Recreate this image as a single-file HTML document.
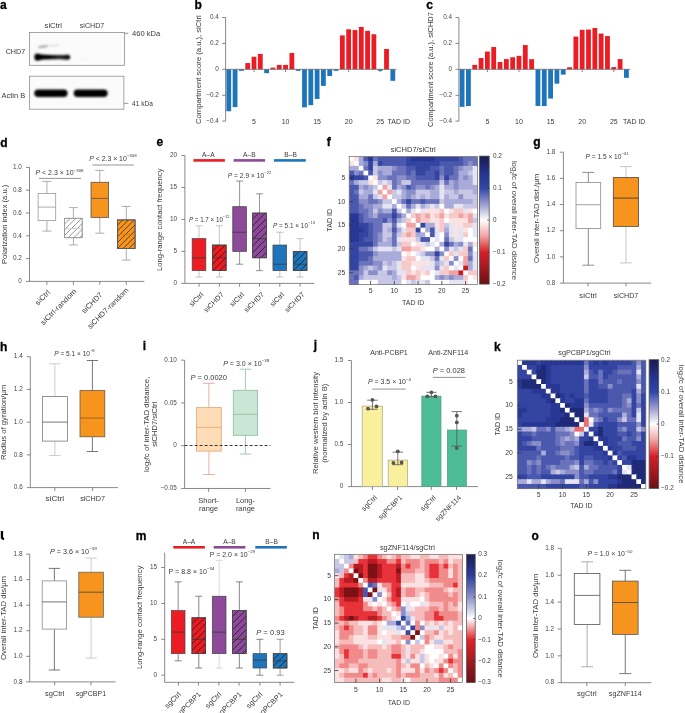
<!DOCTYPE html>
<html><head><meta charset="utf-8"><style>
html,body{margin:0;padding:0;background:#fff;}
svg{display:block;will-change:transform;}
text{font-family:"Liberation Sans", sans-serif;}
</style></head><body>
<svg width="685" height="713" viewBox="0 0 685 713">
<defs>
<filter id="blur1" x="-20%" y="-50%" width="140%" height="200%"><feGaussianBlur stdDeviation="0.8"/></filter>
<pattern id="hw" patternUnits="userSpaceOnUse" width="4" height="4" patternTransform="rotate(45)"><line x1="2" y1="-1" x2="2" y2="5" stroke="#222" stroke-width="0.6"/></pattern>
<pattern id="hd" patternUnits="userSpaceOnUse" width="4" height="4" patternTransform="rotate(45)"><line x1="2" y1="-1" x2="2" y2="5" stroke="#000" stroke-width="0.6"/></pattern>
</defs>
<text x="0.00" y="8.80" font-size="12" font-weight="bold" fill="#000" stroke="#000" stroke-width="0.3" style="fill:#000">a</text>
<text x="53.30" y="28.06" font-size="7.4" text-anchor="middle" fill="#3a3a3a" textLength="17.50" lengthAdjust="spacingAndGlyphs">siCtrl</text>
<text x="92.00" y="28.06" font-size="7.4" text-anchor="middle" fill="#3a3a3a" textLength="24.50" lengthAdjust="spacingAndGlyphs">siCHD7</text>
<rect x="29.40" y="32.40" width="95.10" height="32.90" fill="#fbfbfb" stroke="#8f8f8f" stroke-width="0.8"/>
<rect x="29.40" y="76.20" width="94.50" height="33.00" fill="#fbfbfb" stroke="#8f8f8f" stroke-width="0.8"/>
<linearGradient id="bandg" x1="0" y1="0" x2="1" y2="0"><stop offset="0" stop-color="#000"/><stop offset="0.45" stop-color="#030303"/><stop offset="0.68" stop-color="#262626"/><stop offset="0.85" stop-color="#181818"/><stop offset="1" stop-color="#000"/></linearGradient>
<g filter="url(#blur1)">
<path d="M34.4,57 C34.4,52.8 37,52.9 40.5,54.2 C47,55.0 56,55.1 64.5,55.1 C67.5,54.6 70.2,54.5 70.2,57.2 C70.2,59.9 67.5,59.9 64.5,59.4 C56,59.1 47,59.1 40.5,59.9 C37,61.3 34.4,61.3 34.4,57 Z" fill="url(#bandg)"/>
<ellipse cx="43.2" cy="46.6" rx="5.4" ry="1.0" fill="#9a9a9a" transform="rotate(-9 43.2 46.6)"/>
<ellipse cx="54" cy="45.6" rx="6" ry="0.7" fill="#d4d4d4"/>
<ellipse cx="85" cy="59" rx="4" ry="0.6" fill="#ececec"/>
<rect x="34.3" y="89.5" width="33.3" height="7.4" rx="3.7" fill="#030303"/>
<rect x="73.7" y="89.5" width="34.0" height="7.4" rx="3.7" fill="#030303"/>
</g>
<text x="25.20" y="54.00" font-size="7.5" text-anchor="end" fill="#3a3a3a" textLength="19.50" lengthAdjust="spacingAndGlyphs">CHD7</text>
<text x="25.20" y="98.30" font-size="7.5" text-anchor="end" fill="#3a3a3a" textLength="23.70" lengthAdjust="spacingAndGlyphs">Actin B</text>
<line x1="124.50" y1="33.30" x2="128.30" y2="33.30" stroke="#777" stroke-width="0.8"/>
<line x1="124.00" y1="103.30" x2="128.30" y2="103.30" stroke="#777" stroke-width="0.8"/>
<text x="132.10" y="35.96" font-size="7.4" fill="#3a3a3a" textLength="28.20" lengthAdjust="spacingAndGlyphs">460 kDa</text>
<text x="132.10" y="105.96" font-size="7.4" fill="#3a3a3a" textLength="20.80" lengthAdjust="spacingAndGlyphs">41 kDa</text>
<text x="194.40" y="8.80" font-size="12" font-weight="bold" fill="#000" stroke="#000" stroke-width="0.3" style="fill:#000">b</text>
<rect x="226.36" y="69.30" width="4.80" height="41.96" fill="#1f75bc"/>
<rect x="232.67" y="69.30" width="4.80" height="37.81" fill="#1f75bc"/>
<rect x="238.98" y="69.30" width="4.80" height="1.55" fill="#1f75bc"/>
<rect x="245.29" y="63.08" width="4.80" height="6.22" fill="#ec1c24"/>
<rect x="251.60" y="56.74" width="4.80" height="12.56" fill="#ec1c24"/>
<rect x="257.91" y="53.89" width="4.80" height="15.41" fill="#ec1c24"/>
<rect x="264.22" y="69.30" width="4.80" height="3.88" fill="#1f75bc"/>
<rect x="270.53" y="67.62" width="4.80" height="1.68" fill="#ec1c24"/>
<rect x="276.84" y="64.90" width="4.80" height="4.40" fill="#ec1c24"/>
<rect x="283.15" y="64.90" width="4.80" height="4.40" fill="#ec1c24"/>
<rect x="289.46" y="52.98" width="4.80" height="16.32" fill="#ec1c24"/>
<rect x="295.77" y="69.30" width="4.80" height="1.55" fill="#1f75bc"/>
<rect x="302.08" y="69.30" width="4.80" height="38.07" fill="#1f75bc"/>
<rect x="308.39" y="69.30" width="4.80" height="35.87" fill="#1f75bc"/>
<rect x="314.70" y="69.30" width="4.80" height="29.66" fill="#1f75bc"/>
<rect x="321.01" y="69.30" width="4.80" height="16.58" fill="#1f75bc"/>
<rect x="327.32" y="69.30" width="4.80" height="6.73" fill="#1f75bc"/>
<rect x="333.63" y="69.30" width="4.80" height="1.55" fill="#1f75bc"/>
<rect x="339.94" y="35.37" width="4.80" height="33.93" fill="#ec1c24"/>
<rect x="346.25" y="29.28" width="4.80" height="40.02" fill="#ec1c24"/>
<rect x="352.56" y="30.06" width="4.80" height="39.24" fill="#ec1c24"/>
<rect x="358.87" y="26.95" width="4.80" height="42.35" fill="#ec1c24"/>
<rect x="365.18" y="30.84" width="4.80" height="38.46" fill="#ec1c24"/>
<rect x="371.49" y="34.21" width="4.80" height="35.09" fill="#ec1c24"/>
<rect x="377.80" y="69.30" width="4.80" height="1.55" fill="#1f75bc"/>
<rect x="384.11" y="48.97" width="4.80" height="20.33" fill="#ec1c24"/>
<rect x="390.42" y="69.30" width="4.80" height="11.53" fill="#1f75bc"/>
<line x1="225.60" y1="17.50" x2="225.60" y2="121.10" stroke="#6a6a6a" stroke-width="0.8"/>
<line x1="222.10" y1="17.50" x2="225.60" y2="17.50" stroke="#6a6a6a" stroke-width="0.8"/>
<text x="218.80" y="19.20" font-size="6.4" text-anchor="end" fill="#484848">0.4</text>
<line x1="222.10" y1="43.40" x2="225.60" y2="43.40" stroke="#6a6a6a" stroke-width="0.8"/>
<text x="218.80" y="45.10" font-size="6.4" text-anchor="end" fill="#484848">0.2</text>
<line x1="222.10" y1="69.30" x2="225.60" y2="69.30" stroke="#6a6a6a" stroke-width="0.8"/>
<text x="218.80" y="71.00" font-size="6.4" text-anchor="end" fill="#484848">0</text>
<line x1="222.10" y1="95.30" x2="225.60" y2="95.30" stroke="#6a6a6a" stroke-width="0.8"/>
<text x="218.80" y="97.00" font-size="6.4" text-anchor="end" fill="#484848">−0.2</text>
<line x1="222.10" y1="121.10" x2="225.60" y2="121.10" stroke="#6a6a6a" stroke-width="0.8"/>
<text x="218.80" y="122.80" font-size="6.4" text-anchor="end" fill="#484848">−0.4</text>
<line x1="225.60" y1="69.30" x2="396.50" y2="69.30" stroke="#6a6a6a" stroke-width="0.8"/>
<line x1="254.00" y1="69.30" x2="254.00" y2="72.10" stroke="#666" stroke-width="0.8"/>
<text x="254.00" y="123.82" font-size="7.0" text-anchor="middle" fill="#3a3a3a">5</text>
<line x1="285.55" y1="69.30" x2="285.55" y2="72.10" stroke="#666" stroke-width="0.8"/>
<text x="285.55" y="123.82" font-size="7.0" text-anchor="middle" fill="#3a3a3a">10</text>
<line x1="317.10" y1="69.30" x2="317.10" y2="72.10" stroke="#666" stroke-width="0.8"/>
<text x="317.10" y="123.82" font-size="7.0" text-anchor="middle" fill="#3a3a3a">15</text>
<line x1="348.65" y1="69.30" x2="348.65" y2="72.10" stroke="#666" stroke-width="0.8"/>
<text x="348.65" y="123.82" font-size="7.0" text-anchor="middle" fill="#3a3a3a">20</text>
<line x1="380.20" y1="69.30" x2="380.20" y2="72.10" stroke="#666" stroke-width="0.8"/>
<text x="380.20" y="123.82" font-size="7.0" text-anchor="middle" fill="#3a3a3a">25</text>
<text x="387.60" y="123.89" font-size="7.2" fill="#3a3a3a" textLength="22.40" lengthAdjust="spacingAndGlyphs">TAD ID</text>
<text x="197.79" y="72.41" font-size="7.8" text-anchor="middle" fill="#3a3a3a" textLength="108.60" lengthAdjust="spacingAndGlyphs" transform="rotate(-90 197.79 69.60)">Compartment score (a.u.), siCtrl</text>
<text x="426.30" y="8.80" font-size="12" font-weight="bold" fill="#000" stroke="#000" stroke-width="0.3" style="fill:#000">c</text>
<rect x="459.70" y="69.30" width="4.80" height="37.55" fill="#1f75bc"/>
<rect x="466.02" y="69.30" width="4.80" height="36.78" fill="#1f75bc"/>
<rect x="472.34" y="64.90" width="4.80" height="4.40" fill="#ec1c24"/>
<rect x="478.66" y="58.03" width="4.80" height="11.27" fill="#ec1c24"/>
<rect x="484.98" y="51.56" width="4.80" height="17.74" fill="#ec1c24"/>
<rect x="491.30" y="47.03" width="4.80" height="22.27" fill="#ec1c24"/>
<rect x="497.62" y="62.05" width="4.80" height="7.25" fill="#ec1c24"/>
<rect x="503.94" y="59.07" width="4.80" height="10.23" fill="#ec1c24"/>
<rect x="510.26" y="57.26" width="4.80" height="12.04" fill="#ec1c24"/>
<rect x="516.58" y="55.83" width="4.80" height="13.47" fill="#ec1c24"/>
<rect x="522.90" y="45.08" width="4.80" height="24.22" fill="#ec1c24"/>
<rect x="529.22" y="59.20" width="4.80" height="10.10" fill="#ec1c24"/>
<rect x="535.54" y="69.30" width="4.80" height="36.65" fill="#1f75bc"/>
<rect x="541.86" y="69.30" width="4.80" height="36.78" fill="#1f75bc"/>
<rect x="548.18" y="69.30" width="4.80" height="29.27" fill="#1f75bc"/>
<rect x="554.50" y="69.30" width="4.80" height="14.37" fill="#1f75bc"/>
<rect x="560.82" y="69.30" width="4.80" height="5.31" fill="#1f75bc"/>
<rect x="567.14" y="67.23" width="4.80" height="2.07" fill="#ec1c24"/>
<rect x="573.46" y="36.54" width="4.80" height="32.76" fill="#ec1c24"/>
<rect x="579.78" y="29.80" width="4.80" height="39.50" fill="#ec1c24"/>
<rect x="586.10" y="29.54" width="4.80" height="39.76" fill="#ec1c24"/>
<rect x="592.42" y="27.99" width="4.80" height="41.31" fill="#ec1c24"/>
<rect x="598.74" y="33.56" width="4.80" height="35.74" fill="#ec1c24"/>
<rect x="605.06" y="36.02" width="4.80" height="33.28" fill="#ec1c24"/>
<rect x="611.38" y="67.10" width="4.80" height="2.20" fill="#ec1c24"/>
<rect x="617.70" y="59.07" width="4.80" height="10.23" fill="#ec1c24"/>
<rect x="624.02" y="69.30" width="4.80" height="8.55" fill="#1f75bc"/>
<line x1="458.90" y1="17.50" x2="458.90" y2="121.10" stroke="#6a6a6a" stroke-width="0.8"/>
<line x1="455.40" y1="17.50" x2="458.90" y2="17.50" stroke="#6a6a6a" stroke-width="0.8"/>
<text x="452.10" y="19.20" font-size="6.4" text-anchor="end" fill="#484848">0.4</text>
<line x1="455.40" y1="43.40" x2="458.90" y2="43.40" stroke="#6a6a6a" stroke-width="0.8"/>
<text x="452.10" y="45.10" font-size="6.4" text-anchor="end" fill="#484848">0.2</text>
<line x1="455.40" y1="69.30" x2="458.90" y2="69.30" stroke="#6a6a6a" stroke-width="0.8"/>
<text x="452.10" y="71.00" font-size="6.4" text-anchor="end" fill="#484848">0</text>
<line x1="455.40" y1="95.30" x2="458.90" y2="95.30" stroke="#6a6a6a" stroke-width="0.8"/>
<text x="452.10" y="97.00" font-size="6.4" text-anchor="end" fill="#484848">−0.2</text>
<line x1="455.40" y1="121.10" x2="458.90" y2="121.10" stroke="#6a6a6a" stroke-width="0.8"/>
<text x="452.10" y="122.80" font-size="6.4" text-anchor="end" fill="#484848">−0.4</text>
<line x1="458.90" y1="69.30" x2="630.10" y2="69.30" stroke="#6a6a6a" stroke-width="0.8"/>
<line x1="487.38" y1="69.30" x2="487.38" y2="72.10" stroke="#666" stroke-width="0.8"/>
<text x="487.38" y="123.82" font-size="7.0" text-anchor="middle" fill="#3a3a3a">5</text>
<line x1="518.98" y1="69.30" x2="518.98" y2="72.10" stroke="#666" stroke-width="0.8"/>
<text x="518.98" y="123.82" font-size="7.0" text-anchor="middle" fill="#3a3a3a">10</text>
<line x1="550.58" y1="69.30" x2="550.58" y2="72.10" stroke="#666" stroke-width="0.8"/>
<text x="550.58" y="123.82" font-size="7.0" text-anchor="middle" fill="#3a3a3a">15</text>
<line x1="582.18" y1="69.30" x2="582.18" y2="72.10" stroke="#666" stroke-width="0.8"/>
<text x="582.18" y="123.82" font-size="7.0" text-anchor="middle" fill="#3a3a3a">20</text>
<line x1="613.78" y1="69.30" x2="613.78" y2="72.10" stroke="#666" stroke-width="0.8"/>
<text x="613.78" y="123.82" font-size="7.0" text-anchor="middle" fill="#3a3a3a">25</text>
<text x="623.00" y="123.89" font-size="7.2" fill="#3a3a3a" textLength="22.40" lengthAdjust="spacingAndGlyphs">TAD ID</text>
<text x="429.89" y="72.36" font-size="7.8" text-anchor="middle" fill="#3a3a3a" textLength="114.90" lengthAdjust="spacingAndGlyphs" transform="rotate(-90 429.89 69.55)">Compartment score (a.u.), siCHD7</text>
<text x="0.30" y="146.70" font-size="12" font-weight="bold" fill="#000" stroke="#000" stroke-width="0.3" style="fill:#000">d</text>
<line x1="29.50" y1="167.40" x2="29.50" y2="281.40" stroke="#6a6a6a" stroke-width="0.8"/>
<line x1="26.00" y1="167.40" x2="29.50" y2="167.40" stroke="#6a6a6a" stroke-width="0.8"/>
<text x="21.80" y="169.10" font-size="6.4" text-anchor="end" fill="#484848">1.0</text>
<line x1="26.00" y1="190.20" x2="29.50" y2="190.20" stroke="#6a6a6a" stroke-width="0.8"/>
<text x="21.80" y="191.90" font-size="6.4" text-anchor="end" fill="#484848">0.8</text>
<line x1="26.00" y1="213.00" x2="29.50" y2="213.00" stroke="#6a6a6a" stroke-width="0.8"/>
<text x="21.80" y="214.70" font-size="6.4" text-anchor="end" fill="#484848">0.6</text>
<line x1="26.00" y1="235.80" x2="29.50" y2="235.80" stroke="#6a6a6a" stroke-width="0.8"/>
<text x="21.80" y="237.50" font-size="6.4" text-anchor="end" fill="#484848">0.4</text>
<line x1="26.00" y1="258.60" x2="29.50" y2="258.60" stroke="#6a6a6a" stroke-width="0.8"/>
<text x="21.80" y="260.30" font-size="6.4" text-anchor="end" fill="#484848">0.2</text>
<line x1="26.00" y1="281.40" x2="29.50" y2="281.40" stroke="#6a6a6a" stroke-width="0.8"/>
<text x="21.80" y="283.10" font-size="6.4" text-anchor="end" fill="#484848">0</text>
<line x1="29.50" y1="281.40" x2="144.30" y2="281.40" stroke="#6a6a6a" stroke-width="0.8"/>
<line x1="46.90" y1="281.40" x2="46.90" y2="284.80" stroke="#6a6a6a" stroke-width="0.8"/>
<line x1="73.40" y1="281.40" x2="73.40" y2="284.80" stroke="#6a6a6a" stroke-width="0.8"/>
<line x1="99.80" y1="281.40" x2="99.80" y2="284.80" stroke="#6a6a6a" stroke-width="0.8"/>
<line x1="126.30" y1="281.40" x2="126.30" y2="284.80" stroke="#6a6a6a" stroke-width="0.8"/>
<line x1="46.90" y1="181.40" x2="46.90" y2="193.50" stroke="#9a9a9a" stroke-width="0.8"/>
<line x1="46.90" y1="220.40" x2="46.90" y2="231.10" stroke="#9a9a9a" stroke-width="0.8"/>
<line x1="42.40" y1="181.40" x2="51.40" y2="181.40" stroke="#9a9a9a" stroke-width="0.8"/>
<line x1="42.40" y1="231.10" x2="51.40" y2="231.10" stroke="#9a9a9a" stroke-width="0.8"/>
<rect x="38.10" y="193.50" width="17.60" height="26.90" fill="#fff" stroke="#9a9a9a" stroke-width="0.8"/>
<line x1="38.10" y1="207.10" x2="55.70" y2="207.10" stroke="#9a9a9a" stroke-width="0.8"/>
<line x1="73.40" y1="207.60" x2="73.40" y2="218.30" stroke="#9a9a9a" stroke-width="0.8"/>
<line x1="73.40" y1="237.70" x2="73.40" y2="244.90" stroke="#9a9a9a" stroke-width="0.8"/>
<line x1="68.90" y1="207.60" x2="77.90" y2="207.60" stroke="#9a9a9a" stroke-width="0.8"/>
<line x1="68.90" y1="244.90" x2="77.90" y2="244.90" stroke="#9a9a9a" stroke-width="0.8"/>
<rect x="64.60" y="218.30" width="17.60" height="19.40" fill="#fff" stroke="#9a9a9a" stroke-width="0.8"/>
<clipPath id="hcl1"><rect x="64.60" y="218.30" width="17.60" height="19.40"/></clipPath>
<path clip-path="url(#hcl1)" d="M48.80,239.70L72.20,216.30M54.55,239.70L77.95,216.30M60.30,239.70L83.70,216.30M66.05,239.70L89.45,216.30M71.80,239.70L95.20,216.30M77.55,239.70L100.95,216.30" stroke="#6a6a6a" stroke-width="0.7" fill="none"/>
<rect x="64.60" y="218.30" width="17.60" height="19.40" fill="none" stroke="#9a9a9a" stroke-width="0.8"/>
<line x1="64.60" y1="228.60" x2="82.20" y2="228.60" stroke="#c8c8c8" stroke-width="0.8"/>
<line x1="99.80" y1="170.40" x2="99.80" y2="182.30" stroke="#999" stroke-width="0.8"/>
<line x1="99.80" y1="217.40" x2="99.80" y2="233.20" stroke="#999" stroke-width="0.8"/>
<line x1="95.30" y1="170.40" x2="104.30" y2="170.40" stroke="#999" stroke-width="0.8"/>
<line x1="95.30" y1="233.20" x2="104.30" y2="233.20" stroke="#999" stroke-width="0.8"/>
<rect x="91.00" y="182.30" width="17.60" height="35.10" fill="#f7941d" stroke="#555" stroke-width="0.8"/>
<line x1="91.00" y1="198.40" x2="108.60" y2="198.40" stroke="#555" stroke-width="0.8"/>
<line x1="126.30" y1="206.40" x2="126.30" y2="219.90" stroke="#999" stroke-width="0.8"/>
<line x1="126.30" y1="248.40" x2="126.30" y2="260.10" stroke="#999" stroke-width="0.8"/>
<line x1="121.80" y1="206.40" x2="130.80" y2="206.40" stroke="#999" stroke-width="0.8"/>
<line x1="121.80" y1="260.10" x2="130.80" y2="260.10" stroke="#999" stroke-width="0.8"/>
<rect x="117.50" y="219.90" width="17.60" height="28.50" fill="#f7941d" stroke="#555" stroke-width="0.8"/>
<clipPath id="hcl2"><rect x="117.50" y="219.90" width="17.60" height="28.50"/></clipPath>
<path clip-path="url(#hcl2)" d="M92.20,250.40L124.70,217.90M98.00,250.40L130.50,217.90M103.80,250.40L136.30,217.90M109.60,250.40L142.10,217.90M115.40,250.40L147.90,217.90M121.20,250.40L153.70,217.90M127.00,250.40L159.50,217.90M132.80,250.40L165.30,217.90" stroke="#1a1a1a" stroke-width="0.7" fill="none"/>
<rect x="117.50" y="219.90" width="17.60" height="28.50" fill="none" stroke="#555" stroke-width="0.8"/>
<line x1="117.50" y1="234.40" x2="135.10" y2="234.40" stroke="#d07a18" stroke-width="0.8"/>
<line x1="39.00" y1="178.40" x2="81.00" y2="178.40" stroke="#666" stroke-width="0.7"/>
<line x1="92.30" y1="165.00" x2="133.80" y2="165.00" stroke="#666" stroke-width="0.7"/>
<text x="35.50" y="175.28" font-size="6.6" fill="#3a3a3a" textLength="48.10" lengthAdjust="spacingAndGlyphs"><tspan font-style="italic">P</tspan> &lt; 2.3 × 10<tspan font-size="4.22" dy="-3.63">−308</tspan></text>
<text x="89.20" y="160.88" font-size="6.6" fill="#3a3a3a" textLength="47.50" lengthAdjust="spacingAndGlyphs"><tspan font-style="italic">P</tspan> &lt; 2.3 × 10<tspan font-size="4.22" dy="-3.63">−308</tspan></text>
<text x="3.79" y="227.21" font-size="7.8" text-anchor="middle" fill="#3a3a3a" textLength="79.20" lengthAdjust="spacingAndGlyphs" transform="rotate(-90 3.79 224.40)">Polarization index (a.u.)</text>
<text x="50.70" y="292.90" font-size="7.4" text-anchor="end" fill="#3a3a3a" textLength="18.00" lengthAdjust="spacingAndGlyphs" transform="rotate(-45 50.70 292.90)">siCtrl</text>
<text x="77.00" y="291.80" font-size="7.4" text-anchor="end" fill="#3a3a3a" textLength="47.50" lengthAdjust="spacingAndGlyphs" transform="rotate(-45 77.00 291.80)">siCtrl-random</text>
<text x="103.00" y="295.30" font-size="7.4" text-anchor="end" fill="#3a3a3a" textLength="26.00" lengthAdjust="spacingAndGlyphs" transform="rotate(-45 103.00 295.30)">siCHD7</text>
<text x="129.00" y="290.80" font-size="7.4" text-anchor="end" fill="#3a3a3a" textLength="54.50" lengthAdjust="spacingAndGlyphs" transform="rotate(-45 129.00 290.80)">siCHD7-random</text>
<text x="156.50" y="145.80" font-size="12" font-weight="bold" fill="#000" stroke="#000" stroke-width="0.3" style="fill:#000">e</text>
<line x1="184.90" y1="155.50" x2="184.90" y2="283.40" stroke="#6a6a6a" stroke-width="0.8"/>
<line x1="181.40" y1="155.50" x2="184.90" y2="155.50" stroke="#6a6a6a" stroke-width="0.8"/>
<text x="177.00" y="157.20" font-size="6.4" text-anchor="end" fill="#484848">20</text>
<line x1="181.40" y1="187.47" x2="184.90" y2="187.47" stroke="#6a6a6a" stroke-width="0.8"/>
<text x="177.00" y="189.18" font-size="6.4" text-anchor="end" fill="#484848">15</text>
<line x1="181.40" y1="219.45" x2="184.90" y2="219.45" stroke="#6a6a6a" stroke-width="0.8"/>
<text x="177.00" y="221.15" font-size="6.4" text-anchor="end" fill="#484848">10</text>
<line x1="181.40" y1="251.42" x2="184.90" y2="251.42" stroke="#6a6a6a" stroke-width="0.8"/>
<text x="177.00" y="253.13" font-size="6.4" text-anchor="end" fill="#484848">5</text>
<line x1="181.40" y1="283.40" x2="184.90" y2="283.40" stroke="#6a6a6a" stroke-width="0.8"/>
<text x="177.00" y="285.10" font-size="6.4" text-anchor="end" fill="#484848">0</text>
<line x1="184.90" y1="283.40" x2="314.20" y2="283.40" stroke="#6a6a6a" stroke-width="0.8"/>
<line x1="199.00" y1="283.40" x2="199.00" y2="286.80" stroke="#6a6a6a" stroke-width="0.8"/>
<line x1="219.30" y1="283.40" x2="219.30" y2="286.80" stroke="#6a6a6a" stroke-width="0.8"/>
<line x1="239.60" y1="283.40" x2="239.60" y2="286.80" stroke="#6a6a6a" stroke-width="0.8"/>
<line x1="259.50" y1="283.40" x2="259.50" y2="286.80" stroke="#6a6a6a" stroke-width="0.8"/>
<line x1="279.80" y1="283.40" x2="279.80" y2="286.80" stroke="#6a6a6a" stroke-width="0.8"/>
<line x1="300.10" y1="283.40" x2="300.10" y2="286.80" stroke="#6a6a6a" stroke-width="0.8"/>
<line x1="199.00" y1="225.84" x2="199.00" y2="238.63" stroke="#aaa" stroke-width="0.7"/>
<line x1="199.00" y1="270.61" x2="199.00" y2="277.00" stroke="#aaa" stroke-width="0.7"/>
<line x1="195.50" y1="225.84" x2="202.50" y2="225.84" stroke="#aaa" stroke-width="0.7"/>
<line x1="195.50" y1="277.00" x2="202.50" y2="277.00" stroke="#aaa" stroke-width="0.7"/>
<rect x="192.15" y="238.63" width="13.70" height="31.97" fill="#ec1c24" stroke="#444" stroke-width="0.7"/>
<line x1="192.15" y1="257.82" x2="205.85" y2="257.82" stroke="#333" stroke-width="0.7"/>
<line x1="219.30" y1="225.84" x2="219.30" y2="245.03" stroke="#aaa" stroke-width="0.7"/>
<line x1="219.30" y1="270.61" x2="219.30" y2="277.00" stroke="#aaa" stroke-width="0.7"/>
<line x1="215.80" y1="225.84" x2="222.80" y2="225.84" stroke="#aaa" stroke-width="0.7"/>
<line x1="215.80" y1="277.00" x2="222.80" y2="277.00" stroke="#aaa" stroke-width="0.7"/>
<rect x="212.45" y="245.03" width="13.70" height="25.58" fill="#ec1c24" stroke="#444" stroke-width="0.7"/>
<clipPath id="hcl3"><rect x="212.45" y="245.03" width="13.70" height="25.58"/></clipPath>
<path clip-path="url(#hcl3)" d="M190.87,272.61L220.45,243.03M197.57,272.61L227.15,243.03M204.27,272.61L233.85,243.03M210.97,272.61L240.55,243.03M217.67,272.61L247.25,243.03" stroke="#111" stroke-width="0.7" fill="none"/>
<rect x="212.45" y="245.03" width="13.70" height="25.58" fill="none" stroke="#444" stroke-width="0.7"/>
<line x1="212.45" y1="257.82" x2="226.15" y2="257.82" stroke="#333" stroke-width="0.7"/>
<line x1="239.60" y1="181.08" x2="239.60" y2="206.66" stroke="#666" stroke-width="0.7"/>
<line x1="239.60" y1="251.42" x2="239.60" y2="264.21" stroke="#666" stroke-width="0.7"/>
<line x1="236.10" y1="181.08" x2="243.10" y2="181.08" stroke="#666" stroke-width="0.7"/>
<line x1="236.10" y1="264.21" x2="243.10" y2="264.21" stroke="#666" stroke-width="0.7"/>
<rect x="232.75" y="206.66" width="13.70" height="44.77" fill="#8c4a98" stroke="#444" stroke-width="0.7"/>
<line x1="232.75" y1="232.24" x2="246.45" y2="232.24" stroke="#333" stroke-width="0.7"/>
<line x1="259.50" y1="193.87" x2="259.50" y2="213.05" stroke="#666" stroke-width="0.7"/>
<line x1="259.50" y1="257.82" x2="259.50" y2="270.61" stroke="#666" stroke-width="0.7"/>
<line x1="256.00" y1="193.87" x2="263.00" y2="193.87" stroke="#666" stroke-width="0.7"/>
<line x1="256.00" y1="270.61" x2="263.00" y2="270.61" stroke="#666" stroke-width="0.7"/>
<rect x="252.65" y="213.05" width="13.70" height="44.77" fill="#8c4a98" stroke="#444" stroke-width="0.7"/>
<clipPath id="hcl4"><rect x="252.65" y="213.05" width="13.70" height="44.77"/></clipPath>
<path clip-path="url(#hcl4)" d="M211.88,259.82L260.65,211.05M218.58,259.82L267.35,211.05M225.28,259.82L274.05,211.05M231.99,259.82L280.75,211.05M238.69,259.82L287.45,211.05M245.38,259.82L294.15,211.05M252.08,259.82L300.85,211.05M258.79,259.82L307.55,211.05" stroke="#111" stroke-width="0.7" fill="none"/>
<rect x="252.65" y="213.05" width="13.70" height="44.77" fill="none" stroke="#444" stroke-width="0.7"/>
<line x1="252.65" y1="238.63" x2="266.35" y2="238.63" stroke="#333" stroke-width="0.7"/>
<line x1="279.80" y1="232.24" x2="279.80" y2="245.03" stroke="#aaa" stroke-width="0.7"/>
<line x1="279.80" y1="270.61" x2="279.80" y2="277.00" stroke="#aaa" stroke-width="0.7"/>
<line x1="276.30" y1="232.24" x2="283.30" y2="232.24" stroke="#aaa" stroke-width="0.7"/>
<line x1="276.30" y1="277.00" x2="283.30" y2="277.00" stroke="#aaa" stroke-width="0.7"/>
<rect x="272.95" y="245.03" width="13.70" height="25.58" fill="#1f75bc" stroke="#444" stroke-width="0.7"/>
<line x1="272.95" y1="264.21" x2="286.65" y2="264.21" stroke="#333" stroke-width="0.7"/>
<line x1="300.10" y1="238.63" x2="300.10" y2="251.42" stroke="#aaa" stroke-width="0.7"/>
<line x1="300.10" y1="270.61" x2="300.10" y2="277.00" stroke="#aaa" stroke-width="0.7"/>
<line x1="296.60" y1="238.63" x2="303.60" y2="238.63" stroke="#aaa" stroke-width="0.7"/>
<line x1="296.60" y1="277.00" x2="303.60" y2="277.00" stroke="#aaa" stroke-width="0.7"/>
<rect x="293.25" y="251.42" width="13.70" height="19.18" fill="#1f75bc" stroke="#444" stroke-width="0.7"/>
<clipPath id="hcl5"><rect x="293.25" y="251.42" width="13.70" height="19.18"/></clipPath>
<path clip-path="url(#hcl5)" d="M278.06,272.61L301.25,249.42M284.77,272.61L307.95,249.42M291.46,272.61L314.65,249.42M298.17,272.61L321.35,249.42M304.86,272.61L328.05,249.42" stroke="#111" stroke-width="0.7" fill="none"/>
<rect x="293.25" y="251.42" width="13.70" height="19.18" fill="none" stroke="#444" stroke-width="0.7"/>
<line x1="293.25" y1="264.21" x2="306.95" y2="264.21" stroke="#333" stroke-width="0.7"/>
<rect x="193.40" y="159.10" width="31.50" height="2.60" fill="#ec1c24"/>
<rect x="233.60" y="159.10" width="31.50" height="2.60" fill="#8c4a98"/>
<rect x="274.00" y="159.10" width="31.80" height="2.60" fill="#1f75bc"/>
<text x="208.30" y="157.38" font-size="6.6" text-anchor="middle" fill="#3a3a3a">A–A</text>
<text x="249.30" y="157.38" font-size="6.6" text-anchor="middle" fill="#3a3a3a">A–B</text>
<text x="290.60" y="157.38" font-size="6.6" text-anchor="middle" fill="#3a3a3a">B–B</text>
<text x="188.90" y="221.68" font-size="6.6" fill="#3a3a3a" textLength="40.70" lengthAdjust="spacingAndGlyphs"><tspan font-style="italic">P</tspan> = 1.7 × 10<tspan font-size="4.22" dy="-3.63">−12</tspan></text>
<text x="227.80" y="177.58" font-size="6.6" fill="#3a3a3a" textLength="43.60" lengthAdjust="spacingAndGlyphs"><tspan font-style="italic">P</tspan> = 2.9 × 10<tspan font-size="4.22" dy="-3.63">−22</tspan></text>
<text x="273.00" y="227.98" font-size="6.6" fill="#3a3a3a" textLength="42.00" lengthAdjust="spacingAndGlyphs"><tspan font-style="italic">P</tspan> = 5.1 × 10<tspan font-size="4.22" dy="-3.63">−13</tspan></text>
<text x="159.69" y="222.56" font-size="7.8" text-anchor="middle" fill="#3a3a3a" textLength="102.70" lengthAdjust="spacingAndGlyphs" transform="rotate(-90 159.69 219.75)">Long-range contact frequency</text>
<text x="204.00" y="295.00" font-size="7.0" text-anchor="end" fill="#3a3a3a" textLength="17.00" lengthAdjust="spacingAndGlyphs" transform="rotate(-45 204.00 295.00)">siCtrl</text>
<text x="224.30" y="295.00" font-size="7.0" text-anchor="end" fill="#3a3a3a" textLength="25.00" lengthAdjust="spacingAndGlyphs" transform="rotate(-45 224.30 295.00)">siCHD7</text>
<text x="244.60" y="295.00" font-size="7.0" text-anchor="end" fill="#3a3a3a" textLength="17.00" lengthAdjust="spacingAndGlyphs" transform="rotate(-45 244.60 295.00)">siCtrl</text>
<text x="264.50" y="295.00" font-size="7.0" text-anchor="end" fill="#3a3a3a" textLength="25.00" lengthAdjust="spacingAndGlyphs" transform="rotate(-45 264.50 295.00)">siCHD7</text>
<text x="284.80" y="295.00" font-size="7.0" text-anchor="end" fill="#3a3a3a" textLength="17.00" lengthAdjust="spacingAndGlyphs" transform="rotate(-45 284.80 295.00)">siCtrl</text>
<text x="305.10" y="295.00" font-size="7.0" text-anchor="end" fill="#3a3a3a" textLength="25.00" lengthAdjust="spacingAndGlyphs" transform="rotate(-45 305.10 295.00)">siCHD7</text>
<text x="326.65" y="145.70" font-size="12" font-weight="bold" fill="#000" stroke="#000" stroke-width="0.3" style="fill:#000">f</text>
<text x="413.25" y="152.49" font-size="7.2" text-anchor="middle" fill="#3a3a3a" textLength="45.10" lengthAdjust="spacingAndGlyphs">siCHD7/siCtrl</text>
<clipPath id="hclip1"><rect x="349.20" y="156.40" width="128.25" height="128.25"/></clipPath>
<g clip-path="url(#hclip1)">
<rect x="349.20" y="156.40" width="5.75" height="5.75" fill="#ffffff"/>
<rect x="353.95" y="156.40" width="5.75" height="5.75" fill="#fbe3e3"/>
<rect x="358.70" y="156.40" width="5.75" height="5.75" fill="#a9abd9"/>
<rect x="363.45" y="156.40" width="5.75" height="5.75" fill="#4a58ad"/>
<rect x="368.20" y="156.40" width="5.75" height="5.75" fill="#283794"/>
<rect x="372.95" y="156.40" width="5.75" height="5.75" fill="#6a72bb"/>
<rect x="377.70" y="156.40" width="5.75" height="5.75" fill="#4a58ad"/>
<rect x="382.45" y="156.40" width="5.75" height="5.75" fill="#4a58ad"/>
<rect x="387.20" y="156.40" width="5.75" height="5.75" fill="#4a58ad"/>
<rect x="391.95" y="156.40" width="5.75" height="5.75" fill="#4a58ad"/>
<rect x="396.70" y="156.40" width="5.75" height="5.75" fill="#4a58ad"/>
<rect x="401.45" y="156.40" width="5.75" height="5.75" fill="#4a58ad"/>
<rect x="406.20" y="156.40" width="5.75" height="5.75" fill="#3444a1"/>
<rect x="410.95" y="156.40" width="5.75" height="5.75" fill="#283794"/>
<rect x="415.70" y="156.40" width="5.75" height="5.75" fill="#283794"/>
<rect x="420.45" y="156.40" width="5.75" height="5.75" fill="#283794"/>
<rect x="425.20" y="156.40" width="5.75" height="5.75" fill="#283794"/>
<rect x="429.95" y="156.40" width="5.75" height="5.75" fill="#283794"/>
<rect x="434.70" y="156.40" width="5.75" height="5.75" fill="#3444a1"/>
<rect x="439.45" y="156.40" width="5.75" height="5.75" fill="#3444a1"/>
<rect x="444.20" y="156.40" width="5.75" height="5.75" fill="#3444a1"/>
<rect x="448.95" y="156.40" width="5.75" height="5.75" fill="#3444a1"/>
<rect x="453.70" y="156.40" width="5.75" height="5.75" fill="#3444a1"/>
<rect x="458.45" y="156.40" width="5.75" height="5.75" fill="#4a58ad"/>
<rect x="463.20" y="156.40" width="5.75" height="5.75" fill="#6a72bb"/>
<rect x="467.95" y="156.40" width="5.75" height="5.75" fill="#6a72bb"/>
<rect x="472.70" y="156.40" width="5.75" height="5.75" fill="#6a72bb"/>
<rect x="349.20" y="161.15" width="5.75" height="5.75" fill="#fbe3e3"/>
<rect x="353.95" y="161.15" width="5.75" height="5.75" fill="#ffffff"/>
<rect x="358.70" y="161.15" width="5.75" height="5.75" fill="#a9abd9"/>
<rect x="363.45" y="161.15" width="5.75" height="5.75" fill="#8a8ec9"/>
<rect x="368.20" y="161.15" width="5.75" height="5.75" fill="#3444a1"/>
<rect x="372.95" y="161.15" width="5.75" height="5.75" fill="#a9abd9"/>
<rect x="377.70" y="161.15" width="5.75" height="5.75" fill="#3444a1"/>
<rect x="382.45" y="161.15" width="5.75" height="5.75" fill="#4a58ad"/>
<rect x="387.20" y="161.15" width="5.75" height="5.75" fill="#4a58ad"/>
<rect x="391.95" y="161.15" width="5.75" height="5.75" fill="#4a58ad"/>
<rect x="396.70" y="161.15" width="5.75" height="5.75" fill="#4a58ad"/>
<rect x="401.45" y="161.15" width="5.75" height="5.75" fill="#4a58ad"/>
<rect x="406.20" y="161.15" width="5.75" height="5.75" fill="#3444a1"/>
<rect x="410.95" y="161.15" width="5.75" height="5.75" fill="#3444a1"/>
<rect x="415.70" y="161.15" width="5.75" height="5.75" fill="#3444a1"/>
<rect x="420.45" y="161.15" width="5.75" height="5.75" fill="#3444a1"/>
<rect x="425.20" y="161.15" width="5.75" height="5.75" fill="#3444a1"/>
<rect x="429.95" y="161.15" width="5.75" height="5.75" fill="#3444a1"/>
<rect x="434.70" y="161.15" width="5.75" height="5.75" fill="#3444a1"/>
<rect x="439.45" y="161.15" width="5.75" height="5.75" fill="#4a58ad"/>
<rect x="444.20" y="161.15" width="5.75" height="5.75" fill="#4a58ad"/>
<rect x="448.95" y="161.15" width="5.75" height="5.75" fill="#4a58ad"/>
<rect x="453.70" y="161.15" width="5.75" height="5.75" fill="#4a58ad"/>
<rect x="458.45" y="161.15" width="5.75" height="5.75" fill="#4a58ad"/>
<rect x="463.20" y="161.15" width="5.75" height="5.75" fill="#6a72bb"/>
<rect x="467.95" y="161.15" width="5.75" height="5.75" fill="#8a8ec9"/>
<rect x="472.70" y="161.15" width="5.75" height="5.75" fill="#6a72bb"/>
<rect x="349.20" y="165.90" width="5.75" height="5.75" fill="#a9abd9"/>
<rect x="353.95" y="165.90" width="5.75" height="5.75" fill="#a9abd9"/>
<rect x="358.70" y="165.90" width="5.75" height="5.75" fill="#ffffff"/>
<rect x="363.45" y="165.90" width="5.75" height="5.75" fill="#6a72bb"/>
<rect x="368.20" y="165.90" width="5.75" height="5.75" fill="#3444a1"/>
<rect x="372.95" y="165.90" width="5.75" height="5.75" fill="#c8c8e6"/>
<rect x="377.70" y="165.90" width="5.75" height="5.75" fill="#a9abd9"/>
<rect x="382.45" y="165.90" width="5.75" height="5.75" fill="#a9abd9"/>
<rect x="387.20" y="165.90" width="5.75" height="5.75" fill="#a9abd9"/>
<rect x="391.95" y="165.90" width="5.75" height="5.75" fill="#8a8ec9"/>
<rect x="396.70" y="165.90" width="5.75" height="5.75" fill="#6a72bb"/>
<rect x="401.45" y="165.90" width="5.75" height="5.75" fill="#6a72bb"/>
<rect x="406.20" y="165.90" width="5.75" height="5.75" fill="#4a58ad"/>
<rect x="410.95" y="165.90" width="5.75" height="5.75" fill="#4a58ad"/>
<rect x="415.70" y="165.90" width="5.75" height="5.75" fill="#3444a1"/>
<rect x="420.45" y="165.90" width="5.75" height="5.75" fill="#3444a1"/>
<rect x="425.20" y="165.90" width="5.75" height="5.75" fill="#3444a1"/>
<rect x="429.95" y="165.90" width="5.75" height="5.75" fill="#4a58ad"/>
<rect x="434.70" y="165.90" width="5.75" height="5.75" fill="#4a58ad"/>
<rect x="439.45" y="165.90" width="5.75" height="5.75" fill="#6a72bb"/>
<rect x="444.20" y="165.90" width="5.75" height="5.75" fill="#4a58ad"/>
<rect x="448.95" y="165.90" width="5.75" height="5.75" fill="#4a58ad"/>
<rect x="453.70" y="165.90" width="5.75" height="5.75" fill="#6a72bb"/>
<rect x="458.45" y="165.90" width="5.75" height="5.75" fill="#8a8ec9"/>
<rect x="463.20" y="165.90" width="5.75" height="5.75" fill="#a9abd9"/>
<rect x="467.95" y="165.90" width="5.75" height="5.75" fill="#a9abd9"/>
<rect x="472.70" y="165.90" width="5.75" height="5.75" fill="#e4e4f2"/>
<rect x="349.20" y="170.65" width="5.75" height="5.75" fill="#4a58ad"/>
<rect x="353.95" y="170.65" width="5.75" height="5.75" fill="#8a8ec9"/>
<rect x="358.70" y="170.65" width="5.75" height="5.75" fill="#6a72bb"/>
<rect x="363.45" y="170.65" width="5.75" height="5.75" fill="#ffffff"/>
<rect x="368.20" y="170.65" width="5.75" height="5.75" fill="#4a58ad"/>
<rect x="372.95" y="170.65" width="5.75" height="5.75" fill="#c8c8e6"/>
<rect x="377.70" y="170.65" width="5.75" height="5.75" fill="#8a8ec9"/>
<rect x="382.45" y="170.65" width="5.75" height="5.75" fill="#a9abd9"/>
<rect x="387.20" y="170.65" width="5.75" height="5.75" fill="#a9abd9"/>
<rect x="391.95" y="170.65" width="5.75" height="5.75" fill="#6a72bb"/>
<rect x="396.70" y="170.65" width="5.75" height="5.75" fill="#6a72bb"/>
<rect x="401.45" y="170.65" width="5.75" height="5.75" fill="#6a72bb"/>
<rect x="406.20" y="170.65" width="5.75" height="5.75" fill="#4a58ad"/>
<rect x="410.95" y="170.65" width="5.75" height="5.75" fill="#6a72bb"/>
<rect x="415.70" y="170.65" width="5.75" height="5.75" fill="#3444a1"/>
<rect x="420.45" y="170.65" width="5.75" height="5.75" fill="#3444a1"/>
<rect x="425.20" y="170.65" width="5.75" height="5.75" fill="#4a58ad"/>
<rect x="429.95" y="170.65" width="5.75" height="5.75" fill="#4a58ad"/>
<rect x="434.70" y="170.65" width="5.75" height="5.75" fill="#3444a1"/>
<rect x="439.45" y="170.65" width="5.75" height="5.75" fill="#6a72bb"/>
<rect x="444.20" y="170.65" width="5.75" height="5.75" fill="#4a58ad"/>
<rect x="448.95" y="170.65" width="5.75" height="5.75" fill="#4a58ad"/>
<rect x="453.70" y="170.65" width="5.75" height="5.75" fill="#6a72bb"/>
<rect x="458.45" y="170.65" width="5.75" height="5.75" fill="#a9abd9"/>
<rect x="463.20" y="170.65" width="5.75" height="5.75" fill="#a9abd9"/>
<rect x="467.95" y="170.65" width="5.75" height="5.75" fill="#c8c8e6"/>
<rect x="472.70" y="170.65" width="5.75" height="5.75" fill="#e4e4f2"/>
<rect x="349.20" y="175.40" width="5.75" height="5.75" fill="#283794"/>
<rect x="353.95" y="175.40" width="5.75" height="5.75" fill="#3444a1"/>
<rect x="358.70" y="175.40" width="5.75" height="5.75" fill="#3444a1"/>
<rect x="363.45" y="175.40" width="5.75" height="5.75" fill="#4a58ad"/>
<rect x="368.20" y="175.40" width="5.75" height="5.75" fill="#ffffff"/>
<rect x="372.95" y="175.40" width="5.75" height="5.75" fill="#fbe3e3"/>
<rect x="377.70" y="175.40" width="5.75" height="5.75" fill="#8a8ec9"/>
<rect x="382.45" y="175.40" width="5.75" height="5.75" fill="#8a8ec9"/>
<rect x="387.20" y="175.40" width="5.75" height="5.75" fill="#6a72bb"/>
<rect x="391.95" y="175.40" width="5.75" height="5.75" fill="#6a72bb"/>
<rect x="396.70" y="175.40" width="5.75" height="5.75" fill="#8a8ec9"/>
<rect x="401.45" y="175.40" width="5.75" height="5.75" fill="#8a8ec9"/>
<rect x="406.20" y="175.40" width="5.75" height="5.75" fill="#6a72bb"/>
<rect x="410.95" y="175.40" width="5.75" height="5.75" fill="#6a72bb"/>
<rect x="415.70" y="175.40" width="5.75" height="5.75" fill="#4a58ad"/>
<rect x="420.45" y="175.40" width="5.75" height="5.75" fill="#4a58ad"/>
<rect x="425.20" y="175.40" width="5.75" height="5.75" fill="#4a58ad"/>
<rect x="429.95" y="175.40" width="5.75" height="5.75" fill="#4a58ad"/>
<rect x="434.70" y="175.40" width="5.75" height="5.75" fill="#3444a1"/>
<rect x="439.45" y="175.40" width="5.75" height="5.75" fill="#8a8ec9"/>
<rect x="444.20" y="175.40" width="5.75" height="5.75" fill="#3444a1"/>
<rect x="448.95" y="175.40" width="5.75" height="5.75" fill="#6a72bb"/>
<rect x="453.70" y="175.40" width="5.75" height="5.75" fill="#6a72bb"/>
<rect x="458.45" y="175.40" width="5.75" height="5.75" fill="#a9abd9"/>
<rect x="463.20" y="175.40" width="5.75" height="5.75" fill="#8a8ec9"/>
<rect x="467.95" y="175.40" width="5.75" height="5.75" fill="#a9abd9"/>
<rect x="472.70" y="175.40" width="5.75" height="5.75" fill="#e4e4f2"/>
<rect x="349.20" y="180.15" width="5.75" height="5.75" fill="#6a72bb"/>
<rect x="353.95" y="180.15" width="5.75" height="5.75" fill="#a9abd9"/>
<rect x="358.70" y="180.15" width="5.75" height="5.75" fill="#c8c8e6"/>
<rect x="363.45" y="180.15" width="5.75" height="5.75" fill="#c8c8e6"/>
<rect x="368.20" y="180.15" width="5.75" height="5.75" fill="#fbe3e3"/>
<rect x="372.95" y="180.15" width="5.75" height="5.75" fill="#ffffff"/>
<rect x="377.70" y="180.15" width="5.75" height="5.75" fill="#c8c8e6"/>
<rect x="382.45" y="180.15" width="5.75" height="5.75" fill="#e4e4f2"/>
<rect x="387.20" y="180.15" width="5.75" height="5.75" fill="#c8c8e6"/>
<rect x="391.95" y="180.15" width="5.75" height="5.75" fill="#6a72bb"/>
<rect x="396.70" y="180.15" width="5.75" height="5.75" fill="#8a8ec9"/>
<rect x="401.45" y="180.15" width="5.75" height="5.75" fill="#c8c8e6"/>
<rect x="406.20" y="180.15" width="5.75" height="5.75" fill="#c8c8e6"/>
<rect x="410.95" y="180.15" width="5.75" height="5.75" fill="#6a72bb"/>
<rect x="415.70" y="180.15" width="5.75" height="5.75" fill="#6a72bb"/>
<rect x="420.45" y="180.15" width="5.75" height="5.75" fill="#6a72bb"/>
<rect x="425.20" y="180.15" width="5.75" height="5.75" fill="#6a72bb"/>
<rect x="429.95" y="180.15" width="5.75" height="5.75" fill="#6a72bb"/>
<rect x="434.70" y="180.15" width="5.75" height="5.75" fill="#6a72bb"/>
<rect x="439.45" y="180.15" width="5.75" height="5.75" fill="#c8c8e6"/>
<rect x="444.20" y="180.15" width="5.75" height="5.75" fill="#6a72bb"/>
<rect x="448.95" y="180.15" width="5.75" height="5.75" fill="#a9abd9"/>
<rect x="453.70" y="180.15" width="5.75" height="5.75" fill="#8a8ec9"/>
<rect x="458.45" y="180.15" width="5.75" height="5.75" fill="#a9abd9"/>
<rect x="463.20" y="180.15" width="5.75" height="5.75" fill="#a9abd9"/>
<rect x="467.95" y="180.15" width="5.75" height="5.75" fill="#a9abd9"/>
<rect x="472.70" y="180.15" width="5.75" height="5.75" fill="#e4e4f2"/>
<rect x="349.20" y="184.90" width="5.75" height="5.75" fill="#4a58ad"/>
<rect x="353.95" y="184.90" width="5.75" height="5.75" fill="#4a58ad"/>
<rect x="358.70" y="184.90" width="5.75" height="5.75" fill="#a9abd9"/>
<rect x="363.45" y="184.90" width="5.75" height="5.75" fill="#8a8ec9"/>
<rect x="368.20" y="184.90" width="5.75" height="5.75" fill="#a9abd9"/>
<rect x="372.95" y="184.90" width="5.75" height="5.75" fill="#c8c8e6"/>
<rect x="377.70" y="184.90" width="5.75" height="5.75" fill="#ffffff"/>
<rect x="382.45" y="184.90" width="5.75" height="5.75" fill="#f0a3a3"/>
<rect x="387.20" y="184.90" width="5.75" height="5.75" fill="#e4e4f2"/>
<rect x="391.95" y="184.90" width="5.75" height="5.75" fill="#6a72bb"/>
<rect x="396.70" y="184.90" width="5.75" height="5.75" fill="#a9abd9"/>
<rect x="401.45" y="184.90" width="5.75" height="5.75" fill="#8a8ec9"/>
<rect x="406.20" y="184.90" width="5.75" height="5.75" fill="#4a58ad"/>
<rect x="410.95" y="184.90" width="5.75" height="5.75" fill="#6a72bb"/>
<rect x="415.70" y="184.90" width="5.75" height="5.75" fill="#8a8ec9"/>
<rect x="420.45" y="184.90" width="5.75" height="5.75" fill="#8a8ec9"/>
<rect x="425.20" y="184.90" width="5.75" height="5.75" fill="#6a72bb"/>
<rect x="429.95" y="184.90" width="5.75" height="5.75" fill="#8a8ec9"/>
<rect x="434.70" y="184.90" width="5.75" height="5.75" fill="#a9abd9"/>
<rect x="439.45" y="184.90" width="5.75" height="5.75" fill="#e4e4f2"/>
<rect x="444.20" y="184.90" width="5.75" height="5.75" fill="#a9abd9"/>
<rect x="448.95" y="184.90" width="5.75" height="5.75" fill="#a9abd9"/>
<rect x="453.70" y="184.90" width="5.75" height="5.75" fill="#8a8ec9"/>
<rect x="458.45" y="184.90" width="5.75" height="5.75" fill="#a9abd9"/>
<rect x="463.20" y="184.90" width="5.75" height="5.75" fill="#a9abd9"/>
<rect x="467.95" y="184.90" width="5.75" height="5.75" fill="#a9abd9"/>
<rect x="472.70" y="184.90" width="5.75" height="5.75" fill="#a9abd9"/>
<rect x="349.20" y="189.65" width="5.75" height="5.75" fill="#4a58ad"/>
<rect x="353.95" y="189.65" width="5.75" height="5.75" fill="#6a72bb"/>
<rect x="358.70" y="189.65" width="5.75" height="5.75" fill="#c8c8e6"/>
<rect x="363.45" y="189.65" width="5.75" height="5.75" fill="#a9abd9"/>
<rect x="368.20" y="189.65" width="5.75" height="5.75" fill="#a9abd9"/>
<rect x="372.95" y="189.65" width="5.75" height="5.75" fill="#e4e4f2"/>
<rect x="377.70" y="189.65" width="5.75" height="5.75" fill="#f0a3a3"/>
<rect x="382.45" y="189.65" width="5.75" height="5.75" fill="#ffffff"/>
<rect x="387.20" y="189.65" width="5.75" height="5.75" fill="#f0a3a3"/>
<rect x="391.95" y="189.65" width="5.75" height="5.75" fill="#c8c8e6"/>
<rect x="396.70" y="189.65" width="5.75" height="5.75" fill="#e4e4f2"/>
<rect x="401.45" y="189.65" width="5.75" height="5.75" fill="#a9abd9"/>
<rect x="406.20" y="189.65" width="5.75" height="5.75" fill="#8a8ec9"/>
<rect x="410.95" y="189.65" width="5.75" height="5.75" fill="#8a8ec9"/>
<rect x="415.70" y="189.65" width="5.75" height="5.75" fill="#c8c8e6"/>
<rect x="420.45" y="189.65" width="5.75" height="5.75" fill="#c8c8e6"/>
<rect x="425.20" y="189.65" width="5.75" height="5.75" fill="#c8c8e6"/>
<rect x="429.95" y="189.65" width="5.75" height="5.75" fill="#a9abd9"/>
<rect x="434.70" y="189.65" width="5.75" height="5.75" fill="#a9abd9"/>
<rect x="439.45" y="189.65" width="5.75" height="5.75" fill="#e4e4f2"/>
<rect x="444.20" y="189.65" width="5.75" height="5.75" fill="#c8c8e6"/>
<rect x="448.95" y="189.65" width="5.75" height="5.75" fill="#c8c8e6"/>
<rect x="453.70" y="189.65" width="5.75" height="5.75" fill="#a9abd9"/>
<rect x="458.45" y="189.65" width="5.75" height="5.75" fill="#c8c8e6"/>
<rect x="463.20" y="189.65" width="5.75" height="5.75" fill="#c8c8e6"/>
<rect x="467.95" y="189.65" width="5.75" height="5.75" fill="#c8c8e6"/>
<rect x="472.70" y="189.65" width="5.75" height="5.75" fill="#a9abd9"/>
<rect x="349.20" y="194.40" width="5.75" height="5.75" fill="#4a58ad"/>
<rect x="353.95" y="194.40" width="5.75" height="5.75" fill="#4a58ad"/>
<rect x="358.70" y="194.40" width="5.75" height="5.75" fill="#a9abd9"/>
<rect x="363.45" y="194.40" width="5.75" height="5.75" fill="#a9abd9"/>
<rect x="368.20" y="194.40" width="5.75" height="5.75" fill="#6a72bb"/>
<rect x="372.95" y="194.40" width="5.75" height="5.75" fill="#c8c8e6"/>
<rect x="377.70" y="194.40" width="5.75" height="5.75" fill="#e4e4f2"/>
<rect x="382.45" y="194.40" width="5.75" height="5.75" fill="#f0a3a3"/>
<rect x="387.20" y="194.40" width="5.75" height="5.75" fill="#ffffff"/>
<rect x="391.95" y="194.40" width="5.75" height="5.75" fill="#c8c8e6"/>
<rect x="396.70" y="194.40" width="5.75" height="5.75" fill="#c8c8e6"/>
<rect x="401.45" y="194.40" width="5.75" height="5.75" fill="#a9abd9"/>
<rect x="406.20" y="194.40" width="5.75" height="5.75" fill="#8a8ec9"/>
<rect x="410.95" y="194.40" width="5.75" height="5.75" fill="#a9abd9"/>
<rect x="415.70" y="194.40" width="5.75" height="5.75" fill="#c8c8e6"/>
<rect x="420.45" y="194.40" width="5.75" height="5.75" fill="#a9abd9"/>
<rect x="425.20" y="194.40" width="5.75" height="5.75" fill="#c8c8e6"/>
<rect x="429.95" y="194.40" width="5.75" height="5.75" fill="#a9abd9"/>
<rect x="434.70" y="194.40" width="5.75" height="5.75" fill="#a9abd9"/>
<rect x="439.45" y="194.40" width="5.75" height="5.75" fill="#e4e4f2"/>
<rect x="444.20" y="194.40" width="5.75" height="5.75" fill="#a9abd9"/>
<rect x="448.95" y="194.40" width="5.75" height="5.75" fill="#c8c8e6"/>
<rect x="453.70" y="194.40" width="5.75" height="5.75" fill="#c8c8e6"/>
<rect x="458.45" y="194.40" width="5.75" height="5.75" fill="#8a8ec9"/>
<rect x="463.20" y="194.40" width="5.75" height="5.75" fill="#c8c8e6"/>
<rect x="467.95" y="194.40" width="5.75" height="5.75" fill="#c8c8e6"/>
<rect x="472.70" y="194.40" width="5.75" height="5.75" fill="#c8c8e6"/>
<rect x="349.20" y="199.15" width="5.75" height="5.75" fill="#4a58ad"/>
<rect x="353.95" y="199.15" width="5.75" height="5.75" fill="#4a58ad"/>
<rect x="358.70" y="199.15" width="5.75" height="5.75" fill="#8a8ec9"/>
<rect x="363.45" y="199.15" width="5.75" height="5.75" fill="#8a8ec9"/>
<rect x="368.20" y="199.15" width="5.75" height="5.75" fill="#6a72bb"/>
<rect x="372.95" y="199.15" width="5.75" height="5.75" fill="#6a72bb"/>
<rect x="377.70" y="199.15" width="5.75" height="5.75" fill="#8a8ec9"/>
<rect x="382.45" y="199.15" width="5.75" height="5.75" fill="#c8c8e6"/>
<rect x="387.20" y="199.15" width="5.75" height="5.75" fill="#c8c8e6"/>
<rect x="391.95" y="199.15" width="5.75" height="5.75" fill="#ffffff"/>
<rect x="396.70" y="199.15" width="5.75" height="5.75" fill="#a9abd9"/>
<rect x="401.45" y="199.15" width="5.75" height="5.75" fill="#6a72bb"/>
<rect x="406.20" y="199.15" width="5.75" height="5.75" fill="#3444a1"/>
<rect x="410.95" y="199.15" width="5.75" height="5.75" fill="#6a72bb"/>
<rect x="415.70" y="199.15" width="5.75" height="5.75" fill="#6a72bb"/>
<rect x="420.45" y="199.15" width="5.75" height="5.75" fill="#4a58ad"/>
<rect x="425.20" y="199.15" width="5.75" height="5.75" fill="#6a72bb"/>
<rect x="429.95" y="199.15" width="5.75" height="5.75" fill="#6a72bb"/>
<rect x="434.70" y="199.15" width="5.75" height="5.75" fill="#6a72bb"/>
<rect x="439.45" y="199.15" width="5.75" height="5.75" fill="#c8c8e6"/>
<rect x="444.20" y="199.15" width="5.75" height="5.75" fill="#a9abd9"/>
<rect x="448.95" y="199.15" width="5.75" height="5.75" fill="#a9abd9"/>
<rect x="453.70" y="199.15" width="5.75" height="5.75" fill="#a9abd9"/>
<rect x="458.45" y="199.15" width="5.75" height="5.75" fill="#a9abd9"/>
<rect x="463.20" y="199.15" width="5.75" height="5.75" fill="#a9abd9"/>
<rect x="467.95" y="199.15" width="5.75" height="5.75" fill="#a9abd9"/>
<rect x="472.70" y="199.15" width="5.75" height="5.75" fill="#c8c8e6"/>
<rect x="349.20" y="203.90" width="5.75" height="5.75" fill="#4a58ad"/>
<rect x="353.95" y="203.90" width="5.75" height="5.75" fill="#4a58ad"/>
<rect x="358.70" y="203.90" width="5.75" height="5.75" fill="#6a72bb"/>
<rect x="363.45" y="203.90" width="5.75" height="5.75" fill="#8a8ec9"/>
<rect x="368.20" y="203.90" width="5.75" height="5.75" fill="#8a8ec9"/>
<rect x="372.95" y="203.90" width="5.75" height="5.75" fill="#a9abd9"/>
<rect x="377.70" y="203.90" width="5.75" height="5.75" fill="#a9abd9"/>
<rect x="382.45" y="203.90" width="5.75" height="5.75" fill="#e4e4f2"/>
<rect x="387.20" y="203.90" width="5.75" height="5.75" fill="#e4e4f2"/>
<rect x="391.95" y="203.90" width="5.75" height="5.75" fill="#a9abd9"/>
<rect x="396.70" y="203.90" width="5.75" height="5.75" fill="#ffffff"/>
<rect x="401.45" y="203.90" width="5.75" height="5.75" fill="#c8c8e6"/>
<rect x="406.20" y="203.90" width="5.75" height="5.75" fill="#6a72bb"/>
<rect x="410.95" y="203.90" width="5.75" height="5.75" fill="#a9abd9"/>
<rect x="415.70" y="203.90" width="5.75" height="5.75" fill="#e4e4f2"/>
<rect x="420.45" y="203.90" width="5.75" height="5.75" fill="#a9abd9"/>
<rect x="425.20" y="203.90" width="5.75" height="5.75" fill="#c8c8e6"/>
<rect x="429.95" y="203.90" width="5.75" height="5.75" fill="#e4e4f2"/>
<rect x="434.70" y="203.90" width="5.75" height="5.75" fill="#c8c8e6"/>
<rect x="439.45" y="203.90" width="5.75" height="5.75" fill="#ffffff"/>
<rect x="444.20" y="203.90" width="5.75" height="5.75" fill="#a9abd9"/>
<rect x="448.95" y="203.90" width="5.75" height="5.75" fill="#a9abd9"/>
<rect x="453.70" y="203.90" width="5.75" height="5.75" fill="#e4e4f2"/>
<rect x="458.45" y="203.90" width="5.75" height="5.75" fill="#e4e4f2"/>
<rect x="463.20" y="203.90" width="5.75" height="5.75" fill="#c8c8e6"/>
<rect x="467.95" y="203.90" width="5.75" height="5.75" fill="#c8c8e6"/>
<rect x="472.70" y="203.90" width="5.75" height="5.75" fill="#c8c8e6"/>
<rect x="349.20" y="208.65" width="5.75" height="5.75" fill="#4a58ad"/>
<rect x="353.95" y="208.65" width="5.75" height="5.75" fill="#4a58ad"/>
<rect x="358.70" y="208.65" width="5.75" height="5.75" fill="#6a72bb"/>
<rect x="363.45" y="208.65" width="5.75" height="5.75" fill="#6a72bb"/>
<rect x="368.20" y="208.65" width="5.75" height="5.75" fill="#8a8ec9"/>
<rect x="372.95" y="208.65" width="5.75" height="5.75" fill="#c8c8e6"/>
<rect x="377.70" y="208.65" width="5.75" height="5.75" fill="#8a8ec9"/>
<rect x="382.45" y="208.65" width="5.75" height="5.75" fill="#a9abd9"/>
<rect x="387.20" y="208.65" width="5.75" height="5.75" fill="#a9abd9"/>
<rect x="391.95" y="208.65" width="5.75" height="5.75" fill="#4a58ad"/>
<rect x="396.70" y="208.65" width="5.75" height="5.75" fill="#c8c8e6"/>
<rect x="401.45" y="208.65" width="5.75" height="5.75" fill="#ffffff"/>
<rect x="406.20" y="208.65" width="5.75" height="5.75" fill="#a9abd9"/>
<rect x="410.95" y="208.65" width="5.75" height="5.75" fill="#e4e4f2"/>
<rect x="415.70" y="208.65" width="5.75" height="5.75" fill="#ffffff"/>
<rect x="420.45" y="208.65" width="5.75" height="5.75" fill="#e4e4f2"/>
<rect x="425.20" y="208.65" width="5.75" height="5.75" fill="#fbe3e3"/>
<rect x="429.95" y="208.65" width="5.75" height="5.75" fill="#fbe3e3"/>
<rect x="434.70" y="208.65" width="5.75" height="5.75" fill="#fbe3e3"/>
<rect x="439.45" y="208.65" width="5.75" height="5.75" fill="#f7c9c9"/>
<rect x="444.20" y="208.65" width="5.75" height="5.75" fill="#ffffff"/>
<rect x="448.95" y="208.65" width="5.75" height="5.75" fill="#fbe3e3"/>
<rect x="453.70" y="208.65" width="5.75" height="5.75" fill="#f7c9c9"/>
<rect x="458.45" y="208.65" width="5.75" height="5.75" fill="#f7c9c9"/>
<rect x="463.20" y="208.65" width="5.75" height="5.75" fill="#e4e4f2"/>
<rect x="467.95" y="208.65" width="5.75" height="5.75" fill="#fbe3e3"/>
<rect x="472.70" y="208.65" width="5.75" height="5.75" fill="#ffffff"/>
<rect x="349.20" y="213.40" width="5.75" height="5.75" fill="#283794"/>
<rect x="353.95" y="213.40" width="5.75" height="5.75" fill="#283794"/>
<rect x="358.70" y="213.40" width="5.75" height="5.75" fill="#4a58ad"/>
<rect x="363.45" y="213.40" width="5.75" height="5.75" fill="#6a72bb"/>
<rect x="368.20" y="213.40" width="5.75" height="5.75" fill="#8a8ec9"/>
<rect x="372.95" y="213.40" width="5.75" height="5.75" fill="#a9abd9"/>
<rect x="377.70" y="213.40" width="5.75" height="5.75" fill="#6a72bb"/>
<rect x="382.45" y="213.40" width="5.75" height="5.75" fill="#6a72bb"/>
<rect x="387.20" y="213.40" width="5.75" height="5.75" fill="#6a72bb"/>
<rect x="391.95" y="213.40" width="5.75" height="5.75" fill="#3444a1"/>
<rect x="396.70" y="213.40" width="5.75" height="5.75" fill="#6a72bb"/>
<rect x="401.45" y="213.40" width="5.75" height="5.75" fill="#a9abd9"/>
<rect x="406.20" y="213.40" width="5.75" height="5.75" fill="#ffffff"/>
<rect x="410.95" y="213.40" width="5.75" height="5.75" fill="#f7c9c9"/>
<rect x="415.70" y="213.40" width="5.75" height="5.75" fill="#f0a3a3"/>
<rect x="420.45" y="213.40" width="5.75" height="5.75" fill="#f7c9c9"/>
<rect x="425.20" y="213.40" width="5.75" height="5.75" fill="#f0a3a3"/>
<rect x="429.95" y="213.40" width="5.75" height="5.75" fill="#fbe3e3"/>
<rect x="434.70" y="213.40" width="5.75" height="5.75" fill="#f7c9c9"/>
<rect x="439.45" y="213.40" width="5.75" height="5.75" fill="#f0a3a3"/>
<rect x="444.20" y="213.40" width="5.75" height="5.75" fill="#fbe3e3"/>
<rect x="448.95" y="213.40" width="5.75" height="5.75" fill="#f7c9c9"/>
<rect x="453.70" y="213.40" width="5.75" height="5.75" fill="#f7c9c9"/>
<rect x="458.45" y="213.40" width="5.75" height="5.75" fill="#f0a3a3"/>
<rect x="463.20" y="213.40" width="5.75" height="5.75" fill="#f7c9c9"/>
<rect x="467.95" y="213.40" width="5.75" height="5.75" fill="#f0a3a3"/>
<rect x="472.70" y="213.40" width="5.75" height="5.75" fill="#e4e4f2"/>
<rect x="349.20" y="218.15" width="5.75" height="5.75" fill="#283794"/>
<rect x="353.95" y="218.15" width="5.75" height="5.75" fill="#283794"/>
<rect x="358.70" y="218.15" width="5.75" height="5.75" fill="#4a58ad"/>
<rect x="363.45" y="218.15" width="5.75" height="5.75" fill="#6a72bb"/>
<rect x="368.20" y="218.15" width="5.75" height="5.75" fill="#6a72bb"/>
<rect x="372.95" y="218.15" width="5.75" height="5.75" fill="#6a72bb"/>
<rect x="377.70" y="218.15" width="5.75" height="5.75" fill="#6a72bb"/>
<rect x="382.45" y="218.15" width="5.75" height="5.75" fill="#4a58ad"/>
<rect x="387.20" y="218.15" width="5.75" height="5.75" fill="#8a8ec9"/>
<rect x="391.95" y="218.15" width="5.75" height="5.75" fill="#4a58ad"/>
<rect x="396.70" y="218.15" width="5.75" height="5.75" fill="#a9abd9"/>
<rect x="401.45" y="218.15" width="5.75" height="5.75" fill="#c8c8e6"/>
<rect x="406.20" y="218.15" width="5.75" height="5.75" fill="#f7c9c9"/>
<rect x="410.95" y="218.15" width="5.75" height="5.75" fill="#ffffff"/>
<rect x="415.70" y="218.15" width="5.75" height="5.75" fill="#f0a3a3"/>
<rect x="420.45" y="218.15" width="5.75" height="5.75" fill="#f7c9c9"/>
<rect x="425.20" y="218.15" width="5.75" height="5.75" fill="#f7c9c9"/>
<rect x="429.95" y="218.15" width="5.75" height="5.75" fill="#fbe3e3"/>
<rect x="434.70" y="218.15" width="5.75" height="5.75" fill="#fbe3e3"/>
<rect x="439.45" y="218.15" width="5.75" height="5.75" fill="#f7c9c9"/>
<rect x="444.20" y="218.15" width="5.75" height="5.75" fill="#ffffff"/>
<rect x="448.95" y="218.15" width="5.75" height="5.75" fill="#fbe3e3"/>
<rect x="453.70" y="218.15" width="5.75" height="5.75" fill="#fbe3e3"/>
<rect x="458.45" y="218.15" width="5.75" height="5.75" fill="#fbe3e3"/>
<rect x="463.20" y="218.15" width="5.75" height="5.75" fill="#fbe3e3"/>
<rect x="467.95" y="218.15" width="5.75" height="5.75" fill="#f0a3a3"/>
<rect x="472.70" y="218.15" width="5.75" height="5.75" fill="#c8c8e6"/>
<rect x="349.20" y="222.90" width="5.75" height="5.75" fill="#283794"/>
<rect x="353.95" y="222.90" width="5.75" height="5.75" fill="#283794"/>
<rect x="358.70" y="222.90" width="5.75" height="5.75" fill="#3444a1"/>
<rect x="363.45" y="222.90" width="5.75" height="5.75" fill="#3444a1"/>
<rect x="368.20" y="222.90" width="5.75" height="5.75" fill="#4a58ad"/>
<rect x="372.95" y="222.90" width="5.75" height="5.75" fill="#6a72bb"/>
<rect x="377.70" y="222.90" width="5.75" height="5.75" fill="#6a72bb"/>
<rect x="382.45" y="222.90" width="5.75" height="5.75" fill="#c8c8e6"/>
<rect x="387.20" y="222.90" width="5.75" height="5.75" fill="#c8c8e6"/>
<rect x="391.95" y="222.90" width="5.75" height="5.75" fill="#6a72bb"/>
<rect x="396.70" y="222.90" width="5.75" height="5.75" fill="#e4e4f2"/>
<rect x="401.45" y="222.90" width="5.75" height="5.75" fill="#ffffff"/>
<rect x="406.20" y="222.90" width="5.75" height="5.75" fill="#f0a3a3"/>
<rect x="410.95" y="222.90" width="5.75" height="5.75" fill="#f0a3a3"/>
<rect x="415.70" y="222.90" width="5.75" height="5.75" fill="#ffffff"/>
<rect x="420.45" y="222.90" width="5.75" height="5.75" fill="#3444a1"/>
<rect x="425.20" y="222.90" width="5.75" height="5.75" fill="#a9abd9"/>
<rect x="429.95" y="222.90" width="5.75" height="5.75" fill="#a9abd9"/>
<rect x="434.70" y="222.90" width="5.75" height="5.75" fill="#fbe3e3"/>
<rect x="439.45" y="222.90" width="5.75" height="5.75" fill="#f7c9c9"/>
<rect x="444.20" y="222.90" width="5.75" height="5.75" fill="#c8c8e6"/>
<rect x="448.95" y="222.90" width="5.75" height="5.75" fill="#e4e4f2"/>
<rect x="453.70" y="222.90" width="5.75" height="5.75" fill="#fbe3e3"/>
<rect x="458.45" y="222.90" width="5.75" height="5.75" fill="#fbe3e3"/>
<rect x="463.20" y="222.90" width="5.75" height="5.75" fill="#f7c9c9"/>
<rect x="467.95" y="222.90" width="5.75" height="5.75" fill="#f7c9c9"/>
<rect x="472.70" y="222.90" width="5.75" height="5.75" fill="#e4e4f2"/>
<rect x="349.20" y="227.65" width="5.75" height="5.75" fill="#283794"/>
<rect x="353.95" y="227.65" width="5.75" height="5.75" fill="#283794"/>
<rect x="358.70" y="227.65" width="5.75" height="5.75" fill="#283794"/>
<rect x="363.45" y="227.65" width="5.75" height="5.75" fill="#3444a1"/>
<rect x="368.20" y="227.65" width="5.75" height="5.75" fill="#4a58ad"/>
<rect x="372.95" y="227.65" width="5.75" height="5.75" fill="#6a72bb"/>
<rect x="377.70" y="227.65" width="5.75" height="5.75" fill="#6a72bb"/>
<rect x="382.45" y="227.65" width="5.75" height="5.75" fill="#c8c8e6"/>
<rect x="387.20" y="227.65" width="5.75" height="5.75" fill="#a9abd9"/>
<rect x="391.95" y="227.65" width="5.75" height="5.75" fill="#4a58ad"/>
<rect x="396.70" y="227.65" width="5.75" height="5.75" fill="#a9abd9"/>
<rect x="401.45" y="227.65" width="5.75" height="5.75" fill="#e4e4f2"/>
<rect x="406.20" y="227.65" width="5.75" height="5.75" fill="#f7c9c9"/>
<rect x="410.95" y="227.65" width="5.75" height="5.75" fill="#f7c9c9"/>
<rect x="415.70" y="227.65" width="5.75" height="5.75" fill="#3444a1"/>
<rect x="420.45" y="227.65" width="5.75" height="5.75" fill="#ffffff"/>
<rect x="425.20" y="227.65" width="5.75" height="5.75" fill="#a9abd9"/>
<rect x="429.95" y="227.65" width="5.75" height="5.75" fill="#4a58ad"/>
<rect x="434.70" y="227.65" width="5.75" height="5.75" fill="#e4e4f2"/>
<rect x="439.45" y="227.65" width="5.75" height="5.75" fill="#f7c9c9"/>
<rect x="444.20" y="227.65" width="5.75" height="5.75" fill="#a9abd9"/>
<rect x="448.95" y="227.65" width="5.75" height="5.75" fill="#e4e4f2"/>
<rect x="453.70" y="227.65" width="5.75" height="5.75" fill="#fbe3e3"/>
<rect x="458.45" y="227.65" width="5.75" height="5.75" fill="#e4e4f2"/>
<rect x="463.20" y="227.65" width="5.75" height="5.75" fill="#fbe3e3"/>
<rect x="467.95" y="227.65" width="5.75" height="5.75" fill="#ffffff"/>
<rect x="472.70" y="227.65" width="5.75" height="5.75" fill="#e4e4f2"/>
<rect x="349.20" y="232.40" width="5.75" height="5.75" fill="#283794"/>
<rect x="353.95" y="232.40" width="5.75" height="5.75" fill="#283794"/>
<rect x="358.70" y="232.40" width="5.75" height="5.75" fill="#3444a1"/>
<rect x="363.45" y="232.40" width="5.75" height="5.75" fill="#3444a1"/>
<rect x="368.20" y="232.40" width="5.75" height="5.75" fill="#4a58ad"/>
<rect x="372.95" y="232.40" width="5.75" height="5.75" fill="#6a72bb"/>
<rect x="377.70" y="232.40" width="5.75" height="5.75" fill="#8a8ec9"/>
<rect x="382.45" y="232.40" width="5.75" height="5.75" fill="#c8c8e6"/>
<rect x="387.20" y="232.40" width="5.75" height="5.75" fill="#c8c8e6"/>
<rect x="391.95" y="232.40" width="5.75" height="5.75" fill="#6a72bb"/>
<rect x="396.70" y="232.40" width="5.75" height="5.75" fill="#c8c8e6"/>
<rect x="401.45" y="232.40" width="5.75" height="5.75" fill="#f7c9c9"/>
<rect x="406.20" y="232.40" width="5.75" height="5.75" fill="#f0a3a3"/>
<rect x="410.95" y="232.40" width="5.75" height="5.75" fill="#f7c9c9"/>
<rect x="415.70" y="232.40" width="5.75" height="5.75" fill="#a9abd9"/>
<rect x="420.45" y="232.40" width="5.75" height="5.75" fill="#a9abd9"/>
<rect x="425.20" y="232.40" width="5.75" height="5.75" fill="#ffffff"/>
<rect x="429.95" y="232.40" width="5.75" height="5.75" fill="#4a58ad"/>
<rect x="434.70" y="232.40" width="5.75" height="5.75" fill="#e4e4f2"/>
<rect x="439.45" y="232.40" width="5.75" height="5.75" fill="#ffffff"/>
<rect x="444.20" y="232.40" width="5.75" height="5.75" fill="#8a8ec9"/>
<rect x="448.95" y="232.40" width="5.75" height="5.75" fill="#e4e4f2"/>
<rect x="453.70" y="232.40" width="5.75" height="5.75" fill="#fbe3e3"/>
<rect x="458.45" y="232.40" width="5.75" height="5.75" fill="#e4e4f2"/>
<rect x="463.20" y="232.40" width="5.75" height="5.75" fill="#f7c9c9"/>
<rect x="467.95" y="232.40" width="5.75" height="5.75" fill="#ffffff"/>
<rect x="472.70" y="232.40" width="5.75" height="5.75" fill="#e4e4f2"/>
<rect x="349.20" y="237.15" width="5.75" height="5.75" fill="#283794"/>
<rect x="353.95" y="237.15" width="5.75" height="5.75" fill="#283794"/>
<rect x="358.70" y="237.15" width="5.75" height="5.75" fill="#3444a1"/>
<rect x="363.45" y="237.15" width="5.75" height="5.75" fill="#4a58ad"/>
<rect x="368.20" y="237.15" width="5.75" height="5.75" fill="#4a58ad"/>
<rect x="372.95" y="237.15" width="5.75" height="5.75" fill="#6a72bb"/>
<rect x="377.70" y="237.15" width="5.75" height="5.75" fill="#8a8ec9"/>
<rect x="382.45" y="237.15" width="5.75" height="5.75" fill="#c8c8e6"/>
<rect x="387.20" y="237.15" width="5.75" height="5.75" fill="#a9abd9"/>
<rect x="391.95" y="237.15" width="5.75" height="5.75" fill="#6a72bb"/>
<rect x="396.70" y="237.15" width="5.75" height="5.75" fill="#e4e4f2"/>
<rect x="401.45" y="237.15" width="5.75" height="5.75" fill="#fbe3e3"/>
<rect x="406.20" y="237.15" width="5.75" height="5.75" fill="#fbe3e3"/>
<rect x="410.95" y="237.15" width="5.75" height="5.75" fill="#fbe3e3"/>
<rect x="415.70" y="237.15" width="5.75" height="5.75" fill="#c8c8e6"/>
<rect x="420.45" y="237.15" width="5.75" height="5.75" fill="#4a58ad"/>
<rect x="425.20" y="237.15" width="5.75" height="5.75" fill="#4a58ad"/>
<rect x="429.95" y="237.15" width="5.75" height="5.75" fill="#ffffff"/>
<rect x="434.70" y="237.15" width="5.75" height="5.75" fill="#e4e4f2"/>
<rect x="439.45" y="237.15" width="5.75" height="5.75" fill="#ffffff"/>
<rect x="444.20" y="237.15" width="5.75" height="5.75" fill="#6a72bb"/>
<rect x="448.95" y="237.15" width="5.75" height="5.75" fill="#c8c8e6"/>
<rect x="453.70" y="237.15" width="5.75" height="5.75" fill="#e4e4f2"/>
<rect x="458.45" y="237.15" width="5.75" height="5.75" fill="#e4e4f2"/>
<rect x="463.20" y="237.15" width="5.75" height="5.75" fill="#ffffff"/>
<rect x="467.95" y="237.15" width="5.75" height="5.75" fill="#ffffff"/>
<rect x="472.70" y="237.15" width="5.75" height="5.75" fill="#ffffff"/>
<rect x="349.20" y="241.90" width="5.75" height="5.75" fill="#3444a1"/>
<rect x="353.95" y="241.90" width="5.75" height="5.75" fill="#3444a1"/>
<rect x="358.70" y="241.90" width="5.75" height="5.75" fill="#3444a1"/>
<rect x="363.45" y="241.90" width="5.75" height="5.75" fill="#3444a1"/>
<rect x="368.20" y="241.90" width="5.75" height="5.75" fill="#3444a1"/>
<rect x="372.95" y="241.90" width="5.75" height="5.75" fill="#6a72bb"/>
<rect x="377.70" y="241.90" width="5.75" height="5.75" fill="#a9abd9"/>
<rect x="382.45" y="241.90" width="5.75" height="5.75" fill="#a9abd9"/>
<rect x="387.20" y="241.90" width="5.75" height="5.75" fill="#a9abd9"/>
<rect x="391.95" y="241.90" width="5.75" height="5.75" fill="#6a72bb"/>
<rect x="396.70" y="241.90" width="5.75" height="5.75" fill="#c8c8e6"/>
<rect x="401.45" y="241.90" width="5.75" height="5.75" fill="#f7c9c9"/>
<rect x="406.20" y="241.90" width="5.75" height="5.75" fill="#f7c9c9"/>
<rect x="410.95" y="241.90" width="5.75" height="5.75" fill="#ffffff"/>
<rect x="415.70" y="241.90" width="5.75" height="5.75" fill="#fbe3e3"/>
<rect x="420.45" y="241.90" width="5.75" height="5.75" fill="#e4e4f2"/>
<rect x="425.20" y="241.90" width="5.75" height="5.75" fill="#c8c8e6"/>
<rect x="429.95" y="241.90" width="5.75" height="5.75" fill="#e4e4f2"/>
<rect x="434.70" y="241.90" width="5.75" height="5.75" fill="#ffffff"/>
<rect x="439.45" y="241.90" width="5.75" height="5.75" fill="#a9abd9"/>
<rect x="444.20" y="241.90" width="5.75" height="5.75" fill="#3444a1"/>
<rect x="448.95" y="241.90" width="5.75" height="5.75" fill="#6a72bb"/>
<rect x="453.70" y="241.90" width="5.75" height="5.75" fill="#a9abd9"/>
<rect x="458.45" y="241.90" width="5.75" height="5.75" fill="#8a8ec9"/>
<rect x="463.20" y="241.90" width="5.75" height="5.75" fill="#e4e4f2"/>
<rect x="467.95" y="241.90" width="5.75" height="5.75" fill="#a9abd9"/>
<rect x="472.70" y="241.90" width="5.75" height="5.75" fill="#fbe3e3"/>
<rect x="349.20" y="246.65" width="5.75" height="5.75" fill="#3444a1"/>
<rect x="353.95" y="246.65" width="5.75" height="5.75" fill="#3444a1"/>
<rect x="358.70" y="246.65" width="5.75" height="5.75" fill="#6a72bb"/>
<rect x="363.45" y="246.65" width="5.75" height="5.75" fill="#6a72bb"/>
<rect x="368.20" y="246.65" width="5.75" height="5.75" fill="#8a8ec9"/>
<rect x="372.95" y="246.65" width="5.75" height="5.75" fill="#c8c8e6"/>
<rect x="377.70" y="246.65" width="5.75" height="5.75" fill="#e4e4f2"/>
<rect x="382.45" y="246.65" width="5.75" height="5.75" fill="#e4e4f2"/>
<rect x="387.20" y="246.65" width="5.75" height="5.75" fill="#e4e4f2"/>
<rect x="391.95" y="246.65" width="5.75" height="5.75" fill="#c8c8e6"/>
<rect x="396.70" y="246.65" width="5.75" height="5.75" fill="#e4e4f2"/>
<rect x="401.45" y="246.65" width="5.75" height="5.75" fill="#f0a3a3"/>
<rect x="406.20" y="246.65" width="5.75" height="5.75" fill="#f0a3a3"/>
<rect x="410.95" y="246.65" width="5.75" height="5.75" fill="#f7c9c9"/>
<rect x="415.70" y="246.65" width="5.75" height="5.75" fill="#f7c9c9"/>
<rect x="420.45" y="246.65" width="5.75" height="5.75" fill="#fbe3e3"/>
<rect x="425.20" y="246.65" width="5.75" height="5.75" fill="#ffffff"/>
<rect x="429.95" y="246.65" width="5.75" height="5.75" fill="#ffffff"/>
<rect x="434.70" y="246.65" width="5.75" height="5.75" fill="#a9abd9"/>
<rect x="439.45" y="246.65" width="5.75" height="5.75" fill="#ffffff"/>
<rect x="444.20" y="246.65" width="5.75" height="5.75" fill="#8a8ec9"/>
<rect x="448.95" y="246.65" width="5.75" height="5.75" fill="#e4e4f2"/>
<rect x="453.70" y="246.65" width="5.75" height="5.75" fill="#c8c8e6"/>
<rect x="458.45" y="246.65" width="5.75" height="5.75" fill="#e4e4f2"/>
<rect x="463.20" y="246.65" width="5.75" height="5.75" fill="#f7c9c9"/>
<rect x="467.95" y="246.65" width="5.75" height="5.75" fill="#6a72bb"/>
<rect x="472.70" y="246.65" width="5.75" height="5.75" fill="#ffffff"/>
<rect x="349.20" y="251.40" width="5.75" height="5.75" fill="#3444a1"/>
<rect x="353.95" y="251.40" width="5.75" height="5.75" fill="#3444a1"/>
<rect x="358.70" y="251.40" width="5.75" height="5.75" fill="#4a58ad"/>
<rect x="363.45" y="251.40" width="5.75" height="5.75" fill="#4a58ad"/>
<rect x="368.20" y="251.40" width="5.75" height="5.75" fill="#4a58ad"/>
<rect x="372.95" y="251.40" width="5.75" height="5.75" fill="#8a8ec9"/>
<rect x="377.70" y="251.40" width="5.75" height="5.75" fill="#a9abd9"/>
<rect x="382.45" y="251.40" width="5.75" height="5.75" fill="#a9abd9"/>
<rect x="387.20" y="251.40" width="5.75" height="5.75" fill="#a9abd9"/>
<rect x="391.95" y="251.40" width="5.75" height="5.75" fill="#a9abd9"/>
<rect x="396.70" y="251.40" width="5.75" height="5.75" fill="#a9abd9"/>
<rect x="401.45" y="251.40" width="5.75" height="5.75" fill="#ffffff"/>
<rect x="406.20" y="251.40" width="5.75" height="5.75" fill="#fbe3e3"/>
<rect x="410.95" y="251.40" width="5.75" height="5.75" fill="#ffffff"/>
<rect x="415.70" y="251.40" width="5.75" height="5.75" fill="#e4e4f2"/>
<rect x="420.45" y="251.40" width="5.75" height="5.75" fill="#c8c8e6"/>
<rect x="425.20" y="251.40" width="5.75" height="5.75" fill="#8a8ec9"/>
<rect x="429.95" y="251.40" width="5.75" height="5.75" fill="#8a8ec9"/>
<rect x="434.70" y="251.40" width="5.75" height="5.75" fill="#3444a1"/>
<rect x="439.45" y="251.40" width="5.75" height="5.75" fill="#8a8ec9"/>
<rect x="444.20" y="251.40" width="5.75" height="5.75" fill="#ffffff"/>
<rect x="448.95" y="251.40" width="5.75" height="5.75" fill="#f7c9c9"/>
<rect x="453.70" y="251.40" width="5.75" height="5.75" fill="#e4e4f2"/>
<rect x="458.45" y="251.40" width="5.75" height="5.75" fill="#f7c9c9"/>
<rect x="463.20" y="251.40" width="5.75" height="5.75" fill="#f7c9c9"/>
<rect x="467.95" y="251.40" width="5.75" height="5.75" fill="#8a8ec9"/>
<rect x="472.70" y="251.40" width="5.75" height="5.75" fill="#e4e4f2"/>
<rect x="349.20" y="256.15" width="5.75" height="5.75" fill="#3444a1"/>
<rect x="353.95" y="256.15" width="5.75" height="5.75" fill="#3444a1"/>
<rect x="358.70" y="256.15" width="5.75" height="5.75" fill="#4a58ad"/>
<rect x="363.45" y="256.15" width="5.75" height="5.75" fill="#4a58ad"/>
<rect x="368.20" y="256.15" width="5.75" height="5.75" fill="#6a72bb"/>
<rect x="372.95" y="256.15" width="5.75" height="5.75" fill="#a9abd9"/>
<rect x="377.70" y="256.15" width="5.75" height="5.75" fill="#a9abd9"/>
<rect x="382.45" y="256.15" width="5.75" height="5.75" fill="#a9abd9"/>
<rect x="387.20" y="256.15" width="5.75" height="5.75" fill="#a9abd9"/>
<rect x="391.95" y="256.15" width="5.75" height="5.75" fill="#a9abd9"/>
<rect x="396.70" y="256.15" width="5.75" height="5.75" fill="#a9abd9"/>
<rect x="401.45" y="256.15" width="5.75" height="5.75" fill="#fbe3e3"/>
<rect x="406.20" y="256.15" width="5.75" height="5.75" fill="#f7c9c9"/>
<rect x="410.95" y="256.15" width="5.75" height="5.75" fill="#f7c9c9"/>
<rect x="415.70" y="256.15" width="5.75" height="5.75" fill="#ffffff"/>
<rect x="420.45" y="256.15" width="5.75" height="5.75" fill="#e4e4f2"/>
<rect x="425.20" y="256.15" width="5.75" height="5.75" fill="#e4e4f2"/>
<rect x="429.95" y="256.15" width="5.75" height="5.75" fill="#c8c8e6"/>
<rect x="434.70" y="256.15" width="5.75" height="5.75" fill="#6a72bb"/>
<rect x="439.45" y="256.15" width="5.75" height="5.75" fill="#e4e4f2"/>
<rect x="444.20" y="256.15" width="5.75" height="5.75" fill="#f7c9c9"/>
<rect x="448.95" y="256.15" width="5.75" height="5.75" fill="#ffffff"/>
<rect x="453.70" y="256.15" width="5.75" height="5.75" fill="#8a8ec9"/>
<rect x="458.45" y="256.15" width="5.75" height="5.75" fill="#ffffff"/>
<rect x="463.20" y="256.15" width="5.75" height="5.75" fill="#f0a3a3"/>
<rect x="467.95" y="256.15" width="5.75" height="5.75" fill="#6a72bb"/>
<rect x="472.70" y="256.15" width="5.75" height="5.75" fill="#e4e4f2"/>
<rect x="349.20" y="260.90" width="5.75" height="5.75" fill="#3444a1"/>
<rect x="353.95" y="260.90" width="5.75" height="5.75" fill="#3444a1"/>
<rect x="358.70" y="260.90" width="5.75" height="5.75" fill="#6a72bb"/>
<rect x="363.45" y="260.90" width="5.75" height="5.75" fill="#6a72bb"/>
<rect x="368.20" y="260.90" width="5.75" height="5.75" fill="#6a72bb"/>
<rect x="372.95" y="260.90" width="5.75" height="5.75" fill="#8a8ec9"/>
<rect x="377.70" y="260.90" width="5.75" height="5.75" fill="#8a8ec9"/>
<rect x="382.45" y="260.90" width="5.75" height="5.75" fill="#c8c8e6"/>
<rect x="387.20" y="260.90" width="5.75" height="5.75" fill="#a9abd9"/>
<rect x="391.95" y="260.90" width="5.75" height="5.75" fill="#c8c8e6"/>
<rect x="396.70" y="260.90" width="5.75" height="5.75" fill="#e4e4f2"/>
<rect x="401.45" y="260.90" width="5.75" height="5.75" fill="#f7c9c9"/>
<rect x="406.20" y="260.90" width="5.75" height="5.75" fill="#f7c9c9"/>
<rect x="410.95" y="260.90" width="5.75" height="5.75" fill="#fbe3e3"/>
<rect x="415.70" y="260.90" width="5.75" height="5.75" fill="#fbe3e3"/>
<rect x="420.45" y="260.90" width="5.75" height="5.75" fill="#fbe3e3"/>
<rect x="425.20" y="260.90" width="5.75" height="5.75" fill="#fbe3e3"/>
<rect x="429.95" y="260.90" width="5.75" height="5.75" fill="#e4e4f2"/>
<rect x="434.70" y="260.90" width="5.75" height="5.75" fill="#a9abd9"/>
<rect x="439.45" y="260.90" width="5.75" height="5.75" fill="#c8c8e6"/>
<rect x="444.20" y="260.90" width="5.75" height="5.75" fill="#e4e4f2"/>
<rect x="448.95" y="260.90" width="5.75" height="5.75" fill="#8a8ec9"/>
<rect x="453.70" y="260.90" width="5.75" height="5.75" fill="#ffffff"/>
<rect x="458.45" y="260.90" width="5.75" height="5.75" fill="#e4e4f2"/>
<rect x="463.20" y="260.90" width="5.75" height="5.75" fill="#f0a3a3"/>
<rect x="467.95" y="260.90" width="5.75" height="5.75" fill="#a9abd9"/>
<rect x="472.70" y="260.90" width="5.75" height="5.75" fill="#e4e4f2"/>
<rect x="349.20" y="265.65" width="5.75" height="5.75" fill="#3444a1"/>
<rect x="353.95" y="265.65" width="5.75" height="5.75" fill="#3444a1"/>
<rect x="358.70" y="265.65" width="5.75" height="5.75" fill="#8a8ec9"/>
<rect x="363.45" y="265.65" width="5.75" height="5.75" fill="#a9abd9"/>
<rect x="368.20" y="265.65" width="5.75" height="5.75" fill="#c8c8e6"/>
<rect x="372.95" y="265.65" width="5.75" height="5.75" fill="#a9abd9"/>
<rect x="377.70" y="265.65" width="5.75" height="5.75" fill="#8a8ec9"/>
<rect x="382.45" y="265.65" width="5.75" height="5.75" fill="#e4e4f2"/>
<rect x="387.20" y="265.65" width="5.75" height="5.75" fill="#c8c8e6"/>
<rect x="391.95" y="265.65" width="5.75" height="5.75" fill="#c8c8e6"/>
<rect x="396.70" y="265.65" width="5.75" height="5.75" fill="#e4e4f2"/>
<rect x="401.45" y="265.65" width="5.75" height="5.75" fill="#f7c9c9"/>
<rect x="406.20" y="265.65" width="5.75" height="5.75" fill="#f7c9c9"/>
<rect x="410.95" y="265.65" width="5.75" height="5.75" fill="#ffffff"/>
<rect x="415.70" y="265.65" width="5.75" height="5.75" fill="#fbe3e3"/>
<rect x="420.45" y="265.65" width="5.75" height="5.75" fill="#e4e4f2"/>
<rect x="425.20" y="265.65" width="5.75" height="5.75" fill="#e4e4f2"/>
<rect x="429.95" y="265.65" width="5.75" height="5.75" fill="#e4e4f2"/>
<rect x="434.70" y="265.65" width="5.75" height="5.75" fill="#8a8ec9"/>
<rect x="439.45" y="265.65" width="5.75" height="5.75" fill="#e4e4f2"/>
<rect x="444.20" y="265.65" width="5.75" height="5.75" fill="#f7c9c9"/>
<rect x="448.95" y="265.65" width="5.75" height="5.75" fill="#ffffff"/>
<rect x="453.70" y="265.65" width="5.75" height="5.75" fill="#e4e4f2"/>
<rect x="458.45" y="265.65" width="5.75" height="5.75" fill="#ffffff"/>
<rect x="463.20" y="265.65" width="5.75" height="5.75" fill="#c41e25"/>
<rect x="467.95" y="265.65" width="5.75" height="5.75" fill="#a9abd9"/>
<rect x="472.70" y="265.65" width="5.75" height="5.75" fill="#e4e4f2"/>
<rect x="349.20" y="270.40" width="5.75" height="5.75" fill="#6a72bb"/>
<rect x="353.95" y="270.40" width="5.75" height="5.75" fill="#6a72bb"/>
<rect x="358.70" y="270.40" width="5.75" height="5.75" fill="#8a8ec9"/>
<rect x="363.45" y="270.40" width="5.75" height="5.75" fill="#c8c8e6"/>
<rect x="368.20" y="270.40" width="5.75" height="5.75" fill="#8a8ec9"/>
<rect x="372.95" y="270.40" width="5.75" height="5.75" fill="#8a8ec9"/>
<rect x="377.70" y="270.40" width="5.75" height="5.75" fill="#c8c8e6"/>
<rect x="382.45" y="270.40" width="5.75" height="5.75" fill="#c8c8e6"/>
<rect x="387.20" y="270.40" width="5.75" height="5.75" fill="#8a8ec9"/>
<rect x="391.95" y="270.40" width="5.75" height="5.75" fill="#a9abd9"/>
<rect x="396.70" y="270.40" width="5.75" height="5.75" fill="#e4e4f2"/>
<rect x="401.45" y="270.40" width="5.75" height="5.75" fill="#e4e4f2"/>
<rect x="406.20" y="270.40" width="5.75" height="5.75" fill="#f7c9c9"/>
<rect x="410.95" y="270.40" width="5.75" height="5.75" fill="#fbe3e3"/>
<rect x="415.70" y="270.40" width="5.75" height="5.75" fill="#f7c9c9"/>
<rect x="420.45" y="270.40" width="5.75" height="5.75" fill="#fbe3e3"/>
<rect x="425.20" y="270.40" width="5.75" height="5.75" fill="#f7c9c9"/>
<rect x="429.95" y="270.40" width="5.75" height="5.75" fill="#ffffff"/>
<rect x="434.70" y="270.40" width="5.75" height="5.75" fill="#e4e4f2"/>
<rect x="439.45" y="270.40" width="5.75" height="5.75" fill="#f7c9c9"/>
<rect x="444.20" y="270.40" width="5.75" height="5.75" fill="#f7c9c9"/>
<rect x="448.95" y="270.40" width="5.75" height="5.75" fill="#f0a3a3"/>
<rect x="453.70" y="270.40" width="5.75" height="5.75" fill="#f0a3a3"/>
<rect x="458.45" y="270.40" width="5.75" height="5.75" fill="#c41e25"/>
<rect x="463.20" y="270.40" width="5.75" height="5.75" fill="#ffffff"/>
<rect x="467.95" y="270.40" width="5.75" height="5.75" fill="#f7c9c9"/>
<rect x="472.70" y="270.40" width="5.75" height="5.75" fill="#f7c9c9"/>
<rect x="349.20" y="275.15" width="5.75" height="5.75" fill="#6a72bb"/>
<rect x="353.95" y="275.15" width="5.75" height="5.75" fill="#4a58ad"/>
<rect x="358.70" y="275.15" width="5.75" height="5.75" fill="#a9abd9"/>
<rect x="363.45" y="275.15" width="5.75" height="5.75" fill="#c8c8e6"/>
<rect x="368.20" y="275.15" width="5.75" height="5.75" fill="#c8c8e6"/>
<rect x="372.95" y="275.15" width="5.75" height="5.75" fill="#c8c8e6"/>
<rect x="377.70" y="275.15" width="5.75" height="5.75" fill="#c8c8e6"/>
<rect x="382.45" y="275.15" width="5.75" height="5.75" fill="#c8c8e6"/>
<rect x="387.20" y="275.15" width="5.75" height="5.75" fill="#c8c8e6"/>
<rect x="391.95" y="275.15" width="5.75" height="5.75" fill="#a9abd9"/>
<rect x="396.70" y="275.15" width="5.75" height="5.75" fill="#c8c8e6"/>
<rect x="401.45" y="275.15" width="5.75" height="5.75" fill="#fbe3e3"/>
<rect x="406.20" y="275.15" width="5.75" height="5.75" fill="#f0a3a3"/>
<rect x="410.95" y="275.15" width="5.75" height="5.75" fill="#f0a3a3"/>
<rect x="415.70" y="275.15" width="5.75" height="5.75" fill="#f7c9c9"/>
<rect x="420.45" y="275.15" width="5.75" height="5.75" fill="#ffffff"/>
<rect x="425.20" y="275.15" width="5.75" height="5.75" fill="#ffffff"/>
<rect x="429.95" y="275.15" width="5.75" height="5.75" fill="#ffffff"/>
<rect x="434.70" y="275.15" width="5.75" height="5.75" fill="#a9abd9"/>
<rect x="439.45" y="275.15" width="5.75" height="5.75" fill="#8a8ec9"/>
<rect x="444.20" y="275.15" width="5.75" height="5.75" fill="#a9abd9"/>
<rect x="448.95" y="275.15" width="5.75" height="5.75" fill="#8a8ec9"/>
<rect x="453.70" y="275.15" width="5.75" height="5.75" fill="#a9abd9"/>
<rect x="458.45" y="275.15" width="5.75" height="5.75" fill="#a9abd9"/>
<rect x="463.20" y="275.15" width="5.75" height="5.75" fill="#f7c9c9"/>
<rect x="467.95" y="275.15" width="5.75" height="5.75" fill="#ffffff"/>
<rect x="472.70" y="275.15" width="5.75" height="5.75" fill="#fbe3e3"/>
<rect x="349.20" y="279.90" width="5.75" height="5.75" fill="#6a72bb"/>
<rect x="353.95" y="279.90" width="5.75" height="5.75" fill="#6a72bb"/>
<rect x="358.70" y="279.90" width="5.75" height="5.75" fill="#ffffff"/>
<rect x="363.45" y="279.90" width="5.75" height="5.75" fill="#ffffff"/>
<rect x="368.20" y="279.90" width="5.75" height="5.75" fill="#ffffff"/>
<rect x="372.95" y="279.90" width="5.75" height="5.75" fill="#ffffff"/>
<rect x="377.70" y="279.90" width="5.75" height="5.75" fill="#c8c8e6"/>
<rect x="382.45" y="279.90" width="5.75" height="5.75" fill="#c8c8e6"/>
<rect x="387.20" y="279.90" width="5.75" height="5.75" fill="#c8c8e6"/>
<rect x="391.95" y="279.90" width="5.75" height="5.75" fill="#c8c8e6"/>
<rect x="396.70" y="279.90" width="5.75" height="5.75" fill="#c8c8e6"/>
<rect x="401.45" y="279.90" width="5.75" height="5.75" fill="#ffffff"/>
<rect x="406.20" y="279.90" width="5.75" height="5.75" fill="#e4e4f2"/>
<rect x="410.95" y="279.90" width="5.75" height="5.75" fill="#c8c8e6"/>
<rect x="415.70" y="279.90" width="5.75" height="5.75" fill="#e4e4f2"/>
<rect x="420.45" y="279.90" width="5.75" height="5.75" fill="#e4e4f2"/>
<rect x="425.20" y="279.90" width="5.75" height="5.75" fill="#c8c8e6"/>
<rect x="429.95" y="279.90" width="5.75" height="5.75" fill="#ffffff"/>
<rect x="434.70" y="279.90" width="5.75" height="5.75" fill="#ffffff"/>
<rect x="439.45" y="279.90" width="5.75" height="5.75" fill="#ffffff"/>
<rect x="444.20" y="279.90" width="5.75" height="5.75" fill="#ffffff"/>
<rect x="448.95" y="279.90" width="5.75" height="5.75" fill="#e4e4f2"/>
<rect x="453.70" y="279.90" width="5.75" height="5.75" fill="#e4e4f2"/>
<rect x="458.45" y="279.90" width="5.75" height="5.75" fill="#e4e4f2"/>
<rect x="463.20" y="279.90" width="5.75" height="5.75" fill="#fbe3e3"/>
<rect x="467.95" y="279.90" width="5.75" height="5.75" fill="#ffffff"/>
<rect x="472.70" y="279.90" width="5.75" height="5.75" fill="#ffffff"/>
</g>
<rect x="349.20" y="156.40" width="128.25" height="128.25" fill="none" stroke="#666" stroke-width="0.7"/>
<linearGradient id="cbf" x1="0" y1="0" x2="0" y2="1"><stop offset="0" stop-color="#1b1b4f"/><stop offset="0.125" stop-color="#23328c"/><stop offset="0.25" stop-color="#2d47a8"/><stop offset="0.375" stop-color="#9a9ad0"/><stop offset="0.5" stop-color="#ffffff"/><stop offset="0.625" stop-color="#f2a3a3"/><stop offset="0.75" stop-color="#d41f27"/><stop offset="0.875" stop-color="#a01a20"/><stop offset="1" stop-color="#6b1015"/></linearGradient>
<rect x="479.60" y="156.10" width="9.60" height="128.00" fill="url(#cbf)" stroke="#555" stroke-width="0.8"/>
<text x="493.00" y="157.90" font-size="6.4" fill="#3a3a3a">0.2</text>
<text x="493.00" y="189.90" font-size="6.4" fill="#3a3a3a">0.1</text>
<line x1="487.20" y1="188.10" x2="489.20" y2="188.10" stroke="#333" stroke-width="0.7"/>
<text x="493.00" y="221.90" font-size="6.4" fill="#3a3a3a">0</text>
<line x1="487.20" y1="220.10" x2="489.20" y2="220.10" stroke="#333" stroke-width="0.7"/>
<text x="493.00" y="253.90" font-size="6.4" fill="#3a3a3a">−0.1</text>
<line x1="487.20" y1="252.10" x2="489.20" y2="252.10" stroke="#333" stroke-width="0.7"/>
<text x="493.00" y="285.90" font-size="6.4" fill="#3a3a3a">−0.2</text>
<text x="514.31" y="223.26" font-size="7.8" text-anchor="middle" fill="#3a3a3a" textLength="119.10" lengthAdjust="spacingAndGlyphs" transform="rotate(90 514.31 220.45)">log<tspan font-size="4.5" dy="1.7">2</tspan><tspan dy="-1.7">fc of overall inter-TAD distance</tspan></text>
<text x="345.30" y="179.82" font-size="6.8" text-anchor="end" fill="#3a3a3a">5</text>
<line x1="349.20" y1="177.78" x2="353.00" y2="177.78" stroke="#333" stroke-width="0.8"/>
<text x="370.57" y="293.35" font-size="6.8" text-anchor="middle" fill="#3a3a3a">5</text>
<line x1="370.57" y1="280.85" x2="370.57" y2="284.65" stroke="#333" stroke-width="0.8"/>
<text x="345.30" y="203.57" font-size="6.8" text-anchor="end" fill="#3a3a3a">10</text>
<line x1="349.20" y1="201.53" x2="353.00" y2="201.53" stroke="#333" stroke-width="0.8"/>
<text x="394.32" y="293.35" font-size="6.8" text-anchor="middle" fill="#3a3a3a">10</text>
<line x1="394.32" y1="280.85" x2="394.32" y2="284.65" stroke="#333" stroke-width="0.8"/>
<text x="345.30" y="227.32" font-size="6.8" text-anchor="end" fill="#3a3a3a">15</text>
<line x1="349.20" y1="225.28" x2="353.00" y2="225.28" stroke="#333" stroke-width="0.8"/>
<text x="418.07" y="293.35" font-size="6.8" text-anchor="middle" fill="#3a3a3a">15</text>
<line x1="418.07" y1="280.85" x2="418.07" y2="284.65" stroke="#333" stroke-width="0.8"/>
<text x="345.30" y="251.07" font-size="6.8" text-anchor="end" fill="#3a3a3a">20</text>
<line x1="349.20" y1="249.03" x2="353.00" y2="249.03" stroke="#333" stroke-width="0.8"/>
<text x="441.82" y="293.35" font-size="6.8" text-anchor="middle" fill="#3a3a3a">20</text>
<line x1="441.82" y1="280.85" x2="441.82" y2="284.65" stroke="#333" stroke-width="0.8"/>
<text x="345.30" y="274.82" font-size="6.8" text-anchor="end" fill="#3a3a3a">25</text>
<line x1="349.20" y1="272.77" x2="353.00" y2="272.77" stroke="#333" stroke-width="0.8"/>
<text x="465.57" y="293.35" font-size="6.8" text-anchor="middle" fill="#3a3a3a">25</text>
<line x1="465.57" y1="280.85" x2="465.57" y2="284.65" stroke="#333" stroke-width="0.8"/>
<text x="329.91" y="222.79" font-size="7.2" text-anchor="middle" fill="#3a3a3a" textLength="23.00" lengthAdjust="spacingAndGlyphs" transform="rotate(-90 329.91 220.20)">TAD ID</text>
<text x="413.15" y="305.49" font-size="7.2" text-anchor="middle" fill="#3a3a3a" textLength="22.30" lengthAdjust="spacingAndGlyphs">TAD ID</text>
<text x="533.20" y="145.90" font-size="12" font-weight="bold" fill="#000" stroke="#000" stroke-width="0.3" style="fill:#000">g</text>
<line x1="563.40" y1="152.20" x2="563.40" y2="283.10" stroke="#6a6a6a" stroke-width="0.8"/>
<line x1="559.90" y1="152.20" x2="563.40" y2="152.20" stroke="#6a6a6a" stroke-width="0.8"/>
<text x="555.30" y="153.90" font-size="6.4" text-anchor="end" fill="#484848">1.8</text>
<line x1="559.90" y1="178.38" x2="563.40" y2="178.38" stroke="#6a6a6a" stroke-width="0.8"/>
<text x="555.30" y="180.08" font-size="6.4" text-anchor="end" fill="#484848">1.6</text>
<line x1="559.90" y1="204.56" x2="563.40" y2="204.56" stroke="#6a6a6a" stroke-width="0.8"/>
<text x="555.30" y="206.26" font-size="6.4" text-anchor="end" fill="#484848">1.4</text>
<line x1="559.90" y1="230.74" x2="563.40" y2="230.74" stroke="#6a6a6a" stroke-width="0.8"/>
<text x="555.30" y="232.44" font-size="6.4" text-anchor="end" fill="#484848">1.2</text>
<line x1="559.90" y1="256.92" x2="563.40" y2="256.92" stroke="#6a6a6a" stroke-width="0.8"/>
<text x="555.30" y="258.62" font-size="6.4" text-anchor="end" fill="#484848">1.0</text>
<line x1="559.90" y1="283.10" x2="563.40" y2="283.10" stroke="#6a6a6a" stroke-width="0.8"/>
<text x="555.30" y="284.80" font-size="6.4" text-anchor="end" fill="#484848">0.8</text>
<line x1="563.40" y1="283.10" x2="651.20" y2="283.10" stroke="#6a6a6a" stroke-width="0.8"/>
<line x1="588.10" y1="283.10" x2="588.10" y2="286.50" stroke="#6a6a6a" stroke-width="0.8"/>
<line x1="626.00" y1="283.10" x2="626.00" y2="286.50" stroke="#6a6a6a" stroke-width="0.8"/>
<line x1="588.35" y1="172.40" x2="588.35" y2="182.50" stroke="#707070" stroke-width="0.8"/>
<line x1="588.35" y1="228.40" x2="588.35" y2="265.20" stroke="#707070" stroke-width="0.8"/>
<line x1="582.45" y1="172.40" x2="594.25" y2="172.40" stroke="#707070" stroke-width="0.8"/>
<line x1="582.45" y1="265.20" x2="594.25" y2="265.20" stroke="#707070" stroke-width="0.8"/>
<rect x="576.00" y="182.50" width="24.70" height="45.90" fill="#fff" stroke="#8a8a8a" stroke-width="0.8"/>
<line x1="576.00" y1="204.70" x2="600.70" y2="204.70" stroke="#8a8a8a" stroke-width="0.8"/>
<line x1="625.95" y1="166.60" x2="625.95" y2="177.40" stroke="#b8b8b8" stroke-width="0.8"/>
<line x1="625.95" y1="226.40" x2="625.95" y2="262.90" stroke="#b8b8b8" stroke-width="0.8"/>
<line x1="620.05" y1="166.60" x2="631.85" y2="166.60" stroke="#b8b8b8" stroke-width="0.8"/>
<line x1="620.05" y1="262.90" x2="631.85" y2="262.90" stroke="#b8b8b8" stroke-width="0.8"/>
<rect x="613.30" y="177.40" width="25.30" height="49.00" fill="#f7941d" stroke="#4a4a4a" stroke-width="0.8"/>
<line x1="613.30" y1="198.10" x2="638.60" y2="198.10" stroke="#333" stroke-width="0.8"/>
<text x="588.10" y="297.72" font-size="7" text-anchor="middle" fill="#3a3a3a" textLength="17.50" lengthAdjust="spacingAndGlyphs">siCtrl</text>
<text x="626.00" y="297.72" font-size="7" text-anchor="middle" fill="#3a3a3a" textLength="24.50" lengthAdjust="spacingAndGlyphs">siCHD7</text>
<text x="585.60" y="158.77" font-size="6.3" fill="#3a3a3a" textLength="42.90" lengthAdjust="spacingAndGlyphs"><tspan font-style="italic">P</tspan> = 1.5 × 10<tspan font-size="4.03" dy="-3.47">−41</tspan></text>
<text x="536.69" y="221.16" font-size="7.8" text-anchor="middle" fill="#3a3a3a" textLength="89.10" lengthAdjust="spacingAndGlyphs" transform="rotate(-90 536.69 218.35)">Overall inter-TAD dist./μm</text>
<text x="0.00" y="351.25" font-size="12" font-weight="bold" fill="#000" stroke="#000" stroke-width="0.3" style="fill:#000">h</text>
<line x1="30.30" y1="356.72" x2="30.30" y2="487.60" stroke="#6a6a6a" stroke-width="0.8"/>
<line x1="26.80" y1="356.72" x2="30.30" y2="356.72" stroke="#6a6a6a" stroke-width="0.8"/>
<text x="22.70" y="358.42" font-size="6.4" text-anchor="end" fill="#484848">1.4</text>
<line x1="26.80" y1="389.44" x2="30.30" y2="389.44" stroke="#6a6a6a" stroke-width="0.8"/>
<text x="22.70" y="391.14" font-size="6.4" text-anchor="end" fill="#484848">1.2</text>
<line x1="26.80" y1="422.16" x2="30.30" y2="422.16" stroke="#6a6a6a" stroke-width="0.8"/>
<text x="22.70" y="423.86" font-size="6.4" text-anchor="end" fill="#484848">1.0</text>
<line x1="26.80" y1="454.88" x2="30.30" y2="454.88" stroke="#6a6a6a" stroke-width="0.8"/>
<text x="22.70" y="456.58" font-size="6.4" text-anchor="end" fill="#484848">0.8</text>
<line x1="26.80" y1="487.60" x2="30.30" y2="487.60" stroke="#6a6a6a" stroke-width="0.8"/>
<text x="22.70" y="489.30" font-size="6.4" text-anchor="end" fill="#484848">0.6</text>
<line x1="30.30" y1="487.60" x2="117.90" y2="487.60" stroke="#6a6a6a" stroke-width="0.8"/>
<line x1="54.80" y1="487.60" x2="54.80" y2="491.00" stroke="#6a6a6a" stroke-width="0.8"/>
<line x1="92.60" y1="487.60" x2="92.60" y2="491.00" stroke="#6a6a6a" stroke-width="0.8"/>
<line x1="54.90" y1="363.80" x2="54.90" y2="396.60" stroke="#c0c0c0" stroke-width="0.8"/>
<line x1="54.90" y1="441.10" x2="54.90" y2="455.50" stroke="#c0c0c0" stroke-width="0.8"/>
<line x1="49.25" y1="363.80" x2="60.55" y2="363.80" stroke="#c0c0c0" stroke-width="0.8"/>
<line x1="49.25" y1="455.50" x2="60.55" y2="455.50" stroke="#c0c0c0" stroke-width="0.8"/>
<rect x="42.40" y="396.60" width="25.00" height="44.50" fill="#fff" stroke="#7a7a7a" stroke-width="0.8"/>
<line x1="42.40" y1="422.10" x2="67.40" y2="422.10" stroke="#555" stroke-width="0.8"/>
<line x1="92.40" y1="360.50" x2="92.40" y2="390.60" stroke="#555" stroke-width="0.8"/>
<line x1="92.40" y1="436.80" x2="92.40" y2="451.50" stroke="#555" stroke-width="0.8"/>
<line x1="86.75" y1="360.50" x2="98.05" y2="360.50" stroke="#555" stroke-width="0.8"/>
<line x1="86.75" y1="451.50" x2="98.05" y2="451.50" stroke="#555" stroke-width="0.8"/>
<rect x="80.00" y="390.60" width="24.80" height="46.20" fill="#f7941d" stroke="#6a5a40" stroke-width="0.8"/>
<line x1="80.00" y1="418.10" x2="104.80" y2="418.10" stroke="#8a5a20" stroke-width="0.8"/>
<text x="54.80" y="500.72" font-size="7" text-anchor="middle" fill="#3a3a3a" textLength="18.60" lengthAdjust="spacingAndGlyphs">siCtrl</text>
<text x="92.60" y="500.72" font-size="7" text-anchor="middle" fill="#3a3a3a" textLength="24.90" lengthAdjust="spacingAndGlyphs">siCHD7</text>
<text x="54.30" y="355.67" font-size="6.3" fill="#3a3a3a" textLength="40.40" lengthAdjust="spacingAndGlyphs"><tspan font-style="italic">P</tspan> = 5.1 × 10<tspan font-size="4.03" dy="-3.47">−8</tspan></text>
<text x="2.79" y="425.16" font-size="7.8" text-anchor="middle" fill="#3a3a3a" textLength="75.30" lengthAdjust="spacingAndGlyphs" transform="rotate(-90 2.79 422.35)">Radius of gyration/μm</text>
<text x="142.80" y="350.00" font-size="12" font-weight="bold" fill="#000" stroke="#000" stroke-width="0.3" style="fill:#000">i</text>
<line x1="184.60" y1="360.16" x2="184.60" y2="488.47" stroke="#6a6a6a" stroke-width="0.8"/>
<line x1="181.10" y1="360.16" x2="184.60" y2="360.16" stroke="#6a6a6a" stroke-width="0.8"/>
<text x="176.80" y="361.86" font-size="6.4" text-anchor="end" fill="#484848">0.10</text>
<line x1="181.10" y1="402.93" x2="184.60" y2="402.93" stroke="#6a6a6a" stroke-width="0.8"/>
<text x="176.80" y="404.63" font-size="6.4" text-anchor="end" fill="#484848">0.05</text>
<line x1="181.10" y1="445.70" x2="184.60" y2="445.70" stroke="#6a6a6a" stroke-width="0.8"/>
<text x="176.80" y="447.40" font-size="6.4" text-anchor="end" fill="#484848">0</text>
<line x1="181.10" y1="488.47" x2="184.60" y2="488.47" stroke="#6a6a6a" stroke-width="0.8"/>
<text x="176.80" y="490.17" font-size="6.4" text-anchor="end" fill="#484848">−0.05</text>
<line x1="184.60" y1="488.47" x2="270.50" y2="488.47" stroke="#6a6a6a" stroke-width="0.8"/>
<line x1="208.60" y1="488.47" x2="208.60" y2="491.87" stroke="#6a6a6a" stroke-width="0.8"/>
<line x1="245.40" y1="488.47" x2="245.40" y2="491.87" stroke="#6a6a6a" stroke-width="0.8"/>
<line x1="208.90" y1="383.30" x2="208.90" y2="407.60" stroke="#dca08e" stroke-width="0.8"/>
<line x1="208.90" y1="451.10" x2="208.90" y2="474.50" stroke="#dca08e" stroke-width="0.8"/>
<line x1="203.10" y1="383.30" x2="214.70" y2="383.30" stroke="#dca08e" stroke-width="0.8"/>
<line x1="203.10" y1="474.50" x2="214.70" y2="474.50" stroke="#dca08e" stroke-width="0.8"/>
<rect x="196.50" y="407.60" width="24.80" height="43.50" fill="#fddcb6" stroke="#e4a57a" stroke-width="0.8"/>
<line x1="196.50" y1="427.30" x2="221.30" y2="427.30" stroke="#e4a57a" stroke-width="0.8"/>
<line x1="245.45" y1="369.20" x2="245.45" y2="390.30" stroke="#8fbc9f" stroke-width="0.8"/>
<line x1="245.45" y1="435.30" x2="245.45" y2="454.00" stroke="#8fbc9f" stroke-width="0.8"/>
<line x1="239.65" y1="369.20" x2="251.25" y2="369.20" stroke="#8fbc9f" stroke-width="0.8"/>
<line x1="239.65" y1="454.00" x2="251.25" y2="454.00" stroke="#8fbc9f" stroke-width="0.8"/>
<rect x="233.30" y="390.30" width="24.30" height="45.00" fill="#cae6d4" stroke="#8fbc9f" stroke-width="0.8"/>
<line x1="233.30" y1="414.30" x2="257.60" y2="414.30" stroke="#8fbc9f" stroke-width="0.8"/>
<line x1="184.60" y1="445.50" x2="270.50" y2="445.50" stroke="#222" stroke-width="0.9" stroke-dasharray="3,2"/>
<text x="208.60" y="502.62" font-size="7" text-anchor="middle" fill="#3a3a3a" textLength="20.50" lengthAdjust="spacingAndGlyphs">Short-</text>
<text x="208.60" y="511.22" font-size="7" text-anchor="middle" fill="#3a3a3a" textLength="19.00" lengthAdjust="spacingAndGlyphs">range</text>
<text x="245.40" y="502.62" font-size="7" text-anchor="middle" fill="#3a3a3a" textLength="19.00" lengthAdjust="spacingAndGlyphs">Long-</text>
<text x="245.40" y="511.22" font-size="7" text-anchor="middle" fill="#3a3a3a" textLength="19.00" lengthAdjust="spacingAndGlyphs">range</text>
<text x="190.40" y="380.32" font-size="7" fill="#3a3a3a" textLength="36.60" lengthAdjust="spacingAndGlyphs"><tspan font-style="italic">P</tspan> = 0.0020</text>
<text x="223.20" y="365.57" font-size="6.3" fill="#3a3a3a" textLength="46.10" lengthAdjust="spacingAndGlyphs"><tspan font-style="italic">P</tspan> = 3.0 × 10<tspan font-size="4.03" dy="-3.47">−39</tspan></text>
<text x="145.99" y="427.26" font-size="7.8" text-anchor="middle" fill="#3a3a3a" textLength="95.30" lengthAdjust="spacingAndGlyphs" transform="rotate(-90 145.99 424.45)">log<tspan font-size="4.5" dy="1.7">2</tspan><tspan dy="-1.7">fc of inter-TAD distance,</tspan></text>
<text x="154.69" y="427.06" font-size="7.8" text-anchor="middle" fill="#3a3a3a" textLength="45.10" lengthAdjust="spacingAndGlyphs" transform="rotate(-90 154.69 424.25)">siCHD7/siCtrl</text>
<text x="313.80" y="348.60" font-size="12" font-weight="bold" fill="#000" stroke="#000" stroke-width="0.3" style="fill:#000">j</text>
<line x1="351.40" y1="360.50" x2="351.40" y2="486.60" stroke="#6a6a6a" stroke-width="0.8"/>
<line x1="347.90" y1="360.50" x2="351.40" y2="360.50" stroke="#6a6a6a" stroke-width="0.8"/>
<text x="343.30" y="362.20" font-size="6.4" text-anchor="end" fill="#484848">1.5</text>
<line x1="347.90" y1="402.53" x2="351.40" y2="402.53" stroke="#6a6a6a" stroke-width="0.8"/>
<text x="343.30" y="404.23" font-size="6.4" text-anchor="end" fill="#484848">1.0</text>
<line x1="347.90" y1="444.57" x2="351.40" y2="444.57" stroke="#6a6a6a" stroke-width="0.8"/>
<text x="343.30" y="446.27" font-size="6.4" text-anchor="end" fill="#484848">0.5</text>
<line x1="347.90" y1="486.60" x2="351.40" y2="486.60" stroke="#6a6a6a" stroke-width="0.8"/>
<text x="343.30" y="488.30" font-size="6.4" text-anchor="end" fill="#484848">0</text>
<line x1="351.40" y1="486.60" x2="478.00" y2="486.60" stroke="#6a6a6a" stroke-width="0.8"/>
<rect x="362.20" y="406.10" width="20.10" height="80.50" fill="#f8f09c" stroke="#a8a48a" stroke-width="0.7"/>
<rect x="388.20" y="460.10" width="19.20" height="26.50" fill="#f8f09c" stroke="#a8a48a" stroke-width="0.7"/>
<rect x="421.80" y="396.10" width="19.20" height="90.50" fill="#4dbd98" stroke="#5a9a80" stroke-width="0.7"/>
<rect x="447.40" y="430.00" width="19.00" height="56.60" fill="#4dbd98" stroke="#5a9a80" stroke-width="0.7"/>
<line x1="372.40" y1="486.60" x2="372.40" y2="490.00" stroke="#6a6a6a" stroke-width="0.8"/>
<line x1="397.60" y1="486.60" x2="397.60" y2="490.00" stroke="#6a6a6a" stroke-width="0.8"/>
<line x1="431.30" y1="486.60" x2="431.30" y2="490.00" stroke="#6a6a6a" stroke-width="0.8"/>
<line x1="456.50" y1="486.60" x2="456.50" y2="490.00" stroke="#6a6a6a" stroke-width="0.8"/>
<line x1="372.40" y1="400.20" x2="372.40" y2="409.30" stroke="#555" stroke-width="0.8"/>
<line x1="367.20" y1="400.20" x2="377.60" y2="400.20" stroke="#555" stroke-width="0.8"/>
<line x1="367.20" y1="409.30" x2="377.60" y2="409.30" stroke="#555" stroke-width="0.8"/>
<line x1="397.80" y1="452.20" x2="397.80" y2="464.70" stroke="#555" stroke-width="0.8"/>
<line x1="392.60" y1="452.20" x2="403.00" y2="452.20" stroke="#555" stroke-width="0.8"/>
<line x1="392.60" y1="464.70" x2="403.00" y2="464.70" stroke="#555" stroke-width="0.8"/>
<line x1="431.40" y1="392.30" x2="431.40" y2="396.70" stroke="#555" stroke-width="0.8"/>
<line x1="426.20" y1="392.30" x2="436.60" y2="392.30" stroke="#555" stroke-width="0.8"/>
<line x1="426.20" y1="396.70" x2="436.60" y2="396.70" stroke="#555" stroke-width="0.8"/>
<line x1="456.80" y1="411.60" x2="456.80" y2="446.10" stroke="#555" stroke-width="0.8"/>
<line x1="451.60" y1="411.60" x2="462.00" y2="411.60" stroke="#555" stroke-width="0.8"/>
<line x1="451.60" y1="446.10" x2="462.00" y2="446.10" stroke="#555" stroke-width="0.8"/>
<circle cx="372.40" cy="399.90" r="1.9" fill="#555"/>
<circle cx="368.00" cy="408.70" r="1.9" fill="#555"/>
<circle cx="376.50" cy="406.40" r="1.9" fill="#555"/>
<circle cx="397.80" cy="451.30" r="1.9" fill="#555"/>
<circle cx="393.40" cy="463.00" r="1.9" fill="#555"/>
<circle cx="401.60" cy="462.40" r="1.9" fill="#555"/>
<circle cx="431.40" cy="392.30" r="1.9" fill="#555"/>
<circle cx="427.30" cy="396.40" r="1.9" fill="#555"/>
<circle cx="435.50" cy="396.40" r="1.9" fill="#555"/>
<circle cx="456.80" cy="415.70" r="1.9" fill="#555"/>
<circle cx="456.80" cy="422.40" r="1.9" fill="#555"/>
<circle cx="456.80" cy="448.10" r="1.9" fill="#555"/>
<text x="389.00" y="355.12" font-size="7" text-anchor="middle" fill="#3a3a3a" textLength="37.50" lengthAdjust="spacingAndGlyphs">Anti-PCBP1</text>
<text x="448.30" y="355.12" font-size="7" text-anchor="middle" fill="#3a3a3a" textLength="40.00" lengthAdjust="spacingAndGlyphs">Anti-ZNF114</text>
<text x="368.00" y="384.37" font-size="6.3" fill="#3a3a3a" textLength="43.00" lengthAdjust="spacingAndGlyphs"><tspan font-style="italic">P</tspan> = 3.5 × 10<tspan font-size="4.03" dy="-3.47">−4</tspan></text>
<line x1="372.40" y1="389.10" x2="405.70" y2="389.10" stroke="#666" stroke-width="0.7"/>
<text x="432.80" y="373.08" font-size="6.6" fill="#3a3a3a" textLength="32.20" lengthAdjust="spacingAndGlyphs"><tspan font-style="italic">P</tspan> = 0.028</text>
<line x1="432.80" y1="377.40" x2="465.50" y2="377.40" stroke="#666" stroke-width="0.7"/>
<text x="315.19" y="425.81" font-size="7.8" text-anchor="middle" fill="#3a3a3a" textLength="102.00" lengthAdjust="spacingAndGlyphs" transform="rotate(-90 315.19 423.00)">Relative western blot intensity</text>
<text x="323.79" y="425.96" font-size="7.8" text-anchor="middle" fill="#3a3a3a" textLength="79.10" lengthAdjust="spacingAndGlyphs" transform="rotate(-90 323.79 423.15)">(normalized by actin B)</text>
<text x="377.60" y="498.00" font-size="7.0" text-anchor="end" fill="#3a3a3a" textLength="19.00" lengthAdjust="spacingAndGlyphs" transform="rotate(-45 377.60 498.00)">sgCtrl</text>
<text x="402.80" y="498.00" font-size="7.0" text-anchor="end" fill="#3a3a3a" textLength="31.00" lengthAdjust="spacingAndGlyphs" transform="rotate(-45 402.80 498.00)">sgPCBP1</text>
<text x="436.50" y="498.00" font-size="7.0" text-anchor="end" fill="#3a3a3a" textLength="19.00" lengthAdjust="spacingAndGlyphs" transform="rotate(-45 436.50 498.00)">sgCtrl</text>
<text x="461.70" y="498.00" font-size="7.0" text-anchor="end" fill="#3a3a3a" textLength="33.50" lengthAdjust="spacingAndGlyphs" transform="rotate(-45 461.70 498.00)">sgZNF114</text>
<text x="493.90" y="351.25" font-size="12" font-weight="bold" fill="#000" stroke="#000" stroke-width="0.3" style="fill:#000">k</text>
<text x="584.45" y="355.19" font-size="7.2" text-anchor="middle" fill="#3a3a3a" textLength="52.30" lengthAdjust="spacingAndGlyphs">sgPCBP1/sgCtrl</text>
<clipPath id="hclip2"><rect x="517.30" y="360.20" width="128.52" height="128.52"/></clipPath>
<g clip-path="url(#hclip2)">
<rect x="517.30" y="360.20" width="5.76" height="5.76" fill="#ffffff"/>
<rect x="522.06" y="360.20" width="5.76" height="5.76" fill="#283794"/>
<rect x="526.82" y="360.20" width="5.76" height="5.76" fill="#283794"/>
<rect x="531.58" y="360.20" width="5.76" height="5.76" fill="#283794"/>
<rect x="536.34" y="360.20" width="5.76" height="5.76" fill="#3444a1"/>
<rect x="541.10" y="360.20" width="5.76" height="5.76" fill="#283794"/>
<rect x="545.86" y="360.20" width="5.76" height="5.76" fill="#283794"/>
<rect x="550.62" y="360.20" width="5.76" height="5.76" fill="#283794"/>
<rect x="555.38" y="360.20" width="5.76" height="5.76" fill="#283794"/>
<rect x="560.14" y="360.20" width="5.76" height="5.76" fill="#283794"/>
<rect x="564.90" y="360.20" width="5.76" height="5.76" fill="#283794"/>
<rect x="569.66" y="360.20" width="5.76" height="5.76" fill="#283794"/>
<rect x="574.42" y="360.20" width="5.76" height="5.76" fill="#283794"/>
<rect x="579.18" y="360.20" width="5.76" height="5.76" fill="#283794"/>
<rect x="583.94" y="360.20" width="5.76" height="5.76" fill="#6a72bb"/>
<rect x="588.70" y="360.20" width="5.76" height="5.76" fill="#3444a1"/>
<rect x="593.46" y="360.20" width="5.76" height="5.76" fill="#283794"/>
<rect x="598.22" y="360.20" width="5.76" height="5.76" fill="#3444a1"/>
<rect x="602.98" y="360.20" width="5.76" height="5.76" fill="#283794"/>
<rect x="607.74" y="360.20" width="5.76" height="5.76" fill="#3444a1"/>
<rect x="612.50" y="360.20" width="5.76" height="5.76" fill="#3444a1"/>
<rect x="617.26" y="360.20" width="5.76" height="5.76" fill="#3444a1"/>
<rect x="622.02" y="360.20" width="5.76" height="5.76" fill="#3444a1"/>
<rect x="626.78" y="360.20" width="5.76" height="5.76" fill="#3444a1"/>
<rect x="631.54" y="360.20" width="5.76" height="5.76" fill="#4a58ad"/>
<rect x="636.30" y="360.20" width="5.76" height="5.76" fill="#8a8ec9"/>
<rect x="641.06" y="360.20" width="5.76" height="5.76" fill="#4a58ad"/>
<rect x="517.30" y="364.96" width="5.76" height="5.76" fill="#3444a1"/>
<rect x="522.06" y="364.96" width="5.76" height="5.76" fill="#ffffff"/>
<rect x="526.82" y="364.96" width="5.76" height="5.76" fill="#3444a1"/>
<rect x="531.58" y="364.96" width="5.76" height="5.76" fill="#3444a1"/>
<rect x="536.34" y="364.96" width="5.76" height="5.76" fill="#283794"/>
<rect x="541.10" y="364.96" width="5.76" height="5.76" fill="#1f2a78"/>
<rect x="545.86" y="364.96" width="5.76" height="5.76" fill="#283794"/>
<rect x="550.62" y="364.96" width="5.76" height="5.76" fill="#3444a1"/>
<rect x="555.38" y="364.96" width="5.76" height="5.76" fill="#3444a1"/>
<rect x="560.14" y="364.96" width="5.76" height="5.76" fill="#3444a1"/>
<rect x="564.90" y="364.96" width="5.76" height="5.76" fill="#3444a1"/>
<rect x="569.66" y="364.96" width="5.76" height="5.76" fill="#3444a1"/>
<rect x="574.42" y="364.96" width="5.76" height="5.76" fill="#3444a1"/>
<rect x="579.18" y="364.96" width="5.76" height="5.76" fill="#3444a1"/>
<rect x="583.94" y="364.96" width="5.76" height="5.76" fill="#8a8ec9"/>
<rect x="588.70" y="364.96" width="5.76" height="5.76" fill="#3444a1"/>
<rect x="593.46" y="364.96" width="5.76" height="5.76" fill="#3444a1"/>
<rect x="598.22" y="364.96" width="5.76" height="5.76" fill="#3444a1"/>
<rect x="602.98" y="364.96" width="5.76" height="5.76" fill="#3444a1"/>
<rect x="607.74" y="364.96" width="5.76" height="5.76" fill="#3444a1"/>
<rect x="612.50" y="364.96" width="5.76" height="5.76" fill="#3444a1"/>
<rect x="617.26" y="364.96" width="5.76" height="5.76" fill="#4a58ad"/>
<rect x="622.02" y="364.96" width="5.76" height="5.76" fill="#4a58ad"/>
<rect x="626.78" y="364.96" width="5.76" height="5.76" fill="#4a58ad"/>
<rect x="631.54" y="364.96" width="5.76" height="5.76" fill="#4a58ad"/>
<rect x="636.30" y="364.96" width="5.76" height="5.76" fill="#a9abd9"/>
<rect x="641.06" y="364.96" width="5.76" height="5.76" fill="#4a58ad"/>
<rect x="517.30" y="369.72" width="5.76" height="5.76" fill="#3444a1"/>
<rect x="522.06" y="369.72" width="5.76" height="5.76" fill="#3444a1"/>
<rect x="526.82" y="369.72" width="5.76" height="5.76" fill="#ffffff"/>
<rect x="531.58" y="369.72" width="5.76" height="5.76" fill="#3444a1"/>
<rect x="536.34" y="369.72" width="5.76" height="5.76" fill="#1f2a78"/>
<rect x="541.10" y="369.72" width="5.76" height="5.76" fill="#1f2a78"/>
<rect x="545.86" y="369.72" width="5.76" height="5.76" fill="#283794"/>
<rect x="550.62" y="369.72" width="5.76" height="5.76" fill="#3444a1"/>
<rect x="555.38" y="369.72" width="5.76" height="5.76" fill="#3444a1"/>
<rect x="560.14" y="369.72" width="5.76" height="5.76" fill="#3444a1"/>
<rect x="564.90" y="369.72" width="5.76" height="5.76" fill="#3444a1"/>
<rect x="569.66" y="369.72" width="5.76" height="5.76" fill="#3444a1"/>
<rect x="574.42" y="369.72" width="5.76" height="5.76" fill="#3444a1"/>
<rect x="579.18" y="369.72" width="5.76" height="5.76" fill="#3444a1"/>
<rect x="583.94" y="369.72" width="5.76" height="5.76" fill="#a9abd9"/>
<rect x="588.70" y="369.72" width="5.76" height="5.76" fill="#4a58ad"/>
<rect x="593.46" y="369.72" width="5.76" height="5.76" fill="#3444a1"/>
<rect x="598.22" y="369.72" width="5.76" height="5.76" fill="#6a72bb"/>
<rect x="602.98" y="369.72" width="5.76" height="5.76" fill="#3444a1"/>
<rect x="607.74" y="369.72" width="5.76" height="5.76" fill="#3444a1"/>
<rect x="612.50" y="369.72" width="5.76" height="5.76" fill="#4a58ad"/>
<rect x="617.26" y="369.72" width="5.76" height="5.76" fill="#6a72bb"/>
<rect x="622.02" y="369.72" width="5.76" height="5.76" fill="#6a72bb"/>
<rect x="626.78" y="369.72" width="5.76" height="5.76" fill="#6a72bb"/>
<rect x="631.54" y="369.72" width="5.76" height="5.76" fill="#4a58ad"/>
<rect x="636.30" y="369.72" width="5.76" height="5.76" fill="#e4e4f2"/>
<rect x="641.06" y="369.72" width="5.76" height="5.76" fill="#4a58ad"/>
<rect x="517.30" y="374.48" width="5.76" height="5.76" fill="#3444a1"/>
<rect x="522.06" y="374.48" width="5.76" height="5.76" fill="#3444a1"/>
<rect x="526.82" y="374.48" width="5.76" height="5.76" fill="#3444a1"/>
<rect x="531.58" y="374.48" width="5.76" height="5.76" fill="#ffffff"/>
<rect x="536.34" y="374.48" width="5.76" height="5.76" fill="#1f2a78"/>
<rect x="541.10" y="374.48" width="5.76" height="5.76" fill="#1f2a78"/>
<rect x="545.86" y="374.48" width="5.76" height="5.76" fill="#283794"/>
<rect x="550.62" y="374.48" width="5.76" height="5.76" fill="#3444a1"/>
<rect x="555.38" y="374.48" width="5.76" height="5.76" fill="#3444a1"/>
<rect x="560.14" y="374.48" width="5.76" height="5.76" fill="#3444a1"/>
<rect x="564.90" y="374.48" width="5.76" height="5.76" fill="#3444a1"/>
<rect x="569.66" y="374.48" width="5.76" height="5.76" fill="#3444a1"/>
<rect x="574.42" y="374.48" width="5.76" height="5.76" fill="#3444a1"/>
<rect x="579.18" y="374.48" width="5.76" height="5.76" fill="#3444a1"/>
<rect x="583.94" y="374.48" width="5.76" height="5.76" fill="#c8c8e6"/>
<rect x="588.70" y="374.48" width="5.76" height="5.76" fill="#4a58ad"/>
<rect x="593.46" y="374.48" width="5.76" height="5.76" fill="#4a58ad"/>
<rect x="598.22" y="374.48" width="5.76" height="5.76" fill="#6a72bb"/>
<rect x="602.98" y="374.48" width="5.76" height="5.76" fill="#3444a1"/>
<rect x="607.74" y="374.48" width="5.76" height="5.76" fill="#4a58ad"/>
<rect x="612.50" y="374.48" width="5.76" height="5.76" fill="#4a58ad"/>
<rect x="617.26" y="374.48" width="5.76" height="5.76" fill="#4a58ad"/>
<rect x="622.02" y="374.48" width="5.76" height="5.76" fill="#4a58ad"/>
<rect x="626.78" y="374.48" width="5.76" height="5.76" fill="#4a58ad"/>
<rect x="631.54" y="374.48" width="5.76" height="5.76" fill="#4a58ad"/>
<rect x="636.30" y="374.48" width="5.76" height="5.76" fill="#a9abd9"/>
<rect x="641.06" y="374.48" width="5.76" height="5.76" fill="#4a58ad"/>
<rect x="517.30" y="379.24" width="5.76" height="5.76" fill="#283794"/>
<rect x="522.06" y="379.24" width="5.76" height="5.76" fill="#1f2a78"/>
<rect x="526.82" y="379.24" width="5.76" height="5.76" fill="#1f2a78"/>
<rect x="531.58" y="379.24" width="5.76" height="5.76" fill="#1f2a78"/>
<rect x="536.34" y="379.24" width="5.76" height="5.76" fill="#ffffff"/>
<rect x="541.10" y="379.24" width="5.76" height="5.76" fill="#1f2a78"/>
<rect x="545.86" y="379.24" width="5.76" height="5.76" fill="#283794"/>
<rect x="550.62" y="379.24" width="5.76" height="5.76" fill="#3444a1"/>
<rect x="555.38" y="379.24" width="5.76" height="5.76" fill="#3444a1"/>
<rect x="560.14" y="379.24" width="5.76" height="5.76" fill="#3444a1"/>
<rect x="564.90" y="379.24" width="5.76" height="5.76" fill="#3444a1"/>
<rect x="569.66" y="379.24" width="5.76" height="5.76" fill="#3444a1"/>
<rect x="574.42" y="379.24" width="5.76" height="5.76" fill="#3444a1"/>
<rect x="579.18" y="379.24" width="5.76" height="5.76" fill="#3444a1"/>
<rect x="583.94" y="379.24" width="5.76" height="5.76" fill="#6a72bb"/>
<rect x="588.70" y="379.24" width="5.76" height="5.76" fill="#3444a1"/>
<rect x="593.46" y="379.24" width="5.76" height="5.76" fill="#3444a1"/>
<rect x="598.22" y="379.24" width="5.76" height="5.76" fill="#6a72bb"/>
<rect x="602.98" y="379.24" width="5.76" height="5.76" fill="#4a58ad"/>
<rect x="607.74" y="379.24" width="5.76" height="5.76" fill="#4a58ad"/>
<rect x="612.50" y="379.24" width="5.76" height="5.76" fill="#4a58ad"/>
<rect x="617.26" y="379.24" width="5.76" height="5.76" fill="#6a72bb"/>
<rect x="622.02" y="379.24" width="5.76" height="5.76" fill="#4a58ad"/>
<rect x="626.78" y="379.24" width="5.76" height="5.76" fill="#4a58ad"/>
<rect x="631.54" y="379.24" width="5.76" height="5.76" fill="#4a58ad"/>
<rect x="636.30" y="379.24" width="5.76" height="5.76" fill="#8a8ec9"/>
<rect x="641.06" y="379.24" width="5.76" height="5.76" fill="#4a58ad"/>
<rect x="517.30" y="384.00" width="5.76" height="5.76" fill="#283794"/>
<rect x="522.06" y="384.00" width="5.76" height="5.76" fill="#1f2a78"/>
<rect x="526.82" y="384.00" width="5.76" height="5.76" fill="#1f2a78"/>
<rect x="531.58" y="384.00" width="5.76" height="5.76" fill="#1f2a78"/>
<rect x="536.34" y="384.00" width="5.76" height="5.76" fill="#1f2a78"/>
<rect x="541.10" y="384.00" width="5.76" height="5.76" fill="#ffffff"/>
<rect x="545.86" y="384.00" width="5.76" height="5.76" fill="#283794"/>
<rect x="550.62" y="384.00" width="5.76" height="5.76" fill="#283794"/>
<rect x="555.38" y="384.00" width="5.76" height="5.76" fill="#283794"/>
<rect x="560.14" y="384.00" width="5.76" height="5.76" fill="#3444a1"/>
<rect x="564.90" y="384.00" width="5.76" height="5.76" fill="#3444a1"/>
<rect x="569.66" y="384.00" width="5.76" height="5.76" fill="#3444a1"/>
<rect x="574.42" y="384.00" width="5.76" height="5.76" fill="#3444a1"/>
<rect x="579.18" y="384.00" width="5.76" height="5.76" fill="#3444a1"/>
<rect x="583.94" y="384.00" width="5.76" height="5.76" fill="#6a72bb"/>
<rect x="588.70" y="384.00" width="5.76" height="5.76" fill="#3444a1"/>
<rect x="593.46" y="384.00" width="5.76" height="5.76" fill="#3444a1"/>
<rect x="598.22" y="384.00" width="5.76" height="5.76" fill="#4a58ad"/>
<rect x="602.98" y="384.00" width="5.76" height="5.76" fill="#4a58ad"/>
<rect x="607.74" y="384.00" width="5.76" height="5.76" fill="#8a8ec9"/>
<rect x="612.50" y="384.00" width="5.76" height="5.76" fill="#4a58ad"/>
<rect x="617.26" y="384.00" width="5.76" height="5.76" fill="#4a58ad"/>
<rect x="622.02" y="384.00" width="5.76" height="5.76" fill="#4a58ad"/>
<rect x="626.78" y="384.00" width="5.76" height="5.76" fill="#4a58ad"/>
<rect x="631.54" y="384.00" width="5.76" height="5.76" fill="#4a58ad"/>
<rect x="636.30" y="384.00" width="5.76" height="5.76" fill="#e4e4f2"/>
<rect x="641.06" y="384.00" width="5.76" height="5.76" fill="#4a58ad"/>
<rect x="517.30" y="388.76" width="5.76" height="5.76" fill="#3444a1"/>
<rect x="522.06" y="388.76" width="5.76" height="5.76" fill="#3444a1"/>
<rect x="526.82" y="388.76" width="5.76" height="5.76" fill="#3444a1"/>
<rect x="531.58" y="388.76" width="5.76" height="5.76" fill="#283794"/>
<rect x="536.34" y="388.76" width="5.76" height="5.76" fill="#283794"/>
<rect x="541.10" y="388.76" width="5.76" height="5.76" fill="#283794"/>
<rect x="545.86" y="388.76" width="5.76" height="5.76" fill="#ffffff"/>
<rect x="550.62" y="388.76" width="5.76" height="5.76" fill="#283794"/>
<rect x="555.38" y="388.76" width="5.76" height="5.76" fill="#283794"/>
<rect x="560.14" y="388.76" width="5.76" height="5.76" fill="#3444a1"/>
<rect x="564.90" y="388.76" width="5.76" height="5.76" fill="#3444a1"/>
<rect x="569.66" y="388.76" width="5.76" height="5.76" fill="#3444a1"/>
<rect x="574.42" y="388.76" width="5.76" height="5.76" fill="#3444a1"/>
<rect x="579.18" y="388.76" width="5.76" height="5.76" fill="#3444a1"/>
<rect x="583.94" y="388.76" width="5.76" height="5.76" fill="#6a72bb"/>
<rect x="588.70" y="388.76" width="5.76" height="5.76" fill="#3444a1"/>
<rect x="593.46" y="388.76" width="5.76" height="5.76" fill="#3444a1"/>
<rect x="598.22" y="388.76" width="5.76" height="5.76" fill="#3444a1"/>
<rect x="602.98" y="388.76" width="5.76" height="5.76" fill="#3444a1"/>
<rect x="607.74" y="388.76" width="5.76" height="5.76" fill="#4a58ad"/>
<rect x="612.50" y="388.76" width="5.76" height="5.76" fill="#4a58ad"/>
<rect x="617.26" y="388.76" width="5.76" height="5.76" fill="#4a58ad"/>
<rect x="622.02" y="388.76" width="5.76" height="5.76" fill="#4a58ad"/>
<rect x="626.78" y="388.76" width="5.76" height="5.76" fill="#4a58ad"/>
<rect x="631.54" y="388.76" width="5.76" height="5.76" fill="#3444a1"/>
<rect x="636.30" y="388.76" width="5.76" height="5.76" fill="#a9abd9"/>
<rect x="641.06" y="388.76" width="5.76" height="5.76" fill="#4a58ad"/>
<rect x="517.30" y="393.52" width="5.76" height="5.76" fill="#3444a1"/>
<rect x="522.06" y="393.52" width="5.76" height="5.76" fill="#3444a1"/>
<rect x="526.82" y="393.52" width="5.76" height="5.76" fill="#3444a1"/>
<rect x="531.58" y="393.52" width="5.76" height="5.76" fill="#3444a1"/>
<rect x="536.34" y="393.52" width="5.76" height="5.76" fill="#3444a1"/>
<rect x="541.10" y="393.52" width="5.76" height="5.76" fill="#283794"/>
<rect x="545.86" y="393.52" width="5.76" height="5.76" fill="#283794"/>
<rect x="550.62" y="393.52" width="5.76" height="5.76" fill="#ffffff"/>
<rect x="555.38" y="393.52" width="5.76" height="5.76" fill="#1f2a78"/>
<rect x="560.14" y="393.52" width="5.76" height="5.76" fill="#283794"/>
<rect x="564.90" y="393.52" width="5.76" height="5.76" fill="#3444a1"/>
<rect x="569.66" y="393.52" width="5.76" height="5.76" fill="#283794"/>
<rect x="574.42" y="393.52" width="5.76" height="5.76" fill="#3444a1"/>
<rect x="579.18" y="393.52" width="5.76" height="5.76" fill="#3444a1"/>
<rect x="583.94" y="393.52" width="5.76" height="5.76" fill="#4a58ad"/>
<rect x="588.70" y="393.52" width="5.76" height="5.76" fill="#3444a1"/>
<rect x="593.46" y="393.52" width="5.76" height="5.76" fill="#3444a1"/>
<rect x="598.22" y="393.52" width="5.76" height="5.76" fill="#3444a1"/>
<rect x="602.98" y="393.52" width="5.76" height="5.76" fill="#3444a1"/>
<rect x="607.74" y="393.52" width="5.76" height="5.76" fill="#4a58ad"/>
<rect x="612.50" y="393.52" width="5.76" height="5.76" fill="#4a58ad"/>
<rect x="617.26" y="393.52" width="5.76" height="5.76" fill="#4a58ad"/>
<rect x="622.02" y="393.52" width="5.76" height="5.76" fill="#6a72bb"/>
<rect x="626.78" y="393.52" width="5.76" height="5.76" fill="#6a72bb"/>
<rect x="631.54" y="393.52" width="5.76" height="5.76" fill="#3444a1"/>
<rect x="636.30" y="393.52" width="5.76" height="5.76" fill="#8a8ec9"/>
<rect x="641.06" y="393.52" width="5.76" height="5.76" fill="#3444a1"/>
<rect x="517.30" y="398.28" width="5.76" height="5.76" fill="#3444a1"/>
<rect x="522.06" y="398.28" width="5.76" height="5.76" fill="#3444a1"/>
<rect x="526.82" y="398.28" width="5.76" height="5.76" fill="#3444a1"/>
<rect x="531.58" y="398.28" width="5.76" height="5.76" fill="#3444a1"/>
<rect x="536.34" y="398.28" width="5.76" height="5.76" fill="#3444a1"/>
<rect x="541.10" y="398.28" width="5.76" height="5.76" fill="#3444a1"/>
<rect x="545.86" y="398.28" width="5.76" height="5.76" fill="#283794"/>
<rect x="550.62" y="398.28" width="5.76" height="5.76" fill="#1f2a78"/>
<rect x="555.38" y="398.28" width="5.76" height="5.76" fill="#ffffff"/>
<rect x="560.14" y="398.28" width="5.76" height="5.76" fill="#283794"/>
<rect x="564.90" y="398.28" width="5.76" height="5.76" fill="#3444a1"/>
<rect x="569.66" y="398.28" width="5.76" height="5.76" fill="#3444a1"/>
<rect x="574.42" y="398.28" width="5.76" height="5.76" fill="#283794"/>
<rect x="579.18" y="398.28" width="5.76" height="5.76" fill="#283794"/>
<rect x="583.94" y="398.28" width="5.76" height="5.76" fill="#6a72bb"/>
<rect x="588.70" y="398.28" width="5.76" height="5.76" fill="#3444a1"/>
<rect x="593.46" y="398.28" width="5.76" height="5.76" fill="#3444a1"/>
<rect x="598.22" y="398.28" width="5.76" height="5.76" fill="#3444a1"/>
<rect x="602.98" y="398.28" width="5.76" height="5.76" fill="#3444a1"/>
<rect x="607.74" y="398.28" width="5.76" height="5.76" fill="#4a58ad"/>
<rect x="612.50" y="398.28" width="5.76" height="5.76" fill="#4a58ad"/>
<rect x="617.26" y="398.28" width="5.76" height="5.76" fill="#4a58ad"/>
<rect x="622.02" y="398.28" width="5.76" height="5.76" fill="#6a72bb"/>
<rect x="626.78" y="398.28" width="5.76" height="5.76" fill="#a9abd9"/>
<rect x="631.54" y="398.28" width="5.76" height="5.76" fill="#3444a1"/>
<rect x="636.30" y="398.28" width="5.76" height="5.76" fill="#8a8ec9"/>
<rect x="641.06" y="398.28" width="5.76" height="5.76" fill="#3444a1"/>
<rect x="517.30" y="403.04" width="5.76" height="5.76" fill="#3444a1"/>
<rect x="522.06" y="403.04" width="5.76" height="5.76" fill="#3444a1"/>
<rect x="526.82" y="403.04" width="5.76" height="5.76" fill="#3444a1"/>
<rect x="531.58" y="403.04" width="5.76" height="5.76" fill="#3444a1"/>
<rect x="536.34" y="403.04" width="5.76" height="5.76" fill="#3444a1"/>
<rect x="541.10" y="403.04" width="5.76" height="5.76" fill="#3444a1"/>
<rect x="545.86" y="403.04" width="5.76" height="5.76" fill="#3444a1"/>
<rect x="550.62" y="403.04" width="5.76" height="5.76" fill="#283794"/>
<rect x="555.38" y="403.04" width="5.76" height="5.76" fill="#283794"/>
<rect x="560.14" y="403.04" width="5.76" height="5.76" fill="#ffffff"/>
<rect x="564.90" y="403.04" width="5.76" height="5.76" fill="#1f2a78"/>
<rect x="569.66" y="403.04" width="5.76" height="5.76" fill="#283794"/>
<rect x="574.42" y="403.04" width="5.76" height="5.76" fill="#283794"/>
<rect x="579.18" y="403.04" width="5.76" height="5.76" fill="#283794"/>
<rect x="583.94" y="403.04" width="5.76" height="5.76" fill="#8a8ec9"/>
<rect x="588.70" y="403.04" width="5.76" height="5.76" fill="#4a58ad"/>
<rect x="593.46" y="403.04" width="5.76" height="5.76" fill="#4a58ad"/>
<rect x="598.22" y="403.04" width="5.76" height="5.76" fill="#4a58ad"/>
<rect x="602.98" y="403.04" width="5.76" height="5.76" fill="#4a58ad"/>
<rect x="607.74" y="403.04" width="5.76" height="5.76" fill="#4a58ad"/>
<rect x="612.50" y="403.04" width="5.76" height="5.76" fill="#4a58ad"/>
<rect x="617.26" y="403.04" width="5.76" height="5.76" fill="#4a58ad"/>
<rect x="622.02" y="403.04" width="5.76" height="5.76" fill="#6a72bb"/>
<rect x="626.78" y="403.04" width="5.76" height="5.76" fill="#8a8ec9"/>
<rect x="631.54" y="403.04" width="5.76" height="5.76" fill="#3444a1"/>
<rect x="636.30" y="403.04" width="5.76" height="5.76" fill="#6a72bb"/>
<rect x="641.06" y="403.04" width="5.76" height="5.76" fill="#3444a1"/>
<rect x="517.30" y="407.80" width="5.76" height="5.76" fill="#283794"/>
<rect x="522.06" y="407.80" width="5.76" height="5.76" fill="#283794"/>
<rect x="526.82" y="407.80" width="5.76" height="5.76" fill="#3444a1"/>
<rect x="531.58" y="407.80" width="5.76" height="5.76" fill="#3444a1"/>
<rect x="536.34" y="407.80" width="5.76" height="5.76" fill="#3444a1"/>
<rect x="541.10" y="407.80" width="5.76" height="5.76" fill="#3444a1"/>
<rect x="545.86" y="407.80" width="5.76" height="5.76" fill="#3444a1"/>
<rect x="550.62" y="407.80" width="5.76" height="5.76" fill="#283794"/>
<rect x="555.38" y="407.80" width="5.76" height="5.76" fill="#283794"/>
<rect x="560.14" y="407.80" width="5.76" height="5.76" fill="#1f2a78"/>
<rect x="564.90" y="407.80" width="5.76" height="5.76" fill="#ffffff"/>
<rect x="569.66" y="407.80" width="5.76" height="5.76" fill="#1f2a78"/>
<rect x="574.42" y="407.80" width="5.76" height="5.76" fill="#1f2a78"/>
<rect x="579.18" y="407.80" width="5.76" height="5.76" fill="#1f2a78"/>
<rect x="583.94" y="407.80" width="5.76" height="5.76" fill="#a9abd9"/>
<rect x="588.70" y="407.80" width="5.76" height="5.76" fill="#6a72bb"/>
<rect x="593.46" y="407.80" width="5.76" height="5.76" fill="#8a8ec9"/>
<rect x="598.22" y="407.80" width="5.76" height="5.76" fill="#6a72bb"/>
<rect x="602.98" y="407.80" width="5.76" height="5.76" fill="#4a58ad"/>
<rect x="607.74" y="407.80" width="5.76" height="5.76" fill="#8a8ec9"/>
<rect x="612.50" y="407.80" width="5.76" height="5.76" fill="#6a72bb"/>
<rect x="617.26" y="407.80" width="5.76" height="5.76" fill="#6a72bb"/>
<rect x="622.02" y="407.80" width="5.76" height="5.76" fill="#6a72bb"/>
<rect x="626.78" y="407.80" width="5.76" height="5.76" fill="#6a72bb"/>
<rect x="631.54" y="407.80" width="5.76" height="5.76" fill="#3444a1"/>
<rect x="636.30" y="407.80" width="5.76" height="5.76" fill="#c8c8e6"/>
<rect x="641.06" y="407.80" width="5.76" height="5.76" fill="#3444a1"/>
<rect x="517.30" y="412.56" width="5.76" height="5.76" fill="#283794"/>
<rect x="522.06" y="412.56" width="5.76" height="5.76" fill="#3444a1"/>
<rect x="526.82" y="412.56" width="5.76" height="5.76" fill="#3444a1"/>
<rect x="531.58" y="412.56" width="5.76" height="5.76" fill="#3444a1"/>
<rect x="536.34" y="412.56" width="5.76" height="5.76" fill="#3444a1"/>
<rect x="541.10" y="412.56" width="5.76" height="5.76" fill="#3444a1"/>
<rect x="545.86" y="412.56" width="5.76" height="5.76" fill="#3444a1"/>
<rect x="550.62" y="412.56" width="5.76" height="5.76" fill="#283794"/>
<rect x="555.38" y="412.56" width="5.76" height="5.76" fill="#283794"/>
<rect x="560.14" y="412.56" width="5.76" height="5.76" fill="#283794"/>
<rect x="564.90" y="412.56" width="5.76" height="5.76" fill="#1f2a78"/>
<rect x="569.66" y="412.56" width="5.76" height="5.76" fill="#ffffff"/>
<rect x="574.42" y="412.56" width="5.76" height="5.76" fill="#1f2a78"/>
<rect x="579.18" y="412.56" width="5.76" height="5.76" fill="#1f2a78"/>
<rect x="583.94" y="412.56" width="5.76" height="5.76" fill="#e4e4f2"/>
<rect x="588.70" y="412.56" width="5.76" height="5.76" fill="#6a72bb"/>
<rect x="593.46" y="412.56" width="5.76" height="5.76" fill="#6a72bb"/>
<rect x="598.22" y="412.56" width="5.76" height="5.76" fill="#4a58ad"/>
<rect x="602.98" y="412.56" width="5.76" height="5.76" fill="#4a58ad"/>
<rect x="607.74" y="412.56" width="5.76" height="5.76" fill="#4a58ad"/>
<rect x="612.50" y="412.56" width="5.76" height="5.76" fill="#4a58ad"/>
<rect x="617.26" y="412.56" width="5.76" height="5.76" fill="#4a58ad"/>
<rect x="622.02" y="412.56" width="5.76" height="5.76" fill="#a9abd9"/>
<rect x="626.78" y="412.56" width="5.76" height="5.76" fill="#6a72bb"/>
<rect x="631.54" y="412.56" width="5.76" height="5.76" fill="#3444a1"/>
<rect x="636.30" y="412.56" width="5.76" height="5.76" fill="#e4e4f2"/>
<rect x="641.06" y="412.56" width="5.76" height="5.76" fill="#3444a1"/>
<rect x="517.30" y="417.32" width="5.76" height="5.76" fill="#3444a1"/>
<rect x="522.06" y="417.32" width="5.76" height="5.76" fill="#3444a1"/>
<rect x="526.82" y="417.32" width="5.76" height="5.76" fill="#3444a1"/>
<rect x="531.58" y="417.32" width="5.76" height="5.76" fill="#3444a1"/>
<rect x="536.34" y="417.32" width="5.76" height="5.76" fill="#3444a1"/>
<rect x="541.10" y="417.32" width="5.76" height="5.76" fill="#3444a1"/>
<rect x="545.86" y="417.32" width="5.76" height="5.76" fill="#283794"/>
<rect x="550.62" y="417.32" width="5.76" height="5.76" fill="#283794"/>
<rect x="555.38" y="417.32" width="5.76" height="5.76" fill="#283794"/>
<rect x="560.14" y="417.32" width="5.76" height="5.76" fill="#1f2a78"/>
<rect x="564.90" y="417.32" width="5.76" height="5.76" fill="#1f2a78"/>
<rect x="569.66" y="417.32" width="5.76" height="5.76" fill="#1f2a78"/>
<rect x="574.42" y="417.32" width="5.76" height="5.76" fill="#ffffff"/>
<rect x="579.18" y="417.32" width="5.76" height="5.76" fill="#1f2a78"/>
<rect x="583.94" y="417.32" width="5.76" height="5.76" fill="#ef6a6a"/>
<rect x="588.70" y="417.32" width="5.76" height="5.76" fill="#ffffff"/>
<rect x="593.46" y="417.32" width="5.76" height="5.76" fill="#8a8ec9"/>
<rect x="598.22" y="417.32" width="5.76" height="5.76" fill="#6a72bb"/>
<rect x="602.98" y="417.32" width="5.76" height="5.76" fill="#3444a1"/>
<rect x="607.74" y="417.32" width="5.76" height="5.76" fill="#4a58ad"/>
<rect x="612.50" y="417.32" width="5.76" height="5.76" fill="#4a58ad"/>
<rect x="617.26" y="417.32" width="5.76" height="5.76" fill="#8a8ec9"/>
<rect x="622.02" y="417.32" width="5.76" height="5.76" fill="#c8c8e6"/>
<rect x="626.78" y="417.32" width="5.76" height="5.76" fill="#6a72bb"/>
<rect x="631.54" y="417.32" width="5.76" height="5.76" fill="#6a72bb"/>
<rect x="636.30" y="417.32" width="5.76" height="5.76" fill="#e4e4f2"/>
<rect x="641.06" y="417.32" width="5.76" height="5.76" fill="#3444a1"/>
<rect x="517.30" y="422.08" width="5.76" height="5.76" fill="#3444a1"/>
<rect x="522.06" y="422.08" width="5.76" height="5.76" fill="#283794"/>
<rect x="526.82" y="422.08" width="5.76" height="5.76" fill="#283794"/>
<rect x="531.58" y="422.08" width="5.76" height="5.76" fill="#283794"/>
<rect x="536.34" y="422.08" width="5.76" height="5.76" fill="#283794"/>
<rect x="541.10" y="422.08" width="5.76" height="5.76" fill="#283794"/>
<rect x="545.86" y="422.08" width="5.76" height="5.76" fill="#283794"/>
<rect x="550.62" y="422.08" width="5.76" height="5.76" fill="#283794"/>
<rect x="555.38" y="422.08" width="5.76" height="5.76" fill="#1f2a78"/>
<rect x="560.14" y="422.08" width="5.76" height="5.76" fill="#1f2a78"/>
<rect x="564.90" y="422.08" width="5.76" height="5.76" fill="#1f2a78"/>
<rect x="569.66" y="422.08" width="5.76" height="5.76" fill="#1f2a78"/>
<rect x="574.42" y="422.08" width="5.76" height="5.76" fill="#1f2a78"/>
<rect x="579.18" y="422.08" width="5.76" height="5.76" fill="#ffffff"/>
<rect x="583.94" y="422.08" width="5.76" height="5.76" fill="#ef6a6a"/>
<rect x="588.70" y="422.08" width="5.76" height="5.76" fill="#e4e4f2"/>
<rect x="593.46" y="422.08" width="5.76" height="5.76" fill="#4a58ad"/>
<rect x="598.22" y="422.08" width="5.76" height="5.76" fill="#3444a1"/>
<rect x="602.98" y="422.08" width="5.76" height="5.76" fill="#3444a1"/>
<rect x="607.74" y="422.08" width="5.76" height="5.76" fill="#3444a1"/>
<rect x="612.50" y="422.08" width="5.76" height="5.76" fill="#3444a1"/>
<rect x="617.26" y="422.08" width="5.76" height="5.76" fill="#4a58ad"/>
<rect x="622.02" y="422.08" width="5.76" height="5.76" fill="#4a58ad"/>
<rect x="626.78" y="422.08" width="5.76" height="5.76" fill="#4a58ad"/>
<rect x="631.54" y="422.08" width="5.76" height="5.76" fill="#4a58ad"/>
<rect x="636.30" y="422.08" width="5.76" height="5.76" fill="#8a8ec9"/>
<rect x="641.06" y="422.08" width="5.76" height="5.76" fill="#3444a1"/>
<rect x="517.30" y="426.84" width="5.76" height="5.76" fill="#8a8ec9"/>
<rect x="522.06" y="426.84" width="5.76" height="5.76" fill="#a9abd9"/>
<rect x="526.82" y="426.84" width="5.76" height="5.76" fill="#a9abd9"/>
<rect x="531.58" y="426.84" width="5.76" height="5.76" fill="#c8c8e6"/>
<rect x="536.34" y="426.84" width="5.76" height="5.76" fill="#6a72bb"/>
<rect x="541.10" y="426.84" width="5.76" height="5.76" fill="#6a72bb"/>
<rect x="545.86" y="426.84" width="5.76" height="5.76" fill="#8a8ec9"/>
<rect x="550.62" y="426.84" width="5.76" height="5.76" fill="#4a58ad"/>
<rect x="555.38" y="426.84" width="5.76" height="5.76" fill="#8a8ec9"/>
<rect x="560.14" y="426.84" width="5.76" height="5.76" fill="#8a8ec9"/>
<rect x="564.90" y="426.84" width="5.76" height="5.76" fill="#a9abd9"/>
<rect x="569.66" y="426.84" width="5.76" height="5.76" fill="#c8c8e6"/>
<rect x="574.42" y="426.84" width="5.76" height="5.76" fill="#ef6a6a"/>
<rect x="579.18" y="426.84" width="5.76" height="5.76" fill="#ef6a6a"/>
<rect x="583.94" y="426.84" width="5.76" height="5.76" fill="#ffffff"/>
<rect x="588.70" y="426.84" width="5.76" height="5.76" fill="#3444a1"/>
<rect x="593.46" y="426.84" width="5.76" height="5.76" fill="#3444a1"/>
<rect x="598.22" y="426.84" width="5.76" height="5.76" fill="#1f2a78"/>
<rect x="602.98" y="426.84" width="5.76" height="5.76" fill="#3444a1"/>
<rect x="607.74" y="426.84" width="5.76" height="5.76" fill="#3444a1"/>
<rect x="612.50" y="426.84" width="5.76" height="5.76" fill="#3444a1"/>
<rect x="617.26" y="426.84" width="5.76" height="5.76" fill="#6a72bb"/>
<rect x="622.02" y="426.84" width="5.76" height="5.76" fill="#8a8ec9"/>
<rect x="626.78" y="426.84" width="5.76" height="5.76" fill="#4a58ad"/>
<rect x="631.54" y="426.84" width="5.76" height="5.76" fill="#4a58ad"/>
<rect x="636.30" y="426.84" width="5.76" height="5.76" fill="#c8c8e6"/>
<rect x="641.06" y="426.84" width="5.76" height="5.76" fill="#8a8ec9"/>
<rect x="517.30" y="431.60" width="5.76" height="5.76" fill="#3444a1"/>
<rect x="522.06" y="431.60" width="5.76" height="5.76" fill="#4a58ad"/>
<rect x="526.82" y="431.60" width="5.76" height="5.76" fill="#4a58ad"/>
<rect x="531.58" y="431.60" width="5.76" height="5.76" fill="#6a72bb"/>
<rect x="536.34" y="431.60" width="5.76" height="5.76" fill="#4a58ad"/>
<rect x="541.10" y="431.60" width="5.76" height="5.76" fill="#4a58ad"/>
<rect x="545.86" y="431.60" width="5.76" height="5.76" fill="#4a58ad"/>
<rect x="550.62" y="431.60" width="5.76" height="5.76" fill="#4a58ad"/>
<rect x="555.38" y="431.60" width="5.76" height="5.76" fill="#6a72bb"/>
<rect x="560.14" y="431.60" width="5.76" height="5.76" fill="#6a72bb"/>
<rect x="564.90" y="431.60" width="5.76" height="5.76" fill="#6a72bb"/>
<rect x="569.66" y="431.60" width="5.76" height="5.76" fill="#8a8ec9"/>
<rect x="574.42" y="431.60" width="5.76" height="5.76" fill="#ffffff"/>
<rect x="579.18" y="431.60" width="5.76" height="5.76" fill="#c8c8e6"/>
<rect x="583.94" y="431.60" width="5.76" height="5.76" fill="#3444a1"/>
<rect x="588.70" y="431.60" width="5.76" height="5.76" fill="#ffffff"/>
<rect x="593.46" y="431.60" width="5.76" height="5.76" fill="#283794"/>
<rect x="598.22" y="431.60" width="5.76" height="5.76" fill="#1f2a78"/>
<rect x="602.98" y="431.60" width="5.76" height="5.76" fill="#3444a1"/>
<rect x="607.74" y="431.60" width="5.76" height="5.76" fill="#3444a1"/>
<rect x="612.50" y="431.60" width="5.76" height="5.76" fill="#3444a1"/>
<rect x="617.26" y="431.60" width="5.76" height="5.76" fill="#4a58ad"/>
<rect x="622.02" y="431.60" width="5.76" height="5.76" fill="#4a58ad"/>
<rect x="626.78" y="431.60" width="5.76" height="5.76" fill="#3444a1"/>
<rect x="631.54" y="431.60" width="5.76" height="5.76" fill="#4a58ad"/>
<rect x="636.30" y="431.60" width="5.76" height="5.76" fill="#6a72bb"/>
<rect x="641.06" y="431.60" width="5.76" height="5.76" fill="#3444a1"/>
<rect x="517.30" y="436.36" width="5.76" height="5.76" fill="#3444a1"/>
<rect x="522.06" y="436.36" width="5.76" height="5.76" fill="#3444a1"/>
<rect x="526.82" y="436.36" width="5.76" height="5.76" fill="#3444a1"/>
<rect x="531.58" y="436.36" width="5.76" height="5.76" fill="#4a58ad"/>
<rect x="536.34" y="436.36" width="5.76" height="5.76" fill="#4a58ad"/>
<rect x="541.10" y="436.36" width="5.76" height="5.76" fill="#4a58ad"/>
<rect x="545.86" y="436.36" width="5.76" height="5.76" fill="#4a58ad"/>
<rect x="550.62" y="436.36" width="5.76" height="5.76" fill="#4a58ad"/>
<rect x="555.38" y="436.36" width="5.76" height="5.76" fill="#6a72bb"/>
<rect x="560.14" y="436.36" width="5.76" height="5.76" fill="#8a8ec9"/>
<rect x="564.90" y="436.36" width="5.76" height="5.76" fill="#a9abd9"/>
<rect x="569.66" y="436.36" width="5.76" height="5.76" fill="#8a8ec9"/>
<rect x="574.42" y="436.36" width="5.76" height="5.76" fill="#a9abd9"/>
<rect x="579.18" y="436.36" width="5.76" height="5.76" fill="#3444a1"/>
<rect x="583.94" y="436.36" width="5.76" height="5.76" fill="#3444a1"/>
<rect x="588.70" y="436.36" width="5.76" height="5.76" fill="#283794"/>
<rect x="593.46" y="436.36" width="5.76" height="5.76" fill="#ffffff"/>
<rect x="598.22" y="436.36" width="5.76" height="5.76" fill="#283794"/>
<rect x="602.98" y="436.36" width="5.76" height="5.76" fill="#283794"/>
<rect x="607.74" y="436.36" width="5.76" height="5.76" fill="#3444a1"/>
<rect x="612.50" y="436.36" width="5.76" height="5.76" fill="#3444a1"/>
<rect x="617.26" y="436.36" width="5.76" height="5.76" fill="#3444a1"/>
<rect x="622.02" y="436.36" width="5.76" height="5.76" fill="#6a72bb"/>
<rect x="626.78" y="436.36" width="5.76" height="5.76" fill="#4a58ad"/>
<rect x="631.54" y="436.36" width="5.76" height="5.76" fill="#4a58ad"/>
<rect x="636.30" y="436.36" width="5.76" height="5.76" fill="#8a8ec9"/>
<rect x="641.06" y="436.36" width="5.76" height="5.76" fill="#3444a1"/>
<rect x="517.30" y="441.12" width="5.76" height="5.76" fill="#3444a1"/>
<rect x="522.06" y="441.12" width="5.76" height="5.76" fill="#4a58ad"/>
<rect x="526.82" y="441.12" width="5.76" height="5.76" fill="#6a72bb"/>
<rect x="531.58" y="441.12" width="5.76" height="5.76" fill="#8a8ec9"/>
<rect x="536.34" y="441.12" width="5.76" height="5.76" fill="#8a8ec9"/>
<rect x="541.10" y="441.12" width="5.76" height="5.76" fill="#4a58ad"/>
<rect x="545.86" y="441.12" width="5.76" height="5.76" fill="#4a58ad"/>
<rect x="550.62" y="441.12" width="5.76" height="5.76" fill="#4a58ad"/>
<rect x="555.38" y="441.12" width="5.76" height="5.76" fill="#6a72bb"/>
<rect x="560.14" y="441.12" width="5.76" height="5.76" fill="#8a8ec9"/>
<rect x="564.90" y="441.12" width="5.76" height="5.76" fill="#6a72bb"/>
<rect x="569.66" y="441.12" width="5.76" height="5.76" fill="#6a72bb"/>
<rect x="574.42" y="441.12" width="5.76" height="5.76" fill="#8a8ec9"/>
<rect x="579.18" y="441.12" width="5.76" height="5.76" fill="#3444a1"/>
<rect x="583.94" y="441.12" width="5.76" height="5.76" fill="#1f2a78"/>
<rect x="588.70" y="441.12" width="5.76" height="5.76" fill="#1f2a78"/>
<rect x="593.46" y="441.12" width="5.76" height="5.76" fill="#283794"/>
<rect x="598.22" y="441.12" width="5.76" height="5.76" fill="#ffffff"/>
<rect x="602.98" y="441.12" width="5.76" height="5.76" fill="#283794"/>
<rect x="607.74" y="441.12" width="5.76" height="5.76" fill="#3444a1"/>
<rect x="612.50" y="441.12" width="5.76" height="5.76" fill="#3444a1"/>
<rect x="617.26" y="441.12" width="5.76" height="5.76" fill="#4a58ad"/>
<rect x="622.02" y="441.12" width="5.76" height="5.76" fill="#4a58ad"/>
<rect x="626.78" y="441.12" width="5.76" height="5.76" fill="#4a58ad"/>
<rect x="631.54" y="441.12" width="5.76" height="5.76" fill="#3444a1"/>
<rect x="636.30" y="441.12" width="5.76" height="5.76" fill="#3444a1"/>
<rect x="641.06" y="441.12" width="5.76" height="5.76" fill="#3444a1"/>
<rect x="517.30" y="445.88" width="5.76" height="5.76" fill="#3444a1"/>
<rect x="522.06" y="445.88" width="5.76" height="5.76" fill="#3444a1"/>
<rect x="526.82" y="445.88" width="5.76" height="5.76" fill="#3444a1"/>
<rect x="531.58" y="445.88" width="5.76" height="5.76" fill="#3444a1"/>
<rect x="536.34" y="445.88" width="5.76" height="5.76" fill="#6a72bb"/>
<rect x="541.10" y="445.88" width="5.76" height="5.76" fill="#4a58ad"/>
<rect x="545.86" y="445.88" width="5.76" height="5.76" fill="#4a58ad"/>
<rect x="550.62" y="445.88" width="5.76" height="5.76" fill="#4a58ad"/>
<rect x="555.38" y="445.88" width="5.76" height="5.76" fill="#4a58ad"/>
<rect x="560.14" y="445.88" width="5.76" height="5.76" fill="#6a72bb"/>
<rect x="564.90" y="445.88" width="5.76" height="5.76" fill="#6a72bb"/>
<rect x="569.66" y="445.88" width="5.76" height="5.76" fill="#6a72bb"/>
<rect x="574.42" y="445.88" width="5.76" height="5.76" fill="#4a58ad"/>
<rect x="579.18" y="445.88" width="5.76" height="5.76" fill="#3444a1"/>
<rect x="583.94" y="445.88" width="5.76" height="5.76" fill="#3444a1"/>
<rect x="588.70" y="445.88" width="5.76" height="5.76" fill="#3444a1"/>
<rect x="593.46" y="445.88" width="5.76" height="5.76" fill="#283794"/>
<rect x="598.22" y="445.88" width="5.76" height="5.76" fill="#283794"/>
<rect x="602.98" y="445.88" width="5.76" height="5.76" fill="#ffffff"/>
<rect x="607.74" y="445.88" width="5.76" height="5.76" fill="#283794"/>
<rect x="612.50" y="445.88" width="5.76" height="5.76" fill="#3444a1"/>
<rect x="617.26" y="445.88" width="5.76" height="5.76" fill="#3444a1"/>
<rect x="622.02" y="445.88" width="5.76" height="5.76" fill="#4a58ad"/>
<rect x="626.78" y="445.88" width="5.76" height="5.76" fill="#4a58ad"/>
<rect x="631.54" y="445.88" width="5.76" height="5.76" fill="#4a58ad"/>
<rect x="636.30" y="445.88" width="5.76" height="5.76" fill="#3444a1"/>
<rect x="641.06" y="445.88" width="5.76" height="5.76" fill="#3444a1"/>
<rect x="517.30" y="450.64" width="5.76" height="5.76" fill="#4a58ad"/>
<rect x="522.06" y="450.64" width="5.76" height="5.76" fill="#4a58ad"/>
<rect x="526.82" y="450.64" width="5.76" height="5.76" fill="#4a58ad"/>
<rect x="531.58" y="450.64" width="5.76" height="5.76" fill="#4a58ad"/>
<rect x="536.34" y="450.64" width="5.76" height="5.76" fill="#4a58ad"/>
<rect x="541.10" y="450.64" width="5.76" height="5.76" fill="#a9abd9"/>
<rect x="545.86" y="450.64" width="5.76" height="5.76" fill="#4a58ad"/>
<rect x="550.62" y="450.64" width="5.76" height="5.76" fill="#4a58ad"/>
<rect x="555.38" y="450.64" width="5.76" height="5.76" fill="#6a72bb"/>
<rect x="560.14" y="450.64" width="5.76" height="5.76" fill="#8a8ec9"/>
<rect x="564.90" y="450.64" width="5.76" height="5.76" fill="#8a8ec9"/>
<rect x="569.66" y="450.64" width="5.76" height="5.76" fill="#6a72bb"/>
<rect x="574.42" y="450.64" width="5.76" height="5.76" fill="#4a58ad"/>
<rect x="579.18" y="450.64" width="5.76" height="5.76" fill="#3444a1"/>
<rect x="583.94" y="450.64" width="5.76" height="5.76" fill="#3444a1"/>
<rect x="588.70" y="450.64" width="5.76" height="5.76" fill="#3444a1"/>
<rect x="593.46" y="450.64" width="5.76" height="5.76" fill="#3444a1"/>
<rect x="598.22" y="450.64" width="5.76" height="5.76" fill="#3444a1"/>
<rect x="602.98" y="450.64" width="5.76" height="5.76" fill="#283794"/>
<rect x="607.74" y="450.64" width="5.76" height="5.76" fill="#ffffff"/>
<rect x="612.50" y="450.64" width="5.76" height="5.76" fill="#283794"/>
<rect x="617.26" y="450.64" width="5.76" height="5.76" fill="#4a58ad"/>
<rect x="622.02" y="450.64" width="5.76" height="5.76" fill="#3444a1"/>
<rect x="626.78" y="450.64" width="5.76" height="5.76" fill="#3444a1"/>
<rect x="631.54" y="450.64" width="5.76" height="5.76" fill="#3444a1"/>
<rect x="636.30" y="450.64" width="5.76" height="5.76" fill="#3444a1"/>
<rect x="641.06" y="450.64" width="5.76" height="5.76" fill="#3444a1"/>
<rect x="517.30" y="455.40" width="5.76" height="5.76" fill="#4a58ad"/>
<rect x="522.06" y="455.40" width="5.76" height="5.76" fill="#4a58ad"/>
<rect x="526.82" y="455.40" width="5.76" height="5.76" fill="#4a58ad"/>
<rect x="531.58" y="455.40" width="5.76" height="5.76" fill="#4a58ad"/>
<rect x="536.34" y="455.40" width="5.76" height="5.76" fill="#6a72bb"/>
<rect x="541.10" y="455.40" width="5.76" height="5.76" fill="#4a58ad"/>
<rect x="545.86" y="455.40" width="5.76" height="5.76" fill="#4a58ad"/>
<rect x="550.62" y="455.40" width="5.76" height="5.76" fill="#4a58ad"/>
<rect x="555.38" y="455.40" width="5.76" height="5.76" fill="#4a58ad"/>
<rect x="560.14" y="455.40" width="5.76" height="5.76" fill="#4a58ad"/>
<rect x="564.90" y="455.40" width="5.76" height="5.76" fill="#6a72bb"/>
<rect x="569.66" y="455.40" width="5.76" height="5.76" fill="#4a58ad"/>
<rect x="574.42" y="455.40" width="5.76" height="5.76" fill="#4a58ad"/>
<rect x="579.18" y="455.40" width="5.76" height="5.76" fill="#3444a1"/>
<rect x="583.94" y="455.40" width="5.76" height="5.76" fill="#4a58ad"/>
<rect x="588.70" y="455.40" width="5.76" height="5.76" fill="#4a58ad"/>
<rect x="593.46" y="455.40" width="5.76" height="5.76" fill="#3444a1"/>
<rect x="598.22" y="455.40" width="5.76" height="5.76" fill="#3444a1"/>
<rect x="602.98" y="455.40" width="5.76" height="5.76" fill="#3444a1"/>
<rect x="607.74" y="455.40" width="5.76" height="5.76" fill="#283794"/>
<rect x="612.50" y="455.40" width="5.76" height="5.76" fill="#ffffff"/>
<rect x="617.26" y="455.40" width="5.76" height="5.76" fill="#3444a1"/>
<rect x="622.02" y="455.40" width="5.76" height="5.76" fill="#4a58ad"/>
<rect x="626.78" y="455.40" width="5.76" height="5.76" fill="#283794"/>
<rect x="631.54" y="455.40" width="5.76" height="5.76" fill="#283794"/>
<rect x="636.30" y="455.40" width="5.76" height="5.76" fill="#3444a1"/>
<rect x="641.06" y="455.40" width="5.76" height="5.76" fill="#3444a1"/>
<rect x="517.30" y="460.16" width="5.76" height="5.76" fill="#4a58ad"/>
<rect x="522.06" y="460.16" width="5.76" height="5.76" fill="#4a58ad"/>
<rect x="526.82" y="460.16" width="5.76" height="5.76" fill="#8a8ec9"/>
<rect x="531.58" y="460.16" width="5.76" height="5.76" fill="#6a72bb"/>
<rect x="536.34" y="460.16" width="5.76" height="5.76" fill="#8a8ec9"/>
<rect x="541.10" y="460.16" width="5.76" height="5.76" fill="#4a58ad"/>
<rect x="545.86" y="460.16" width="5.76" height="5.76" fill="#4a58ad"/>
<rect x="550.62" y="460.16" width="5.76" height="5.76" fill="#4a58ad"/>
<rect x="555.38" y="460.16" width="5.76" height="5.76" fill="#4a58ad"/>
<rect x="560.14" y="460.16" width="5.76" height="5.76" fill="#6a72bb"/>
<rect x="564.90" y="460.16" width="5.76" height="5.76" fill="#6a72bb"/>
<rect x="569.66" y="460.16" width="5.76" height="5.76" fill="#6a72bb"/>
<rect x="574.42" y="460.16" width="5.76" height="5.76" fill="#8a8ec9"/>
<rect x="579.18" y="460.16" width="5.76" height="5.76" fill="#3444a1"/>
<rect x="583.94" y="460.16" width="5.76" height="5.76" fill="#6a72bb"/>
<rect x="588.70" y="460.16" width="5.76" height="5.76" fill="#6a72bb"/>
<rect x="593.46" y="460.16" width="5.76" height="5.76" fill="#4a58ad"/>
<rect x="598.22" y="460.16" width="5.76" height="5.76" fill="#4a58ad"/>
<rect x="602.98" y="460.16" width="5.76" height="5.76" fill="#3444a1"/>
<rect x="607.74" y="460.16" width="5.76" height="5.76" fill="#4a58ad"/>
<rect x="612.50" y="460.16" width="5.76" height="5.76" fill="#3444a1"/>
<rect x="617.26" y="460.16" width="5.76" height="5.76" fill="#ffffff"/>
<rect x="622.02" y="460.16" width="5.76" height="5.76" fill="#3444a1"/>
<rect x="626.78" y="460.16" width="5.76" height="5.76" fill="#3444a1"/>
<rect x="631.54" y="460.16" width="5.76" height="5.76" fill="#1f2a78"/>
<rect x="636.30" y="460.16" width="5.76" height="5.76" fill="#1f2a78"/>
<rect x="641.06" y="460.16" width="5.76" height="5.76" fill="#1f2a78"/>
<rect x="517.30" y="464.92" width="5.76" height="5.76" fill="#4a58ad"/>
<rect x="522.06" y="464.92" width="5.76" height="5.76" fill="#4a58ad"/>
<rect x="526.82" y="464.92" width="5.76" height="5.76" fill="#6a72bb"/>
<rect x="531.58" y="464.92" width="5.76" height="5.76" fill="#4a58ad"/>
<rect x="536.34" y="464.92" width="5.76" height="5.76" fill="#6a72bb"/>
<rect x="541.10" y="464.92" width="5.76" height="5.76" fill="#4a58ad"/>
<rect x="545.86" y="464.92" width="5.76" height="5.76" fill="#6a72bb"/>
<rect x="550.62" y="464.92" width="5.76" height="5.76" fill="#8a8ec9"/>
<rect x="555.38" y="464.92" width="5.76" height="5.76" fill="#6a72bb"/>
<rect x="560.14" y="464.92" width="5.76" height="5.76" fill="#6a72bb"/>
<rect x="564.90" y="464.92" width="5.76" height="5.76" fill="#6a72bb"/>
<rect x="569.66" y="464.92" width="5.76" height="5.76" fill="#a9abd9"/>
<rect x="574.42" y="464.92" width="5.76" height="5.76" fill="#c8c8e6"/>
<rect x="579.18" y="464.92" width="5.76" height="5.76" fill="#4a58ad"/>
<rect x="583.94" y="464.92" width="5.76" height="5.76" fill="#a9abd9"/>
<rect x="588.70" y="464.92" width="5.76" height="5.76" fill="#6a72bb"/>
<rect x="593.46" y="464.92" width="5.76" height="5.76" fill="#6a72bb"/>
<rect x="598.22" y="464.92" width="5.76" height="5.76" fill="#4a58ad"/>
<rect x="602.98" y="464.92" width="5.76" height="5.76" fill="#4a58ad"/>
<rect x="607.74" y="464.92" width="5.76" height="5.76" fill="#4a58ad"/>
<rect x="612.50" y="464.92" width="5.76" height="5.76" fill="#4a58ad"/>
<rect x="617.26" y="464.92" width="5.76" height="5.76" fill="#3444a1"/>
<rect x="622.02" y="464.92" width="5.76" height="5.76" fill="#ffffff"/>
<rect x="626.78" y="464.92" width="5.76" height="5.76" fill="#e4e4f2"/>
<rect x="631.54" y="464.92" width="5.76" height="5.76" fill="#1f2a78"/>
<rect x="636.30" y="464.92" width="5.76" height="5.76" fill="#1f2a78"/>
<rect x="641.06" y="464.92" width="5.76" height="5.76" fill="#1f2a78"/>
<rect x="517.30" y="469.68" width="5.76" height="5.76" fill="#4a58ad"/>
<rect x="522.06" y="469.68" width="5.76" height="5.76" fill="#4a58ad"/>
<rect x="526.82" y="469.68" width="5.76" height="5.76" fill="#6a72bb"/>
<rect x="531.58" y="469.68" width="5.76" height="5.76" fill="#4a58ad"/>
<rect x="536.34" y="469.68" width="5.76" height="5.76" fill="#6a72bb"/>
<rect x="541.10" y="469.68" width="5.76" height="5.76" fill="#4a58ad"/>
<rect x="545.86" y="469.68" width="5.76" height="5.76" fill="#4a58ad"/>
<rect x="550.62" y="469.68" width="5.76" height="5.76" fill="#a9abd9"/>
<rect x="555.38" y="469.68" width="5.76" height="5.76" fill="#c8c8e6"/>
<rect x="560.14" y="469.68" width="5.76" height="5.76" fill="#a9abd9"/>
<rect x="564.90" y="469.68" width="5.76" height="5.76" fill="#8a8ec9"/>
<rect x="569.66" y="469.68" width="5.76" height="5.76" fill="#8a8ec9"/>
<rect x="574.42" y="469.68" width="5.76" height="5.76" fill="#8a8ec9"/>
<rect x="579.18" y="469.68" width="5.76" height="5.76" fill="#4a58ad"/>
<rect x="583.94" y="469.68" width="5.76" height="5.76" fill="#6a72bb"/>
<rect x="588.70" y="469.68" width="5.76" height="5.76" fill="#6a72bb"/>
<rect x="593.46" y="469.68" width="5.76" height="5.76" fill="#4a58ad"/>
<rect x="598.22" y="469.68" width="5.76" height="5.76" fill="#4a58ad"/>
<rect x="602.98" y="469.68" width="5.76" height="5.76" fill="#4a58ad"/>
<rect x="607.74" y="469.68" width="5.76" height="5.76" fill="#4a58ad"/>
<rect x="612.50" y="469.68" width="5.76" height="5.76" fill="#6a72bb"/>
<rect x="617.26" y="469.68" width="5.76" height="5.76" fill="#3444a1"/>
<rect x="622.02" y="469.68" width="5.76" height="5.76" fill="#e4e4f2"/>
<rect x="626.78" y="469.68" width="5.76" height="5.76" fill="#ffffff"/>
<rect x="631.54" y="469.68" width="5.76" height="5.76" fill="#1f2a78"/>
<rect x="636.30" y="469.68" width="5.76" height="5.76" fill="#1f2a78"/>
<rect x="641.06" y="469.68" width="5.76" height="5.76" fill="#1f2a78"/>
<rect x="517.30" y="474.44" width="5.76" height="5.76" fill="#3444a1"/>
<rect x="522.06" y="474.44" width="5.76" height="5.76" fill="#3444a1"/>
<rect x="526.82" y="474.44" width="5.76" height="5.76" fill="#4a58ad"/>
<rect x="531.58" y="474.44" width="5.76" height="5.76" fill="#4a58ad"/>
<rect x="536.34" y="474.44" width="5.76" height="5.76" fill="#4a58ad"/>
<rect x="541.10" y="474.44" width="5.76" height="5.76" fill="#3444a1"/>
<rect x="545.86" y="474.44" width="5.76" height="5.76" fill="#3444a1"/>
<rect x="550.62" y="474.44" width="5.76" height="5.76" fill="#3444a1"/>
<rect x="555.38" y="474.44" width="5.76" height="5.76" fill="#3444a1"/>
<rect x="560.14" y="474.44" width="5.76" height="5.76" fill="#3444a1"/>
<rect x="564.90" y="474.44" width="5.76" height="5.76" fill="#3444a1"/>
<rect x="569.66" y="474.44" width="5.76" height="5.76" fill="#3444a1"/>
<rect x="574.42" y="474.44" width="5.76" height="5.76" fill="#8a8ec9"/>
<rect x="579.18" y="474.44" width="5.76" height="5.76" fill="#4a58ad"/>
<rect x="583.94" y="474.44" width="5.76" height="5.76" fill="#4a58ad"/>
<rect x="588.70" y="474.44" width="5.76" height="5.76" fill="#3444a1"/>
<rect x="593.46" y="474.44" width="5.76" height="5.76" fill="#3444a1"/>
<rect x="598.22" y="474.44" width="5.76" height="5.76" fill="#3444a1"/>
<rect x="602.98" y="474.44" width="5.76" height="5.76" fill="#3444a1"/>
<rect x="607.74" y="474.44" width="5.76" height="5.76" fill="#283794"/>
<rect x="612.50" y="474.44" width="5.76" height="5.76" fill="#283794"/>
<rect x="617.26" y="474.44" width="5.76" height="5.76" fill="#1f2a78"/>
<rect x="622.02" y="474.44" width="5.76" height="5.76" fill="#1f2a78"/>
<rect x="626.78" y="474.44" width="5.76" height="5.76" fill="#1f2a78"/>
<rect x="631.54" y="474.44" width="5.76" height="5.76" fill="#ffffff"/>
<rect x="636.30" y="474.44" width="5.76" height="5.76" fill="#1f2a78"/>
<rect x="641.06" y="474.44" width="5.76" height="5.76" fill="#1f2a78"/>
<rect x="517.30" y="479.20" width="5.76" height="5.76" fill="#a9abd9"/>
<rect x="522.06" y="479.20" width="5.76" height="5.76" fill="#a9abd9"/>
<rect x="526.82" y="479.20" width="5.76" height="5.76" fill="#e4e4f2"/>
<rect x="531.58" y="479.20" width="5.76" height="5.76" fill="#a9abd9"/>
<rect x="536.34" y="479.20" width="5.76" height="5.76" fill="#a9abd9"/>
<rect x="541.10" y="479.20" width="5.76" height="5.76" fill="#e4e4f2"/>
<rect x="545.86" y="479.20" width="5.76" height="5.76" fill="#a9abd9"/>
<rect x="550.62" y="479.20" width="5.76" height="5.76" fill="#8a8ec9"/>
<rect x="555.38" y="479.20" width="5.76" height="5.76" fill="#8a8ec9"/>
<rect x="560.14" y="479.20" width="5.76" height="5.76" fill="#6a72bb"/>
<rect x="564.90" y="479.20" width="5.76" height="5.76" fill="#e4e4f2"/>
<rect x="569.66" y="479.20" width="5.76" height="5.76" fill="#e4e4f2"/>
<rect x="574.42" y="479.20" width="5.76" height="5.76" fill="#e4e4f2"/>
<rect x="579.18" y="479.20" width="5.76" height="5.76" fill="#6a72bb"/>
<rect x="583.94" y="479.20" width="5.76" height="5.76" fill="#a9abd9"/>
<rect x="588.70" y="479.20" width="5.76" height="5.76" fill="#4a58ad"/>
<rect x="593.46" y="479.20" width="5.76" height="5.76" fill="#8a8ec9"/>
<rect x="598.22" y="479.20" width="5.76" height="5.76" fill="#3444a1"/>
<rect x="602.98" y="479.20" width="5.76" height="5.76" fill="#3444a1"/>
<rect x="607.74" y="479.20" width="5.76" height="5.76" fill="#3444a1"/>
<rect x="612.50" y="479.20" width="5.76" height="5.76" fill="#3444a1"/>
<rect x="617.26" y="479.20" width="5.76" height="5.76" fill="#283794"/>
<rect x="622.02" y="479.20" width="5.76" height="5.76" fill="#1f2a78"/>
<rect x="626.78" y="479.20" width="5.76" height="5.76" fill="#1f2a78"/>
<rect x="631.54" y="479.20" width="5.76" height="5.76" fill="#1f2a78"/>
<rect x="636.30" y="479.20" width="5.76" height="5.76" fill="#ffffff"/>
<rect x="641.06" y="479.20" width="5.76" height="5.76" fill="#1f2a78"/>
<rect x="517.30" y="483.96" width="5.76" height="5.76" fill="#4a58ad"/>
<rect x="522.06" y="483.96" width="5.76" height="5.76" fill="#4a58ad"/>
<rect x="526.82" y="483.96" width="5.76" height="5.76" fill="#4a58ad"/>
<rect x="531.58" y="483.96" width="5.76" height="5.76" fill="#4a58ad"/>
<rect x="536.34" y="483.96" width="5.76" height="5.76" fill="#4a58ad"/>
<rect x="541.10" y="483.96" width="5.76" height="5.76" fill="#4a58ad"/>
<rect x="545.86" y="483.96" width="5.76" height="5.76" fill="#3444a1"/>
<rect x="550.62" y="483.96" width="5.76" height="5.76" fill="#3444a1"/>
<rect x="555.38" y="483.96" width="5.76" height="5.76" fill="#3444a1"/>
<rect x="560.14" y="483.96" width="5.76" height="5.76" fill="#3444a1"/>
<rect x="564.90" y="483.96" width="5.76" height="5.76" fill="#3444a1"/>
<rect x="569.66" y="483.96" width="5.76" height="5.76" fill="#3444a1"/>
<rect x="574.42" y="483.96" width="5.76" height="5.76" fill="#3444a1"/>
<rect x="579.18" y="483.96" width="5.76" height="5.76" fill="#4a58ad"/>
<rect x="583.94" y="483.96" width="5.76" height="5.76" fill="#4a58ad"/>
<rect x="588.70" y="483.96" width="5.76" height="5.76" fill="#3444a1"/>
<rect x="593.46" y="483.96" width="5.76" height="5.76" fill="#3444a1"/>
<rect x="598.22" y="483.96" width="5.76" height="5.76" fill="#3444a1"/>
<rect x="602.98" y="483.96" width="5.76" height="5.76" fill="#3444a1"/>
<rect x="607.74" y="483.96" width="5.76" height="5.76" fill="#283794"/>
<rect x="612.50" y="483.96" width="5.76" height="5.76" fill="#283794"/>
<rect x="617.26" y="483.96" width="5.76" height="5.76" fill="#1f2a78"/>
<rect x="622.02" y="483.96" width="5.76" height="5.76" fill="#1f2a78"/>
<rect x="626.78" y="483.96" width="5.76" height="5.76" fill="#1f2a78"/>
<rect x="631.54" y="483.96" width="5.76" height="5.76" fill="#1f2a78"/>
<rect x="636.30" y="483.96" width="5.76" height="5.76" fill="#1f2a78"/>
<rect x="641.06" y="483.96" width="5.76" height="5.76" fill="#ffffff"/>
</g>
<rect x="517.30" y="360.20" width="128.52" height="128.52" fill="none" stroke="#666" stroke-width="0.7"/>
<linearGradient id="cbk" x1="0" y1="0" x2="0" y2="1"><stop offset="0" stop-color="#1b1b4f"/><stop offset="0.125" stop-color="#23328c"/><stop offset="0.25" stop-color="#2d47a8"/><stop offset="0.375" stop-color="#9a9ad0"/><stop offset="0.5" stop-color="#ffffff"/><stop offset="0.625" stop-color="#f2a3a3"/><stop offset="0.75" stop-color="#d41f27"/><stop offset="0.875" stop-color="#a01a20"/><stop offset="1" stop-color="#6b1015"/></linearGradient>
<rect x="649.10" y="359.70" width="9.60" height="128.70" fill="url(#cbk)" stroke="#555" stroke-width="0.8"/>
<text x="661.10" y="361.50" font-size="6.4" fill="#3a3a3a">0.2</text>
<text x="661.10" y="393.68" font-size="6.4" fill="#3a3a3a">0.1</text>
<line x1="656.70" y1="391.88" x2="658.70" y2="391.88" stroke="#333" stroke-width="0.7"/>
<text x="661.10" y="425.85" font-size="6.4" fill="#3a3a3a">0</text>
<line x1="656.70" y1="424.05" x2="658.70" y2="424.05" stroke="#333" stroke-width="0.7"/>
<text x="661.10" y="458.03" font-size="6.4" fill="#3a3a3a">−0.1</text>
<line x1="656.70" y1="456.23" x2="658.70" y2="456.23" stroke="#333" stroke-width="0.7"/>
<text x="661.10" y="490.20" font-size="6.4" fill="#3a3a3a">−0.2</text>
<text x="682.01" y="426.96" font-size="7.8" text-anchor="middle" fill="#3a3a3a" textLength="118.70" lengthAdjust="spacingAndGlyphs" transform="rotate(90 682.01 424.15)">log<tspan font-size="4.5" dy="1.7">2</tspan><tspan dy="-1.7">fc of overall inter-TAD distance</tspan></text>
<text x="512.90" y="383.67" font-size="6.8" text-anchor="end" fill="#3a3a3a">5</text>
<line x1="517.30" y1="381.62" x2="521.10" y2="381.62" stroke="#333" stroke-width="0.8"/>
<text x="538.72" y="496.65" font-size="6.8" text-anchor="middle" fill="#3a3a3a">5</text>
<line x1="538.72" y1="484.92" x2="538.72" y2="488.72" stroke="#333" stroke-width="0.8"/>
<text x="512.90" y="407.47" font-size="6.8" text-anchor="end" fill="#3a3a3a">10</text>
<line x1="517.30" y1="405.42" x2="521.10" y2="405.42" stroke="#333" stroke-width="0.8"/>
<text x="562.52" y="496.65" font-size="6.8" text-anchor="middle" fill="#3a3a3a">10</text>
<line x1="562.52" y1="484.92" x2="562.52" y2="488.72" stroke="#333" stroke-width="0.8"/>
<text x="512.90" y="431.27" font-size="6.8" text-anchor="end" fill="#3a3a3a">15</text>
<line x1="517.30" y1="429.22" x2="521.10" y2="429.22" stroke="#333" stroke-width="0.8"/>
<text x="586.32" y="496.65" font-size="6.8" text-anchor="middle" fill="#3a3a3a">15</text>
<line x1="586.32" y1="484.92" x2="586.32" y2="488.72" stroke="#333" stroke-width="0.8"/>
<text x="512.90" y="455.07" font-size="6.8" text-anchor="end" fill="#3a3a3a">20</text>
<line x1="517.30" y1="453.02" x2="521.10" y2="453.02" stroke="#333" stroke-width="0.8"/>
<text x="610.12" y="496.65" font-size="6.8" text-anchor="middle" fill="#3a3a3a">20</text>
<line x1="610.12" y1="484.92" x2="610.12" y2="488.72" stroke="#333" stroke-width="0.8"/>
<text x="512.90" y="478.87" font-size="6.8" text-anchor="end" fill="#3a3a3a">25</text>
<line x1="517.30" y1="476.82" x2="521.10" y2="476.82" stroke="#333" stroke-width="0.8"/>
<text x="633.92" y="496.65" font-size="6.8" text-anchor="middle" fill="#3a3a3a">25</text>
<line x1="633.92" y1="484.92" x2="633.92" y2="488.72" stroke="#333" stroke-width="0.8"/>
<text x="497.81" y="426.79" font-size="7.2" text-anchor="middle" fill="#3a3a3a" textLength="22.70" lengthAdjust="spacingAndGlyphs" transform="rotate(-90 497.81 424.20)">TAD ID</text>
<text x="581.35" y="508.49" font-size="7.2" text-anchor="middle" fill="#3a3a3a" textLength="22.30" lengthAdjust="spacingAndGlyphs">TAD ID</text>
<path d="M1.95,530.90 L1.95,537.60 Q1.95,538.90 4.10,538.90" stroke="#000" stroke-width="2.3" fill="none"/>
<line x1="29.70" y1="554.10" x2="29.70" y2="681.90" stroke="#6a6a6a" stroke-width="0.8"/>
<line x1="26.20" y1="554.10" x2="29.70" y2="554.10" stroke="#6a6a6a" stroke-width="0.8"/>
<text x="22.50" y="555.80" font-size="6.4" text-anchor="end" fill="#484848">1.8</text>
<line x1="26.20" y1="579.66" x2="29.70" y2="579.66" stroke="#6a6a6a" stroke-width="0.8"/>
<text x="22.50" y="581.36" font-size="6.4" text-anchor="end" fill="#484848">1.6</text>
<line x1="26.20" y1="605.22" x2="29.70" y2="605.22" stroke="#6a6a6a" stroke-width="0.8"/>
<text x="22.50" y="606.92" font-size="6.4" text-anchor="end" fill="#484848">1.4</text>
<line x1="26.20" y1="630.78" x2="29.70" y2="630.78" stroke="#6a6a6a" stroke-width="0.8"/>
<text x="22.50" y="632.48" font-size="6.4" text-anchor="end" fill="#484848">1.2</text>
<line x1="26.20" y1="656.34" x2="29.70" y2="656.34" stroke="#6a6a6a" stroke-width="0.8"/>
<text x="22.50" y="658.04" font-size="6.4" text-anchor="end" fill="#484848">1.0</text>
<line x1="26.20" y1="681.90" x2="29.70" y2="681.90" stroke="#6a6a6a" stroke-width="0.8"/>
<text x="22.50" y="683.60" font-size="6.4" text-anchor="end" fill="#484848">0.8</text>
<line x1="29.70" y1="681.90" x2="115.60" y2="681.90" stroke="#6a6a6a" stroke-width="0.8"/>
<line x1="54.70" y1="681.90" x2="54.70" y2="685.30" stroke="#6a6a6a" stroke-width="0.8"/>
<line x1="90.90" y1="681.90" x2="90.90" y2="685.30" stroke="#6a6a6a" stroke-width="0.8"/>
<line x1="54.40" y1="568.40" x2="54.40" y2="580.90" stroke="#555" stroke-width="0.8"/>
<line x1="54.40" y1="629.10" x2="54.40" y2="670.00" stroke="#555" stroke-width="0.8"/>
<line x1="48.75" y1="568.40" x2="60.05" y2="568.40" stroke="#555" stroke-width="0.8"/>
<line x1="48.75" y1="670.00" x2="60.05" y2="670.00" stroke="#555" stroke-width="0.8"/>
<rect x="42.20" y="580.90" width="24.40" height="48.20" fill="#fff" stroke="#8a8a8a" stroke-width="0.8"/>
<line x1="42.20" y1="601.90" x2="66.60" y2="601.90" stroke="#555" stroke-width="0.8"/>
<line x1="91.10" y1="558.10" x2="91.10" y2="572.20" stroke="#c0c0c0" stroke-width="0.8"/>
<line x1="91.10" y1="617.20" x2="91.10" y2="658.10" stroke="#c0c0c0" stroke-width="0.8"/>
<line x1="85.45" y1="558.10" x2="96.75" y2="558.10" stroke="#c0c0c0" stroke-width="0.8"/>
<line x1="85.45" y1="658.10" x2="96.75" y2="658.10" stroke="#c0c0c0" stroke-width="0.8"/>
<rect x="78.80" y="572.20" width="24.60" height="45.00" fill="#f7941d" stroke="#666" stroke-width="0.8"/>
<line x1="78.80" y1="592.20" x2="103.40" y2="592.20" stroke="#444" stroke-width="0.8"/>
<text x="54.70" y="696.32" font-size="7" text-anchor="middle" fill="#3a3a3a" textLength="19.50" lengthAdjust="spacingAndGlyphs">sgCtrl</text>
<text x="90.90" y="696.32" font-size="7" text-anchor="middle" fill="#3a3a3a" textLength="30.50" lengthAdjust="spacingAndGlyphs">sgPCBP1</text>
<text x="50.00" y="553.87" font-size="6.3" fill="#3a3a3a" textLength="46.90" lengthAdjust="spacingAndGlyphs"><tspan font-style="italic">P</tspan> = 3.6 × 10<tspan font-size="4.03" dy="-3.47">−59</tspan></text>
<text x="2.79" y="620.81" font-size="7.8" text-anchor="middle" fill="#3a3a3a" textLength="84.00" lengthAdjust="spacingAndGlyphs" transform="rotate(-90 2.79 618.00)">Overall inter-TAD dis/μm</text>
<text x="135.80" y="539.90" font-size="12" font-weight="bold" fill="#000" stroke="#000" stroke-width="0.3" style="fill:#000">m</text>
<line x1="164.70" y1="552.70" x2="164.70" y2="682.30" stroke="#6a6a6a" stroke-width="0.8"/>
<line x1="161.20" y1="567.50" x2="164.70" y2="567.50" stroke="#6a6a6a" stroke-width="0.8"/>
<text x="157.10" y="569.20" font-size="6.4" text-anchor="end" fill="#484848">15</text>
<line x1="161.20" y1="603.40" x2="164.70" y2="603.40" stroke="#6a6a6a" stroke-width="0.8"/>
<text x="157.10" y="605.10" font-size="6.4" text-anchor="end" fill="#484848">10</text>
<line x1="161.20" y1="639.30" x2="164.70" y2="639.30" stroke="#6a6a6a" stroke-width="0.8"/>
<text x="157.10" y="641.00" font-size="6.4" text-anchor="end" fill="#484848">5</text>
<line x1="161.20" y1="675.20" x2="164.70" y2="675.20" stroke="#6a6a6a" stroke-width="0.8"/>
<text x="157.10" y="676.90" font-size="6.4" text-anchor="end" fill="#484848">0</text>
<line x1="164.70" y1="682.30" x2="294.30" y2="682.30" stroke="#6a6a6a" stroke-width="0.8"/>
<line x1="178.40" y1="682.30" x2="178.40" y2="685.70" stroke="#6a6a6a" stroke-width="0.8"/>
<line x1="198.40" y1="682.30" x2="198.40" y2="685.70" stroke="#6a6a6a" stroke-width="0.8"/>
<line x1="218.90" y1="682.30" x2="218.90" y2="685.70" stroke="#6a6a6a" stroke-width="0.8"/>
<line x1="239.10" y1="682.30" x2="239.10" y2="685.70" stroke="#6a6a6a" stroke-width="0.8"/>
<line x1="259.90" y1="682.30" x2="259.90" y2="685.70" stroke="#6a6a6a" stroke-width="0.8"/>
<line x1="280.10" y1="682.30" x2="280.10" y2="685.70" stroke="#6a6a6a" stroke-width="0.8"/>
<line x1="178.15" y1="581.86" x2="178.15" y2="610.58" stroke="#555" stroke-width="0.7"/>
<line x1="178.15" y1="653.66" x2="178.15" y2="660.84" stroke="#555" stroke-width="0.7"/>
<line x1="174.65" y1="581.86" x2="181.65" y2="581.86" stroke="#555" stroke-width="0.7"/>
<line x1="174.65" y1="660.84" x2="181.65" y2="660.84" stroke="#555" stroke-width="0.7"/>
<rect x="171.30" y="610.58" width="13.70" height="43.08" fill="#ec1c24" stroke="#444" stroke-width="0.7"/>
<line x1="171.30" y1="632.12" x2="185.00" y2="632.12" stroke="#333" stroke-width="0.7"/>
<line x1="198.80" y1="596.22" x2="198.80" y2="617.76" stroke="#555" stroke-width="0.7"/>
<line x1="198.80" y1="653.66" x2="198.80" y2="668.02" stroke="#555" stroke-width="0.7"/>
<line x1="195.30" y1="596.22" x2="202.30" y2="596.22" stroke="#555" stroke-width="0.7"/>
<line x1="195.30" y1="668.02" x2="202.30" y2="668.02" stroke="#555" stroke-width="0.7"/>
<rect x="191.95" y="617.76" width="13.70" height="35.90" fill="#ec1c24" stroke="#444" stroke-width="0.7"/>
<clipPath id="hcl6"><rect x="191.95" y="617.76" width="13.70" height="35.90"/></clipPath>
<path clip-path="url(#hcl6)" d="M160.05,655.66L199.95,615.76M166.75,655.66L206.65,615.76M173.45,655.66L213.35,615.76M180.15,655.66L220.05,615.76M186.85,655.66L226.75,615.76M193.55,655.66L233.45,615.76M200.25,655.66L240.15,615.76" stroke="#111" stroke-width="0.7" fill="none"/>
<rect x="191.95" y="617.76" width="13.70" height="35.90" fill="none" stroke="#444" stroke-width="0.7"/>
<line x1="191.95" y1="639.30" x2="205.65" y2="639.30" stroke="#333" stroke-width="0.7"/>
<line x1="219.15" y1="560.32" x2="219.15" y2="596.22" stroke="#c8c8c8" stroke-width="0.7"/>
<line x1="219.15" y1="653.66" x2="219.15" y2="668.02" stroke="#c8c8c8" stroke-width="0.7"/>
<line x1="215.65" y1="560.32" x2="222.65" y2="560.32" stroke="#c8c8c8" stroke-width="0.7"/>
<line x1="215.65" y1="668.02" x2="222.65" y2="668.02" stroke="#c8c8c8" stroke-width="0.7"/>
<rect x="212.30" y="596.22" width="13.70" height="57.44" fill="#8c4a98" stroke="#444" stroke-width="0.7"/>
<line x1="212.30" y1="632.12" x2="226.00" y2="632.12" stroke="#333" stroke-width="0.7"/>
<line x1="239.35" y1="581.86" x2="239.35" y2="610.58" stroke="#555" stroke-width="0.7"/>
<line x1="239.35" y1="653.66" x2="239.35" y2="668.02" stroke="#555" stroke-width="0.7"/>
<line x1="235.85" y1="581.86" x2="242.85" y2="581.86" stroke="#555" stroke-width="0.7"/>
<line x1="235.85" y1="668.02" x2="242.85" y2="668.02" stroke="#555" stroke-width="0.7"/>
<rect x="232.50" y="610.58" width="13.70" height="43.08" fill="#8c4a98" stroke="#444" stroke-width="0.7"/>
<clipPath id="hcl7"><rect x="232.50" y="610.58" width="13.70" height="43.08"/></clipPath>
<path clip-path="url(#hcl7)" d="M193.42,655.66L240.50,608.58M200.12,655.66L247.20,608.58M206.82,655.66L253.90,608.58M213.52,655.66L260.60,608.58M220.22,655.66L267.30,608.58M226.92,655.66L274.00,608.58M233.62,655.66L280.70,608.58M240.32,655.66L287.40,608.58" stroke="#111" stroke-width="0.7" fill="none"/>
<rect x="232.50" y="610.58" width="13.70" height="43.08" fill="none" stroke="#444" stroke-width="0.7"/>
<line x1="232.50" y1="639.30" x2="246.20" y2="639.30" stroke="#333" stroke-width="0.7"/>
<line x1="259.85" y1="639.30" x2="259.85" y2="653.66" stroke="#555" stroke-width="0.7"/>
<line x1="259.85" y1="668.02" x2="259.85" y2="675.20" stroke="#555" stroke-width="0.7"/>
<line x1="256.35" y1="639.30" x2="263.35" y2="639.30" stroke="#555" stroke-width="0.7"/>
<line x1="256.35" y1="675.20" x2="263.35" y2="675.20" stroke="#555" stroke-width="0.7"/>
<rect x="253.00" y="653.66" width="13.70" height="14.36" fill="#1f75bc" stroke="#444" stroke-width="0.7"/>
<line x1="253.00" y1="660.12" x2="266.70" y2="660.12" stroke="#333" stroke-width="0.7"/>
<line x1="280.10" y1="639.30" x2="280.10" y2="653.66" stroke="#777" stroke-width="0.7"/>
<line x1="280.10" y1="668.02" x2="280.10" y2="675.20" stroke="#777" stroke-width="0.7"/>
<line x1="276.60" y1="639.30" x2="283.60" y2="639.30" stroke="#777" stroke-width="0.7"/>
<line x1="276.60" y1="675.20" x2="283.60" y2="675.20" stroke="#777" stroke-width="0.7"/>
<rect x="273.25" y="653.66" width="13.70" height="14.36" fill="#1f75bc" stroke="#444" stroke-width="0.7"/>
<clipPath id="hcl8"><rect x="273.25" y="653.66" width="13.70" height="14.36"/></clipPath>
<path clip-path="url(#hcl8)" d="M262.89,670.02L281.25,651.66M269.59,670.02L287.95,651.66M276.29,670.02L294.65,651.66M282.99,670.02L301.35,651.66" stroke="#111" stroke-width="0.7" fill="none"/>
<rect x="273.25" y="653.66" width="13.70" height="14.36" fill="none" stroke="#444" stroke-width="0.7"/>
<line x1="273.25" y1="660.84" x2="286.95" y2="660.84" stroke="#333" stroke-width="0.7"/>
<rect x="173.30" y="546.00" width="31.60" height="2.60" fill="#ec1c24"/>
<rect x="213.70" y="546.00" width="31.70" height="2.60" fill="#8c4a98"/>
<rect x="255.30" y="546.00" width="31.60" height="2.60" fill="#1f75bc"/>
<text x="189.00" y="543.98" font-size="6.6" text-anchor="middle" fill="#3a3a3a">A–A</text>
<text x="229.40" y="543.98" font-size="6.6" text-anchor="middle" fill="#3a3a3a">A–B</text>
<text x="271.60" y="543.98" font-size="6.6" text-anchor="middle" fill="#3a3a3a">B–B</text>
<text x="168.50" y="573.58" font-size="6.6" fill="#3a3a3a" textLength="46.10" lengthAdjust="spacingAndGlyphs">P = 8.8 × 10<tspan font-size="4.22" dy="-3.63">−34</tspan></text>
<text x="209.70" y="556.78" font-size="6.6" fill="#3a3a3a" textLength="45.60" lengthAdjust="spacingAndGlyphs">P = 2.0 × 10<tspan font-size="4.22" dy="-3.63">−29</tspan></text>
<text x="256.20" y="634.95" font-size="6.8" fill="#3a3a3a" textLength="28.50" lengthAdjust="spacingAndGlyphs"><tspan font-style="italic">P</tspan> = 0.93</text>
<text x="139.69" y="620.06" font-size="7.8" text-anchor="middle" fill="#3a3a3a" textLength="103.50" lengthAdjust="spacingAndGlyphs" transform="rotate(-90 139.69 617.25)">Long-range contact frequency</text>
<text x="181.40" y="694.80" font-size="7.3" text-anchor="end" fill="#3a3a3a" textLength="19.57" lengthAdjust="spacingAndGlyphs" transform="rotate(-45 181.40 694.80)">sgCtrl</text>
<text x="201.40" y="694.80" font-size="7.3" text-anchor="end" fill="#3a3a3a" textLength="31.93" lengthAdjust="spacingAndGlyphs" transform="rotate(-45 201.40 694.80)">sgPCBP1</text>
<text x="221.90" y="694.80" font-size="7.3" text-anchor="end" fill="#3a3a3a" textLength="19.57" lengthAdjust="spacingAndGlyphs" transform="rotate(-45 221.90 694.80)">sgCtrl</text>
<text x="242.10" y="694.80" font-size="7.3" text-anchor="end" fill="#3a3a3a" textLength="31.93" lengthAdjust="spacingAndGlyphs" transform="rotate(-45 242.10 694.80)">sgPCBP1</text>
<text x="262.90" y="694.80" font-size="7.3" text-anchor="end" fill="#3a3a3a" textLength="19.57" lengthAdjust="spacingAndGlyphs" transform="rotate(-45 262.90 694.80)">sgCtrl</text>
<text x="283.10" y="694.80" font-size="7.3" text-anchor="end" fill="#3a3a3a" textLength="31.93" lengthAdjust="spacingAndGlyphs" transform="rotate(-45 283.10 694.80)">sgPCBP1</text>
<text x="312.25" y="538.65" font-size="12" font-weight="bold" fill="#000" stroke="#000" stroke-width="0.3" style="fill:#000">n</text>
<text x="407.35" y="549.89" font-size="7.2" text-anchor="middle" fill="#3a3a3a" textLength="54.90" lengthAdjust="spacingAndGlyphs">sgZNF114/sgCtrl</text>
<clipPath id="hclip3"><rect x="334.60" y="554.30" width="127.85" height="128.12"/></clipPath>
<g clip-path="url(#hclip3)">
<rect x="334.60" y="554.30" width="5.74" height="5.75" fill="#ffffff"/>
<rect x="339.34" y="554.30" width="5.74" height="5.75" fill="#e4e4f2"/>
<rect x="344.07" y="554.30" width="5.74" height="5.75" fill="#c8c8e6"/>
<rect x="348.81" y="554.30" width="5.74" height="5.75" fill="#a9abd9"/>
<rect x="353.54" y="554.30" width="5.74" height="5.75" fill="#fbe1e1"/>
<rect x="358.28" y="554.30" width="5.74" height="5.75" fill="#f6bcbc"/>
<rect x="363.01" y="554.30" width="5.74" height="5.75" fill="#f18a8a"/>
<rect x="367.75" y="554.30" width="5.74" height="5.75" fill="#e8323a"/>
<rect x="372.48" y="554.30" width="5.74" height="5.75" fill="#e8323a"/>
<rect x="377.22" y="554.30" width="5.74" height="5.75" fill="#f18a8a"/>
<rect x="381.95" y="554.30" width="5.74" height="5.75" fill="#f6bcbc"/>
<rect x="386.69" y="554.30" width="5.74" height="5.75" fill="#fbe1e1"/>
<rect x="391.42" y="554.30" width="5.74" height="5.75" fill="#f6bcbc"/>
<rect x="396.16" y="554.30" width="5.74" height="5.75" fill="#f18a8a"/>
<rect x="400.89" y="554.30" width="5.74" height="5.75" fill="#f6bcbc"/>
<rect x="405.62" y="554.30" width="5.74" height="5.75" fill="#f6bcbc"/>
<rect x="410.36" y="554.30" width="5.74" height="5.75" fill="#fbe1e1"/>
<rect x="415.10" y="554.30" width="5.74" height="5.75" fill="#fbe1e1"/>
<rect x="419.83" y="554.30" width="5.74" height="5.75" fill="#f6bcbc"/>
<rect x="424.57" y="554.30" width="5.74" height="5.75" fill="#f6bcbc"/>
<rect x="429.30" y="554.30" width="5.74" height="5.75" fill="#fbe1e1"/>
<rect x="434.04" y="554.30" width="5.74" height="5.75" fill="#fbe1e1"/>
<rect x="438.77" y="554.30" width="5.74" height="5.75" fill="#f6bcbc"/>
<rect x="443.50" y="554.30" width="5.74" height="5.75" fill="#f6bcbc"/>
<rect x="448.24" y="554.30" width="5.74" height="5.75" fill="#fbe1e1"/>
<rect x="452.98" y="554.30" width="5.74" height="5.75" fill="#fbe1e1"/>
<rect x="457.71" y="554.30" width="5.74" height="5.75" fill="#fbe1e1"/>
<rect x="334.60" y="559.04" width="5.74" height="5.75" fill="#c8c8e6"/>
<rect x="339.34" y="559.04" width="5.74" height="5.75" fill="#ffffff"/>
<rect x="344.07" y="559.04" width="5.74" height="5.75" fill="#c8c8e6"/>
<rect x="348.81" y="559.04" width="5.74" height="5.75" fill="#c8c8e6"/>
<rect x="353.54" y="559.04" width="5.74" height="5.75" fill="#f6bcbc"/>
<rect x="358.28" y="559.04" width="5.74" height="5.75" fill="#e8323a"/>
<rect x="363.01" y="559.04" width="5.74" height="5.75" fill="#e8323a"/>
<rect x="367.75" y="559.04" width="5.74" height="5.75" fill="#b81c22"/>
<rect x="372.48" y="559.04" width="5.74" height="5.75" fill="#b81c22"/>
<rect x="377.22" y="559.04" width="5.74" height="5.75" fill="#e8323a"/>
<rect x="381.95" y="559.04" width="5.74" height="5.75" fill="#e8323a"/>
<rect x="386.69" y="559.04" width="5.74" height="5.75" fill="#f18a8a"/>
<rect x="391.42" y="559.04" width="5.74" height="5.75" fill="#f18a8a"/>
<rect x="396.16" y="559.04" width="5.74" height="5.75" fill="#e8323a"/>
<rect x="400.89" y="559.04" width="5.74" height="5.75" fill="#f6bcbc"/>
<rect x="405.62" y="559.04" width="5.74" height="5.75" fill="#f18a8a"/>
<rect x="410.36" y="559.04" width="5.74" height="5.75" fill="#f18a8a"/>
<rect x="415.10" y="559.04" width="5.74" height="5.75" fill="#f18a8a"/>
<rect x="419.83" y="559.04" width="5.74" height="5.75" fill="#f6bcbc"/>
<rect x="424.57" y="559.04" width="5.74" height="5.75" fill="#f18a8a"/>
<rect x="429.30" y="559.04" width="5.74" height="5.75" fill="#f18a8a"/>
<rect x="434.04" y="559.04" width="5.74" height="5.75" fill="#f18a8a"/>
<rect x="438.77" y="559.04" width="5.74" height="5.75" fill="#f6bcbc"/>
<rect x="443.50" y="559.04" width="5.74" height="5.75" fill="#f18a8a"/>
<rect x="448.24" y="559.04" width="5.74" height="5.75" fill="#fbe1e1"/>
<rect x="452.98" y="559.04" width="5.74" height="5.75" fill="#f6bcbc"/>
<rect x="457.71" y="559.04" width="5.74" height="5.75" fill="#f6bcbc"/>
<rect x="334.60" y="563.79" width="5.74" height="5.75" fill="#c8c8e6"/>
<rect x="339.34" y="563.79" width="5.74" height="5.75" fill="#c8c8e6"/>
<rect x="344.07" y="563.79" width="5.74" height="5.75" fill="#ffffff"/>
<rect x="348.81" y="563.79" width="5.74" height="5.75" fill="#f18a8a"/>
<rect x="353.54" y="563.79" width="5.74" height="5.75" fill="#b81c22"/>
<rect x="358.28" y="563.79" width="5.74" height="5.75" fill="#b81c22"/>
<rect x="363.01" y="563.79" width="5.74" height="5.75" fill="#e8323a"/>
<rect x="367.75" y="563.79" width="5.74" height="5.75" fill="#7e1116"/>
<rect x="372.48" y="563.79" width="5.74" height="5.75" fill="#7e1116"/>
<rect x="377.22" y="563.79" width="5.74" height="5.75" fill="#b81c22"/>
<rect x="381.95" y="563.79" width="5.74" height="5.75" fill="#e8323a"/>
<rect x="386.69" y="563.79" width="5.74" height="5.75" fill="#e8323a"/>
<rect x="391.42" y="563.79" width="5.74" height="5.75" fill="#e8323a"/>
<rect x="396.16" y="563.79" width="5.74" height="5.75" fill="#b81c22"/>
<rect x="400.89" y="563.79" width="5.74" height="5.75" fill="#f18a8a"/>
<rect x="405.62" y="563.79" width="5.74" height="5.75" fill="#e8323a"/>
<rect x="410.36" y="563.79" width="5.74" height="5.75" fill="#f18a8a"/>
<rect x="415.10" y="563.79" width="5.74" height="5.75" fill="#f18a8a"/>
<rect x="419.83" y="563.79" width="5.74" height="5.75" fill="#f6bcbc"/>
<rect x="424.57" y="563.79" width="5.74" height="5.75" fill="#f18a8a"/>
<rect x="429.30" y="563.79" width="5.74" height="5.75" fill="#e8323a"/>
<rect x="434.04" y="563.79" width="5.74" height="5.75" fill="#e8323a"/>
<rect x="438.77" y="563.79" width="5.74" height="5.75" fill="#f18a8a"/>
<rect x="443.50" y="563.79" width="5.74" height="5.75" fill="#e8323a"/>
<rect x="448.24" y="563.79" width="5.74" height="5.75" fill="#f6bcbc"/>
<rect x="452.98" y="563.79" width="5.74" height="5.75" fill="#f18a8a"/>
<rect x="457.71" y="563.79" width="5.74" height="5.75" fill="#f6bcbc"/>
<rect x="334.60" y="568.53" width="5.74" height="5.75" fill="#a9abd9"/>
<rect x="339.34" y="568.53" width="5.74" height="5.75" fill="#c8c8e6"/>
<rect x="344.07" y="568.53" width="5.74" height="5.75" fill="#f18a8a"/>
<rect x="348.81" y="568.53" width="5.74" height="5.75" fill="#ffffff"/>
<rect x="353.54" y="568.53" width="5.74" height="5.75" fill="#7e1116"/>
<rect x="358.28" y="568.53" width="5.74" height="5.75" fill="#b81c22"/>
<rect x="363.01" y="568.53" width="5.74" height="5.75" fill="#e8323a"/>
<rect x="367.75" y="568.53" width="5.74" height="5.75" fill="#7e1116"/>
<rect x="372.48" y="568.53" width="5.74" height="5.75" fill="#7e1116"/>
<rect x="377.22" y="568.53" width="5.74" height="5.75" fill="#b81c22"/>
<rect x="381.95" y="568.53" width="5.74" height="5.75" fill="#e8323a"/>
<rect x="386.69" y="568.53" width="5.74" height="5.75" fill="#e8323a"/>
<rect x="391.42" y="568.53" width="5.74" height="5.75" fill="#e8323a"/>
<rect x="396.16" y="568.53" width="5.74" height="5.75" fill="#7e1116"/>
<rect x="400.89" y="568.53" width="5.74" height="5.75" fill="#f18a8a"/>
<rect x="405.62" y="568.53" width="5.74" height="5.75" fill="#f18a8a"/>
<rect x="410.36" y="568.53" width="5.74" height="5.75" fill="#f18a8a"/>
<rect x="415.10" y="568.53" width="5.74" height="5.75" fill="#f6bcbc"/>
<rect x="419.83" y="568.53" width="5.74" height="5.75" fill="#f6bcbc"/>
<rect x="424.57" y="568.53" width="5.74" height="5.75" fill="#f18a8a"/>
<rect x="429.30" y="568.53" width="5.74" height="5.75" fill="#e8323a"/>
<rect x="434.04" y="568.53" width="5.74" height="5.75" fill="#e8323a"/>
<rect x="438.77" y="568.53" width="5.74" height="5.75" fill="#f18a8a"/>
<rect x="443.50" y="568.53" width="5.74" height="5.75" fill="#f18a8a"/>
<rect x="448.24" y="568.53" width="5.74" height="5.75" fill="#fbe1e1"/>
<rect x="452.98" y="568.53" width="5.74" height="5.75" fill="#f18a8a"/>
<rect x="457.71" y="568.53" width="5.74" height="5.75" fill="#f6bcbc"/>
<rect x="334.60" y="573.28" width="5.74" height="5.75" fill="#fbe1e1"/>
<rect x="339.34" y="573.28" width="5.74" height="5.75" fill="#f6bcbc"/>
<rect x="344.07" y="573.28" width="5.74" height="5.75" fill="#e8323a"/>
<rect x="348.81" y="573.28" width="5.74" height="5.75" fill="#b81c22"/>
<rect x="353.54" y="573.28" width="5.74" height="5.75" fill="#ffffff"/>
<rect x="358.28" y="573.28" width="5.74" height="5.75" fill="#7e1116"/>
<rect x="363.01" y="573.28" width="5.74" height="5.75" fill="#e8323a"/>
<rect x="367.75" y="573.28" width="5.74" height="5.75" fill="#7e1116"/>
<rect x="372.48" y="573.28" width="5.74" height="5.75" fill="#7e1116"/>
<rect x="377.22" y="573.28" width="5.74" height="5.75" fill="#b81c22"/>
<rect x="381.95" y="573.28" width="5.74" height="5.75" fill="#e8323a"/>
<rect x="386.69" y="573.28" width="5.74" height="5.75" fill="#e8323a"/>
<rect x="391.42" y="573.28" width="5.74" height="5.75" fill="#e8323a"/>
<rect x="396.16" y="573.28" width="5.74" height="5.75" fill="#b81c22"/>
<rect x="400.89" y="573.28" width="5.74" height="5.75" fill="#f6bcbc"/>
<rect x="405.62" y="573.28" width="5.74" height="5.75" fill="#f6bcbc"/>
<rect x="410.36" y="573.28" width="5.74" height="5.75" fill="#f6bcbc"/>
<rect x="415.10" y="573.28" width="5.74" height="5.75" fill="#fbe1e1"/>
<rect x="419.83" y="573.28" width="5.74" height="5.75" fill="#fbe1e1"/>
<rect x="424.57" y="573.28" width="5.74" height="5.75" fill="#f18a8a"/>
<rect x="429.30" y="573.28" width="5.74" height="5.75" fill="#e8323a"/>
<rect x="434.04" y="573.28" width="5.74" height="5.75" fill="#e8323a"/>
<rect x="438.77" y="573.28" width="5.74" height="5.75" fill="#f18a8a"/>
<rect x="443.50" y="573.28" width="5.74" height="5.75" fill="#f18a8a"/>
<rect x="448.24" y="573.28" width="5.74" height="5.75" fill="#fbe1e1"/>
<rect x="452.98" y="573.28" width="5.74" height="5.75" fill="#f18a8a"/>
<rect x="457.71" y="573.28" width="5.74" height="5.75" fill="#f6bcbc"/>
<rect x="334.60" y="578.02" width="5.74" height="5.75" fill="#f6bcbc"/>
<rect x="339.34" y="578.02" width="5.74" height="5.75" fill="#e8323a"/>
<rect x="344.07" y="578.02" width="5.74" height="5.75" fill="#b81c22"/>
<rect x="348.81" y="578.02" width="5.74" height="5.75" fill="#b81c22"/>
<rect x="353.54" y="578.02" width="5.74" height="5.75" fill="#7e1116"/>
<rect x="358.28" y="578.02" width="5.74" height="5.75" fill="#ffffff"/>
<rect x="363.01" y="578.02" width="5.74" height="5.75" fill="#f18a8a"/>
<rect x="367.75" y="578.02" width="5.74" height="5.75" fill="#b81c22"/>
<rect x="372.48" y="578.02" width="5.74" height="5.75" fill="#b81c22"/>
<rect x="377.22" y="578.02" width="5.74" height="5.75" fill="#e8323a"/>
<rect x="381.95" y="578.02" width="5.74" height="5.75" fill="#e8323a"/>
<rect x="386.69" y="578.02" width="5.74" height="5.75" fill="#e8323a"/>
<rect x="391.42" y="578.02" width="5.74" height="5.75" fill="#e8323a"/>
<rect x="396.16" y="578.02" width="5.74" height="5.75" fill="#b81c22"/>
<rect x="400.89" y="578.02" width="5.74" height="5.75" fill="#f6bcbc"/>
<rect x="405.62" y="578.02" width="5.74" height="5.75" fill="#f6bcbc"/>
<rect x="410.36" y="578.02" width="5.74" height="5.75" fill="#f6bcbc"/>
<rect x="415.10" y="578.02" width="5.74" height="5.75" fill="#fbe1e1"/>
<rect x="419.83" y="578.02" width="5.74" height="5.75" fill="#fbe1e1"/>
<rect x="424.57" y="578.02" width="5.74" height="5.75" fill="#f6bcbc"/>
<rect x="429.30" y="578.02" width="5.74" height="5.75" fill="#f18a8a"/>
<rect x="434.04" y="578.02" width="5.74" height="5.75" fill="#f18a8a"/>
<rect x="438.77" y="578.02" width="5.74" height="5.75" fill="#f18a8a"/>
<rect x="443.50" y="578.02" width="5.74" height="5.75" fill="#f18a8a"/>
<rect x="448.24" y="578.02" width="5.74" height="5.75" fill="#f18a8a"/>
<rect x="452.98" y="578.02" width="5.74" height="5.75" fill="#f18a8a"/>
<rect x="457.71" y="578.02" width="5.74" height="5.75" fill="#f6bcbc"/>
<rect x="334.60" y="582.77" width="5.74" height="5.75" fill="#f6bcbc"/>
<rect x="339.34" y="582.77" width="5.74" height="5.75" fill="#e8323a"/>
<rect x="344.07" y="582.77" width="5.74" height="5.75" fill="#e8323a"/>
<rect x="348.81" y="582.77" width="5.74" height="5.75" fill="#e8323a"/>
<rect x="353.54" y="582.77" width="5.74" height="5.75" fill="#e8323a"/>
<rect x="358.28" y="582.77" width="5.74" height="5.75" fill="#f18a8a"/>
<rect x="363.01" y="582.77" width="5.74" height="5.75" fill="#ffffff"/>
<rect x="367.75" y="582.77" width="5.74" height="5.75" fill="#4a58ad"/>
<rect x="372.48" y="582.77" width="5.74" height="5.75" fill="#6a72bb"/>
<rect x="377.22" y="582.77" width="5.74" height="5.75" fill="#fbe1e1"/>
<rect x="381.95" y="582.77" width="5.74" height="5.75" fill="#f18a8a"/>
<rect x="386.69" y="582.77" width="5.74" height="5.75" fill="#f18a8a"/>
<rect x="391.42" y="582.77" width="5.74" height="5.75" fill="#e8323a"/>
<rect x="396.16" y="582.77" width="5.74" height="5.75" fill="#e8323a"/>
<rect x="400.89" y="582.77" width="5.74" height="5.75" fill="#fbe1e1"/>
<rect x="405.62" y="582.77" width="5.74" height="5.75" fill="#fbe1e1"/>
<rect x="410.36" y="582.77" width="5.74" height="5.75" fill="#fbe1e1"/>
<rect x="415.10" y="582.77" width="5.74" height="5.75" fill="#fbe1e1"/>
<rect x="419.83" y="582.77" width="5.74" height="5.75" fill="#fbe1e1"/>
<rect x="424.57" y="582.77" width="5.74" height="5.75" fill="#fbe1e1"/>
<rect x="429.30" y="582.77" width="5.74" height="5.75" fill="#f6bcbc"/>
<rect x="434.04" y="582.77" width="5.74" height="5.75" fill="#f6bcbc"/>
<rect x="438.77" y="582.77" width="5.74" height="5.75" fill="#f6bcbc"/>
<rect x="443.50" y="582.77" width="5.74" height="5.75" fill="#f18a8a"/>
<rect x="448.24" y="582.77" width="5.74" height="5.75" fill="#f18a8a"/>
<rect x="452.98" y="582.77" width="5.74" height="5.75" fill="#e8323a"/>
<rect x="457.71" y="582.77" width="5.74" height="5.75" fill="#f6bcbc"/>
<rect x="334.60" y="587.51" width="5.74" height="5.75" fill="#e8323a"/>
<rect x="339.34" y="587.51" width="5.74" height="5.75" fill="#b81c22"/>
<rect x="344.07" y="587.51" width="5.74" height="5.75" fill="#7e1116"/>
<rect x="348.81" y="587.51" width="5.74" height="5.75" fill="#7e1116"/>
<rect x="353.54" y="587.51" width="5.74" height="5.75" fill="#7e1116"/>
<rect x="358.28" y="587.51" width="5.74" height="5.75" fill="#b81c22"/>
<rect x="363.01" y="587.51" width="5.74" height="5.75" fill="#4a58ad"/>
<rect x="367.75" y="587.51" width="5.74" height="5.75" fill="#ffffff"/>
<rect x="372.48" y="587.51" width="5.74" height="5.75" fill="#7e1116"/>
<rect x="377.22" y="587.51" width="5.74" height="5.75" fill="#e4e4f2"/>
<rect x="381.95" y="587.51" width="5.74" height="5.75" fill="#fbe1e1"/>
<rect x="386.69" y="587.51" width="5.74" height="5.75" fill="#f18a8a"/>
<rect x="391.42" y="587.51" width="5.74" height="5.75" fill="#e8323a"/>
<rect x="396.16" y="587.51" width="5.74" height="5.75" fill="#b81c22"/>
<rect x="400.89" y="587.51" width="5.74" height="5.75" fill="#f6bcbc"/>
<rect x="405.62" y="587.51" width="5.74" height="5.75" fill="#f18a8a"/>
<rect x="410.36" y="587.51" width="5.74" height="5.75" fill="#f18a8a"/>
<rect x="415.10" y="587.51" width="5.74" height="5.75" fill="#f6bcbc"/>
<rect x="419.83" y="587.51" width="5.74" height="5.75" fill="#f6bcbc"/>
<rect x="424.57" y="587.51" width="5.74" height="5.75" fill="#f18a8a"/>
<rect x="429.30" y="587.51" width="5.74" height="5.75" fill="#f18a8a"/>
<rect x="434.04" y="587.51" width="5.74" height="5.75" fill="#f18a8a"/>
<rect x="438.77" y="587.51" width="5.74" height="5.75" fill="#f18a8a"/>
<rect x="443.50" y="587.51" width="5.74" height="5.75" fill="#f6bcbc"/>
<rect x="448.24" y="587.51" width="5.74" height="5.75" fill="#fbe1e1"/>
<rect x="452.98" y="587.51" width="5.74" height="5.75" fill="#f6bcbc"/>
<rect x="457.71" y="587.51" width="5.74" height="5.75" fill="#f6bcbc"/>
<rect x="334.60" y="592.26" width="5.74" height="5.75" fill="#e8323a"/>
<rect x="339.34" y="592.26" width="5.74" height="5.75" fill="#b81c22"/>
<rect x="344.07" y="592.26" width="5.74" height="5.75" fill="#7e1116"/>
<rect x="348.81" y="592.26" width="5.74" height="5.75" fill="#7e1116"/>
<rect x="353.54" y="592.26" width="5.74" height="5.75" fill="#7e1116"/>
<rect x="358.28" y="592.26" width="5.74" height="5.75" fill="#b81c22"/>
<rect x="363.01" y="592.26" width="5.74" height="5.75" fill="#4a58ad"/>
<rect x="367.75" y="592.26" width="5.74" height="5.75" fill="#7e1116"/>
<rect x="372.48" y="592.26" width="5.74" height="5.75" fill="#ffffff"/>
<rect x="377.22" y="592.26" width="5.74" height="5.75" fill="#8a8ec9"/>
<rect x="381.95" y="592.26" width="5.74" height="5.75" fill="#ffffff"/>
<rect x="386.69" y="592.26" width="5.74" height="5.75" fill="#f6bcbc"/>
<rect x="391.42" y="592.26" width="5.74" height="5.75" fill="#e8323a"/>
<rect x="396.16" y="592.26" width="5.74" height="5.75" fill="#b81c22"/>
<rect x="400.89" y="592.26" width="5.74" height="5.75" fill="#f6bcbc"/>
<rect x="405.62" y="592.26" width="5.74" height="5.75" fill="#f18a8a"/>
<rect x="410.36" y="592.26" width="5.74" height="5.75" fill="#f18a8a"/>
<rect x="415.10" y="592.26" width="5.74" height="5.75" fill="#f6bcbc"/>
<rect x="419.83" y="592.26" width="5.74" height="5.75" fill="#fbe1e1"/>
<rect x="424.57" y="592.26" width="5.74" height="5.75" fill="#f6bcbc"/>
<rect x="429.30" y="592.26" width="5.74" height="5.75" fill="#f18a8a"/>
<rect x="434.04" y="592.26" width="5.74" height="5.75" fill="#f18a8a"/>
<rect x="438.77" y="592.26" width="5.74" height="5.75" fill="#f18a8a"/>
<rect x="443.50" y="592.26" width="5.74" height="5.75" fill="#f18a8a"/>
<rect x="448.24" y="592.26" width="5.74" height="5.75" fill="#f6bcbc"/>
<rect x="452.98" y="592.26" width="5.74" height="5.75" fill="#f18a8a"/>
<rect x="457.71" y="592.26" width="5.74" height="5.75" fill="#f6bcbc"/>
<rect x="334.60" y="597.00" width="5.74" height="5.75" fill="#f18a8a"/>
<rect x="339.34" y="597.00" width="5.74" height="5.75" fill="#e8323a"/>
<rect x="344.07" y="597.00" width="5.74" height="5.75" fill="#b81c22"/>
<rect x="348.81" y="597.00" width="5.74" height="5.75" fill="#b81c22"/>
<rect x="353.54" y="597.00" width="5.74" height="5.75" fill="#b81c22"/>
<rect x="358.28" y="597.00" width="5.74" height="5.75" fill="#e8323a"/>
<rect x="363.01" y="597.00" width="5.74" height="5.75" fill="#fbe1e1"/>
<rect x="367.75" y="597.00" width="5.74" height="5.75" fill="#e4e4f2"/>
<rect x="372.48" y="597.00" width="5.74" height="5.75" fill="#8a8ec9"/>
<rect x="377.22" y="597.00" width="5.74" height="5.75" fill="#ffffff"/>
<rect x="381.95" y="597.00" width="5.74" height="5.75" fill="#fbe1e1"/>
<rect x="386.69" y="597.00" width="5.74" height="5.75" fill="#f18a8a"/>
<rect x="391.42" y="597.00" width="5.74" height="5.75" fill="#e8323a"/>
<rect x="396.16" y="597.00" width="5.74" height="5.75" fill="#e8323a"/>
<rect x="400.89" y="597.00" width="5.74" height="5.75" fill="#fbe1e1"/>
<rect x="405.62" y="597.00" width="5.74" height="5.75" fill="#fbe1e1"/>
<rect x="410.36" y="597.00" width="5.74" height="5.75" fill="#fbe1e1"/>
<rect x="415.10" y="597.00" width="5.74" height="5.75" fill="#fbe1e1"/>
<rect x="419.83" y="597.00" width="5.74" height="5.75" fill="#ffffff"/>
<rect x="424.57" y="597.00" width="5.74" height="5.75" fill="#f6bcbc"/>
<rect x="429.30" y="597.00" width="5.74" height="5.75" fill="#f18a8a"/>
<rect x="434.04" y="597.00" width="5.74" height="5.75" fill="#f18a8a"/>
<rect x="438.77" y="597.00" width="5.74" height="5.75" fill="#f18a8a"/>
<rect x="443.50" y="597.00" width="5.74" height="5.75" fill="#f18a8a"/>
<rect x="448.24" y="597.00" width="5.74" height="5.75" fill="#f18a8a"/>
<rect x="452.98" y="597.00" width="5.74" height="5.75" fill="#f18a8a"/>
<rect x="457.71" y="597.00" width="5.74" height="5.75" fill="#f6bcbc"/>
<rect x="334.60" y="601.75" width="5.74" height="5.75" fill="#f6bcbc"/>
<rect x="339.34" y="601.75" width="5.74" height="5.75" fill="#e8323a"/>
<rect x="344.07" y="601.75" width="5.74" height="5.75" fill="#e8323a"/>
<rect x="348.81" y="601.75" width="5.74" height="5.75" fill="#e8323a"/>
<rect x="353.54" y="601.75" width="5.74" height="5.75" fill="#e8323a"/>
<rect x="358.28" y="601.75" width="5.74" height="5.75" fill="#e8323a"/>
<rect x="363.01" y="601.75" width="5.74" height="5.75" fill="#f18a8a"/>
<rect x="367.75" y="601.75" width="5.74" height="5.75" fill="#fbe1e1"/>
<rect x="372.48" y="601.75" width="5.74" height="5.75" fill="#ffffff"/>
<rect x="377.22" y="601.75" width="5.74" height="5.75" fill="#fbe1e1"/>
<rect x="381.95" y="601.75" width="5.74" height="5.75" fill="#ffffff"/>
<rect x="386.69" y="601.75" width="5.74" height="5.75" fill="#f6bcbc"/>
<rect x="391.42" y="601.75" width="5.74" height="5.75" fill="#f18a8a"/>
<rect x="396.16" y="601.75" width="5.74" height="5.75" fill="#e8323a"/>
<rect x="400.89" y="601.75" width="5.74" height="5.75" fill="#ffffff"/>
<rect x="405.62" y="601.75" width="5.74" height="5.75" fill="#e4e4f2"/>
<rect x="410.36" y="601.75" width="5.74" height="5.75" fill="#ffffff"/>
<rect x="415.10" y="601.75" width="5.74" height="5.75" fill="#ffffff"/>
<rect x="419.83" y="601.75" width="5.74" height="5.75" fill="#e4e4f2"/>
<rect x="424.57" y="601.75" width="5.74" height="5.75" fill="#fbe1e1"/>
<rect x="429.30" y="601.75" width="5.74" height="5.75" fill="#f6bcbc"/>
<rect x="434.04" y="601.75" width="5.74" height="5.75" fill="#f6bcbc"/>
<rect x="438.77" y="601.75" width="5.74" height="5.75" fill="#f6bcbc"/>
<rect x="443.50" y="601.75" width="5.74" height="5.75" fill="#f18a8a"/>
<rect x="448.24" y="601.75" width="5.74" height="5.75" fill="#f6bcbc"/>
<rect x="452.98" y="601.75" width="5.74" height="5.75" fill="#f18a8a"/>
<rect x="457.71" y="601.75" width="5.74" height="5.75" fill="#fbe1e1"/>
<rect x="334.60" y="606.50" width="5.74" height="5.75" fill="#f6bcbc"/>
<rect x="339.34" y="606.50" width="5.74" height="5.75" fill="#f18a8a"/>
<rect x="344.07" y="606.50" width="5.74" height="5.75" fill="#e8323a"/>
<rect x="348.81" y="606.50" width="5.74" height="5.75" fill="#e8323a"/>
<rect x="353.54" y="606.50" width="5.74" height="5.75" fill="#e8323a"/>
<rect x="358.28" y="606.50" width="5.74" height="5.75" fill="#e8323a"/>
<rect x="363.01" y="606.50" width="5.74" height="5.75" fill="#f18a8a"/>
<rect x="367.75" y="606.50" width="5.74" height="5.75" fill="#f18a8a"/>
<rect x="372.48" y="606.50" width="5.74" height="5.75" fill="#f6bcbc"/>
<rect x="377.22" y="606.50" width="5.74" height="5.75" fill="#f18a8a"/>
<rect x="381.95" y="606.50" width="5.74" height="5.75" fill="#f6bcbc"/>
<rect x="386.69" y="606.50" width="5.74" height="5.75" fill="#ffffff"/>
<rect x="391.42" y="606.50" width="5.74" height="5.75" fill="#f6bcbc"/>
<rect x="396.16" y="606.50" width="5.74" height="5.75" fill="#f18a8a"/>
<rect x="400.89" y="606.50" width="5.74" height="5.75" fill="#8a8ec9"/>
<rect x="405.62" y="606.50" width="5.74" height="5.75" fill="#e4e4f2"/>
<rect x="410.36" y="606.50" width="5.74" height="5.75" fill="#fbe1e1"/>
<rect x="415.10" y="606.50" width="5.74" height="5.75" fill="#f6bcbc"/>
<rect x="419.83" y="606.50" width="5.74" height="5.75" fill="#f6bcbc"/>
<rect x="424.57" y="606.50" width="5.74" height="5.75" fill="#f6bcbc"/>
<rect x="429.30" y="606.50" width="5.74" height="5.75" fill="#f18a8a"/>
<rect x="434.04" y="606.50" width="5.74" height="5.75" fill="#f18a8a"/>
<rect x="438.77" y="606.50" width="5.74" height="5.75" fill="#f6bcbc"/>
<rect x="443.50" y="606.50" width="5.74" height="5.75" fill="#f18a8a"/>
<rect x="448.24" y="606.50" width="5.74" height="5.75" fill="#f6bcbc"/>
<rect x="452.98" y="606.50" width="5.74" height="5.75" fill="#f6bcbc"/>
<rect x="457.71" y="606.50" width="5.74" height="5.75" fill="#fbe1e1"/>
<rect x="334.60" y="611.24" width="5.74" height="5.75" fill="#f6bcbc"/>
<rect x="339.34" y="611.24" width="5.74" height="5.75" fill="#f18a8a"/>
<rect x="344.07" y="611.24" width="5.74" height="5.75" fill="#e8323a"/>
<rect x="348.81" y="611.24" width="5.74" height="5.75" fill="#e8323a"/>
<rect x="353.54" y="611.24" width="5.74" height="5.75" fill="#e8323a"/>
<rect x="358.28" y="611.24" width="5.74" height="5.75" fill="#e8323a"/>
<rect x="363.01" y="611.24" width="5.74" height="5.75" fill="#e8323a"/>
<rect x="367.75" y="611.24" width="5.74" height="5.75" fill="#e8323a"/>
<rect x="372.48" y="611.24" width="5.74" height="5.75" fill="#e8323a"/>
<rect x="377.22" y="611.24" width="5.74" height="5.75" fill="#f18a8a"/>
<rect x="381.95" y="611.24" width="5.74" height="5.75" fill="#f6bcbc"/>
<rect x="386.69" y="611.24" width="5.74" height="5.75" fill="#f6bcbc"/>
<rect x="391.42" y="611.24" width="5.74" height="5.75" fill="#ffffff"/>
<rect x="396.16" y="611.24" width="5.74" height="5.75" fill="#fbe1e1"/>
<rect x="400.89" y="611.24" width="5.74" height="5.75" fill="#8a8ec9"/>
<rect x="405.62" y="611.24" width="5.74" height="5.75" fill="#c8c8e6"/>
<rect x="410.36" y="611.24" width="5.74" height="5.75" fill="#f6bcbc"/>
<rect x="415.10" y="611.24" width="5.74" height="5.75" fill="#f6bcbc"/>
<rect x="419.83" y="611.24" width="5.74" height="5.75" fill="#f6bcbc"/>
<rect x="424.57" y="611.24" width="5.74" height="5.75" fill="#f18a8a"/>
<rect x="429.30" y="611.24" width="5.74" height="5.75" fill="#f18a8a"/>
<rect x="434.04" y="611.24" width="5.74" height="5.75" fill="#e8323a"/>
<rect x="438.77" y="611.24" width="5.74" height="5.75" fill="#f18a8a"/>
<rect x="443.50" y="611.24" width="5.74" height="5.75" fill="#f18a8a"/>
<rect x="448.24" y="611.24" width="5.74" height="5.75" fill="#f18a8a"/>
<rect x="452.98" y="611.24" width="5.74" height="5.75" fill="#f18a8a"/>
<rect x="457.71" y="611.24" width="5.74" height="5.75" fill="#f6bcbc"/>
<rect x="334.60" y="615.98" width="5.74" height="5.75" fill="#f18a8a"/>
<rect x="339.34" y="615.98" width="5.74" height="5.75" fill="#e8323a"/>
<rect x="344.07" y="615.98" width="5.74" height="5.75" fill="#b81c22"/>
<rect x="348.81" y="615.98" width="5.74" height="5.75" fill="#7e1116"/>
<rect x="353.54" y="615.98" width="5.74" height="5.75" fill="#b81c22"/>
<rect x="358.28" y="615.98" width="5.74" height="5.75" fill="#e8323a"/>
<rect x="363.01" y="615.98" width="5.74" height="5.75" fill="#e8323a"/>
<rect x="367.75" y="615.98" width="5.74" height="5.75" fill="#b81c22"/>
<rect x="372.48" y="615.98" width="5.74" height="5.75" fill="#b81c22"/>
<rect x="377.22" y="615.98" width="5.74" height="5.75" fill="#e8323a"/>
<rect x="381.95" y="615.98" width="5.74" height="5.75" fill="#f18a8a"/>
<rect x="386.69" y="615.98" width="5.74" height="5.75" fill="#f6bcbc"/>
<rect x="391.42" y="615.98" width="5.74" height="5.75" fill="#fbe1e1"/>
<rect x="396.16" y="615.98" width="5.74" height="5.75" fill="#ffffff"/>
<rect x="400.89" y="615.98" width="5.74" height="5.75" fill="#3444a1"/>
<rect x="405.62" y="615.98" width="5.74" height="5.75" fill="#a9abd9"/>
<rect x="410.36" y="615.98" width="5.74" height="5.75" fill="#e4e4f2"/>
<rect x="415.10" y="615.98" width="5.74" height="5.75" fill="#f6bcbc"/>
<rect x="419.83" y="615.98" width="5.74" height="5.75" fill="#f6bcbc"/>
<rect x="424.57" y="615.98" width="5.74" height="5.75" fill="#f18a8a"/>
<rect x="429.30" y="615.98" width="5.74" height="5.75" fill="#f18a8a"/>
<rect x="434.04" y="615.98" width="5.74" height="5.75" fill="#e8323a"/>
<rect x="438.77" y="615.98" width="5.74" height="5.75" fill="#e8323a"/>
<rect x="443.50" y="615.98" width="5.74" height="5.75" fill="#f18a8a"/>
<rect x="448.24" y="615.98" width="5.74" height="5.75" fill="#f18a8a"/>
<rect x="452.98" y="615.98" width="5.74" height="5.75" fill="#f18a8a"/>
<rect x="457.71" y="615.98" width="5.74" height="5.75" fill="#f6bcbc"/>
<rect x="334.60" y="620.73" width="5.74" height="5.75" fill="#f6bcbc"/>
<rect x="339.34" y="620.73" width="5.74" height="5.75" fill="#f6bcbc"/>
<rect x="344.07" y="620.73" width="5.74" height="5.75" fill="#f18a8a"/>
<rect x="348.81" y="620.73" width="5.74" height="5.75" fill="#f6bcbc"/>
<rect x="353.54" y="620.73" width="5.74" height="5.75" fill="#f6bcbc"/>
<rect x="358.28" y="620.73" width="5.74" height="5.75" fill="#fbe1e1"/>
<rect x="363.01" y="620.73" width="5.74" height="5.75" fill="#fbe1e1"/>
<rect x="367.75" y="620.73" width="5.74" height="5.75" fill="#fbe1e1"/>
<rect x="372.48" y="620.73" width="5.74" height="5.75" fill="#f6bcbc"/>
<rect x="377.22" y="620.73" width="5.74" height="5.75" fill="#fbe1e1"/>
<rect x="381.95" y="620.73" width="5.74" height="5.75" fill="#ffffff"/>
<rect x="386.69" y="620.73" width="5.74" height="5.75" fill="#a9abd9"/>
<rect x="391.42" y="620.73" width="5.74" height="5.75" fill="#a9abd9"/>
<rect x="396.16" y="620.73" width="5.74" height="5.75" fill="#3444a1"/>
<rect x="400.89" y="620.73" width="5.74" height="5.75" fill="#ffffff"/>
<rect x="405.62" y="620.73" width="5.74" height="5.75" fill="#6a72bb"/>
<rect x="410.36" y="620.73" width="5.74" height="5.75" fill="#ffffff"/>
<rect x="415.10" y="620.73" width="5.74" height="5.75" fill="#f18a8a"/>
<rect x="419.83" y="620.73" width="5.74" height="5.75" fill="#ffffff"/>
<rect x="424.57" y="620.73" width="5.74" height="5.75" fill="#f6bcbc"/>
<rect x="429.30" y="620.73" width="5.74" height="5.75" fill="#fbe1e1"/>
<rect x="434.04" y="620.73" width="5.74" height="5.75" fill="#f6bcbc"/>
<rect x="438.77" y="620.73" width="5.74" height="5.75" fill="#fbe1e1"/>
<rect x="443.50" y="620.73" width="5.74" height="5.75" fill="#f6bcbc"/>
<rect x="448.24" y="620.73" width="5.74" height="5.75" fill="#fbe1e1"/>
<rect x="452.98" y="620.73" width="5.74" height="5.75" fill="#f6bcbc"/>
<rect x="457.71" y="620.73" width="5.74" height="5.75" fill="#f6bcbc"/>
<rect x="334.60" y="625.47" width="5.74" height="5.75" fill="#f6bcbc"/>
<rect x="339.34" y="625.47" width="5.74" height="5.75" fill="#f18a8a"/>
<rect x="344.07" y="625.47" width="5.74" height="5.75" fill="#e8323a"/>
<rect x="348.81" y="625.47" width="5.74" height="5.75" fill="#f18a8a"/>
<rect x="353.54" y="625.47" width="5.74" height="5.75" fill="#f6bcbc"/>
<rect x="358.28" y="625.47" width="5.74" height="5.75" fill="#f6bcbc"/>
<rect x="363.01" y="625.47" width="5.74" height="5.75" fill="#fbe1e1"/>
<rect x="367.75" y="625.47" width="5.74" height="5.75" fill="#f18a8a"/>
<rect x="372.48" y="625.47" width="5.74" height="5.75" fill="#f18a8a"/>
<rect x="377.22" y="625.47" width="5.74" height="5.75" fill="#fbe1e1"/>
<rect x="381.95" y="625.47" width="5.74" height="5.75" fill="#e4e4f2"/>
<rect x="386.69" y="625.47" width="5.74" height="5.75" fill="#e4e4f2"/>
<rect x="391.42" y="625.47" width="5.74" height="5.75" fill="#e4e4f2"/>
<rect x="396.16" y="625.47" width="5.74" height="5.75" fill="#c8c8e6"/>
<rect x="400.89" y="625.47" width="5.74" height="5.75" fill="#8a8ec9"/>
<rect x="405.62" y="625.47" width="5.74" height="5.75" fill="#ffffff"/>
<rect x="410.36" y="625.47" width="5.74" height="5.75" fill="#3444a1"/>
<rect x="415.10" y="625.47" width="5.74" height="5.75" fill="#f18a8a"/>
<rect x="419.83" y="625.47" width="5.74" height="5.75" fill="#8a8ec9"/>
<rect x="424.57" y="625.47" width="5.74" height="5.75" fill="#fbe1e1"/>
<rect x="429.30" y="625.47" width="5.74" height="5.75" fill="#e4e4f2"/>
<rect x="434.04" y="625.47" width="5.74" height="5.75" fill="#fbe1e1"/>
<rect x="438.77" y="625.47" width="5.74" height="5.75" fill="#c8c8e6"/>
<rect x="443.50" y="625.47" width="5.74" height="5.75" fill="#fbe1e1"/>
<rect x="448.24" y="625.47" width="5.74" height="5.75" fill="#fbe1e1"/>
<rect x="452.98" y="625.47" width="5.74" height="5.75" fill="#f6bcbc"/>
<rect x="457.71" y="625.47" width="5.74" height="5.75" fill="#ffffff"/>
<rect x="334.60" y="630.22" width="5.74" height="5.75" fill="#fbe1e1"/>
<rect x="339.34" y="630.22" width="5.74" height="5.75" fill="#f18a8a"/>
<rect x="344.07" y="630.22" width="5.74" height="5.75" fill="#f18a8a"/>
<rect x="348.81" y="630.22" width="5.74" height="5.75" fill="#f18a8a"/>
<rect x="353.54" y="630.22" width="5.74" height="5.75" fill="#f6bcbc"/>
<rect x="358.28" y="630.22" width="5.74" height="5.75" fill="#f6bcbc"/>
<rect x="363.01" y="630.22" width="5.74" height="5.75" fill="#fbe1e1"/>
<rect x="367.75" y="630.22" width="5.74" height="5.75" fill="#f18a8a"/>
<rect x="372.48" y="630.22" width="5.74" height="5.75" fill="#f18a8a"/>
<rect x="377.22" y="630.22" width="5.74" height="5.75" fill="#fbe1e1"/>
<rect x="381.95" y="630.22" width="5.74" height="5.75" fill="#ffffff"/>
<rect x="386.69" y="630.22" width="5.74" height="5.75" fill="#fbe1e1"/>
<rect x="391.42" y="630.22" width="5.74" height="5.75" fill="#fbe1e1"/>
<rect x="396.16" y="630.22" width="5.74" height="5.75" fill="#e4e4f2"/>
<rect x="400.89" y="630.22" width="5.74" height="5.75" fill="#ffffff"/>
<rect x="405.62" y="630.22" width="5.74" height="5.75" fill="#3444a1"/>
<rect x="410.36" y="630.22" width="5.74" height="5.75" fill="#ffffff"/>
<rect x="415.10" y="630.22" width="5.74" height="5.75" fill="#7e1116"/>
<rect x="419.83" y="630.22" width="5.74" height="5.75" fill="#ffffff"/>
<rect x="424.57" y="630.22" width="5.74" height="5.75" fill="#f6bcbc"/>
<rect x="429.30" y="630.22" width="5.74" height="5.75" fill="#f6bcbc"/>
<rect x="434.04" y="630.22" width="5.74" height="5.75" fill="#f18a8a"/>
<rect x="438.77" y="630.22" width="5.74" height="5.75" fill="#fbe1e1"/>
<rect x="443.50" y="630.22" width="5.74" height="5.75" fill="#f6bcbc"/>
<rect x="448.24" y="630.22" width="5.74" height="5.75" fill="#fbe1e1"/>
<rect x="452.98" y="630.22" width="5.74" height="5.75" fill="#f6bcbc"/>
<rect x="457.71" y="630.22" width="5.74" height="5.75" fill="#f6bcbc"/>
<rect x="334.60" y="634.96" width="5.74" height="5.75" fill="#fbe1e1"/>
<rect x="339.34" y="634.96" width="5.74" height="5.75" fill="#f18a8a"/>
<rect x="344.07" y="634.96" width="5.74" height="5.75" fill="#f18a8a"/>
<rect x="348.81" y="634.96" width="5.74" height="5.75" fill="#f6bcbc"/>
<rect x="353.54" y="634.96" width="5.74" height="5.75" fill="#fbe1e1"/>
<rect x="358.28" y="634.96" width="5.74" height="5.75" fill="#fbe1e1"/>
<rect x="363.01" y="634.96" width="5.74" height="5.75" fill="#fbe1e1"/>
<rect x="367.75" y="634.96" width="5.74" height="5.75" fill="#f6bcbc"/>
<rect x="372.48" y="634.96" width="5.74" height="5.75" fill="#f6bcbc"/>
<rect x="377.22" y="634.96" width="5.74" height="5.75" fill="#fbe1e1"/>
<rect x="381.95" y="634.96" width="5.74" height="5.75" fill="#fbe1e1"/>
<rect x="386.69" y="634.96" width="5.74" height="5.75" fill="#fbe1e1"/>
<rect x="391.42" y="634.96" width="5.74" height="5.75" fill="#f6bcbc"/>
<rect x="396.16" y="634.96" width="5.74" height="5.75" fill="#f6bcbc"/>
<rect x="400.89" y="634.96" width="5.74" height="5.75" fill="#f18a8a"/>
<rect x="405.62" y="634.96" width="5.74" height="5.75" fill="#f18a8a"/>
<rect x="410.36" y="634.96" width="5.74" height="5.75" fill="#7e1116"/>
<rect x="415.10" y="634.96" width="5.74" height="5.75" fill="#ffffff"/>
<rect x="419.83" y="634.96" width="5.74" height="5.75" fill="#c8c8e6"/>
<rect x="424.57" y="634.96" width="5.74" height="5.75" fill="#f18a8a"/>
<rect x="429.30" y="634.96" width="5.74" height="5.75" fill="#f6bcbc"/>
<rect x="434.04" y="634.96" width="5.74" height="5.75" fill="#fbe1e1"/>
<rect x="438.77" y="634.96" width="5.74" height="5.75" fill="#fbe1e1"/>
<rect x="443.50" y="634.96" width="5.74" height="5.75" fill="#f6bcbc"/>
<rect x="448.24" y="634.96" width="5.74" height="5.75" fill="#f6bcbc"/>
<rect x="452.98" y="634.96" width="5.74" height="5.75" fill="#f6bcbc"/>
<rect x="457.71" y="634.96" width="5.74" height="5.75" fill="#f6bcbc"/>
<rect x="334.60" y="639.71" width="5.74" height="5.75" fill="#fbe1e1"/>
<rect x="339.34" y="639.71" width="5.74" height="5.75" fill="#f6bcbc"/>
<rect x="344.07" y="639.71" width="5.74" height="5.75" fill="#f6bcbc"/>
<rect x="348.81" y="639.71" width="5.74" height="5.75" fill="#f6bcbc"/>
<rect x="353.54" y="639.71" width="5.74" height="5.75" fill="#fbe1e1"/>
<rect x="358.28" y="639.71" width="5.74" height="5.75" fill="#fbe1e1"/>
<rect x="363.01" y="639.71" width="5.74" height="5.75" fill="#fbe1e1"/>
<rect x="367.75" y="639.71" width="5.74" height="5.75" fill="#fbe1e1"/>
<rect x="372.48" y="639.71" width="5.74" height="5.75" fill="#fbe1e1"/>
<rect x="377.22" y="639.71" width="5.74" height="5.75" fill="#ffffff"/>
<rect x="381.95" y="639.71" width="5.74" height="5.75" fill="#e4e4f2"/>
<rect x="386.69" y="639.71" width="5.74" height="5.75" fill="#fbe1e1"/>
<rect x="391.42" y="639.71" width="5.74" height="5.75" fill="#fbe1e1"/>
<rect x="396.16" y="639.71" width="5.74" height="5.75" fill="#f6bcbc"/>
<rect x="400.89" y="639.71" width="5.74" height="5.75" fill="#ffffff"/>
<rect x="405.62" y="639.71" width="5.74" height="5.75" fill="#8a8ec9"/>
<rect x="410.36" y="639.71" width="5.74" height="5.75" fill="#ffffff"/>
<rect x="415.10" y="639.71" width="5.74" height="5.75" fill="#c8c8e6"/>
<rect x="419.83" y="639.71" width="5.74" height="5.75" fill="#ffffff"/>
<rect x="424.57" y="639.71" width="5.74" height="5.75" fill="#f18a8a"/>
<rect x="429.30" y="639.71" width="5.74" height="5.75" fill="#fbe1e1"/>
<rect x="434.04" y="639.71" width="5.74" height="5.75" fill="#c8c8e6"/>
<rect x="438.77" y="639.71" width="5.74" height="5.75" fill="#c8c8e6"/>
<rect x="443.50" y="639.71" width="5.74" height="5.75" fill="#fbe1e1"/>
<rect x="448.24" y="639.71" width="5.74" height="5.75" fill="#fbe1e1"/>
<rect x="452.98" y="639.71" width="5.74" height="5.75" fill="#f6bcbc"/>
<rect x="457.71" y="639.71" width="5.74" height="5.75" fill="#f6bcbc"/>
<rect x="334.60" y="644.45" width="5.74" height="5.75" fill="#f6bcbc"/>
<rect x="339.34" y="644.45" width="5.74" height="5.75" fill="#f18a8a"/>
<rect x="344.07" y="644.45" width="5.74" height="5.75" fill="#f18a8a"/>
<rect x="348.81" y="644.45" width="5.74" height="5.75" fill="#f18a8a"/>
<rect x="353.54" y="644.45" width="5.74" height="5.75" fill="#f18a8a"/>
<rect x="358.28" y="644.45" width="5.74" height="5.75" fill="#f6bcbc"/>
<rect x="363.01" y="644.45" width="5.74" height="5.75" fill="#fbe1e1"/>
<rect x="367.75" y="644.45" width="5.74" height="5.75" fill="#f6bcbc"/>
<rect x="372.48" y="644.45" width="5.74" height="5.75" fill="#f6bcbc"/>
<rect x="377.22" y="644.45" width="5.74" height="5.75" fill="#f6bcbc"/>
<rect x="381.95" y="644.45" width="5.74" height="5.75" fill="#fbe1e1"/>
<rect x="386.69" y="644.45" width="5.74" height="5.75" fill="#f6bcbc"/>
<rect x="391.42" y="644.45" width="5.74" height="5.75" fill="#f18a8a"/>
<rect x="396.16" y="644.45" width="5.74" height="5.75" fill="#f18a8a"/>
<rect x="400.89" y="644.45" width="5.74" height="5.75" fill="#f6bcbc"/>
<rect x="405.62" y="644.45" width="5.74" height="5.75" fill="#fbe1e1"/>
<rect x="410.36" y="644.45" width="5.74" height="5.75" fill="#f6bcbc"/>
<rect x="415.10" y="644.45" width="5.74" height="5.75" fill="#f6bcbc"/>
<rect x="419.83" y="644.45" width="5.74" height="5.75" fill="#f6bcbc"/>
<rect x="424.57" y="644.45" width="5.74" height="5.75" fill="#ffffff"/>
<rect x="429.30" y="644.45" width="5.74" height="5.75" fill="#ffffff"/>
<rect x="434.04" y="644.45" width="5.74" height="5.75" fill="#fbe1e1"/>
<rect x="438.77" y="644.45" width="5.74" height="5.75" fill="#fbe1e1"/>
<rect x="443.50" y="644.45" width="5.74" height="5.75" fill="#f6bcbc"/>
<rect x="448.24" y="644.45" width="5.74" height="5.75" fill="#f18a8a"/>
<rect x="452.98" y="644.45" width="5.74" height="5.75" fill="#f6bcbc"/>
<rect x="457.71" y="644.45" width="5.74" height="5.75" fill="#f6bcbc"/>
<rect x="334.60" y="649.20" width="5.74" height="5.75" fill="#fbe1e1"/>
<rect x="339.34" y="649.20" width="5.74" height="5.75" fill="#f18a8a"/>
<rect x="344.07" y="649.20" width="5.74" height="5.75" fill="#e8323a"/>
<rect x="348.81" y="649.20" width="5.74" height="5.75" fill="#f18a8a"/>
<rect x="353.54" y="649.20" width="5.74" height="5.75" fill="#f18a8a"/>
<rect x="358.28" y="649.20" width="5.74" height="5.75" fill="#f18a8a"/>
<rect x="363.01" y="649.20" width="5.74" height="5.75" fill="#f6bcbc"/>
<rect x="367.75" y="649.20" width="5.74" height="5.75" fill="#f18a8a"/>
<rect x="372.48" y="649.20" width="5.74" height="5.75" fill="#f18a8a"/>
<rect x="377.22" y="649.20" width="5.74" height="5.75" fill="#f6bcbc"/>
<rect x="381.95" y="649.20" width="5.74" height="5.75" fill="#f6bcbc"/>
<rect x="386.69" y="649.20" width="5.74" height="5.75" fill="#f6bcbc"/>
<rect x="391.42" y="649.20" width="5.74" height="5.75" fill="#f18a8a"/>
<rect x="396.16" y="649.20" width="5.74" height="5.75" fill="#f18a8a"/>
<rect x="400.89" y="649.20" width="5.74" height="5.75" fill="#f6bcbc"/>
<rect x="405.62" y="649.20" width="5.74" height="5.75" fill="#e4e4f2"/>
<rect x="410.36" y="649.20" width="5.74" height="5.75" fill="#f6bcbc"/>
<rect x="415.10" y="649.20" width="5.74" height="5.75" fill="#f6bcbc"/>
<rect x="419.83" y="649.20" width="5.74" height="5.75" fill="#fbe1e1"/>
<rect x="424.57" y="649.20" width="5.74" height="5.75" fill="#ffffff"/>
<rect x="429.30" y="649.20" width="5.74" height="5.75" fill="#ffffff"/>
<rect x="434.04" y="649.20" width="5.74" height="5.75" fill="#ffffff"/>
<rect x="438.77" y="649.20" width="5.74" height="5.75" fill="#ffffff"/>
<rect x="443.50" y="649.20" width="5.74" height="5.75" fill="#f6bcbc"/>
<rect x="448.24" y="649.20" width="5.74" height="5.75" fill="#f6bcbc"/>
<rect x="452.98" y="649.20" width="5.74" height="5.75" fill="#f6bcbc"/>
<rect x="457.71" y="649.20" width="5.74" height="5.75" fill="#f18a8a"/>
<rect x="334.60" y="653.94" width="5.74" height="5.75" fill="#fbe1e1"/>
<rect x="339.34" y="653.94" width="5.74" height="5.75" fill="#f6bcbc"/>
<rect x="344.07" y="653.94" width="5.74" height="5.75" fill="#e8323a"/>
<rect x="348.81" y="653.94" width="5.74" height="5.75" fill="#f18a8a"/>
<rect x="353.54" y="653.94" width="5.74" height="5.75" fill="#f18a8a"/>
<rect x="358.28" y="653.94" width="5.74" height="5.75" fill="#f18a8a"/>
<rect x="363.01" y="653.94" width="5.74" height="5.75" fill="#f6bcbc"/>
<rect x="367.75" y="653.94" width="5.74" height="5.75" fill="#f18a8a"/>
<rect x="372.48" y="653.94" width="5.74" height="5.75" fill="#f18a8a"/>
<rect x="377.22" y="653.94" width="5.74" height="5.75" fill="#f6bcbc"/>
<rect x="381.95" y="653.94" width="5.74" height="5.75" fill="#f6bcbc"/>
<rect x="386.69" y="653.94" width="5.74" height="5.75" fill="#f6bcbc"/>
<rect x="391.42" y="653.94" width="5.74" height="5.75" fill="#e8323a"/>
<rect x="396.16" y="653.94" width="5.74" height="5.75" fill="#e8323a"/>
<rect x="400.89" y="653.94" width="5.74" height="5.75" fill="#f6bcbc"/>
<rect x="405.62" y="653.94" width="5.74" height="5.75" fill="#fbe1e1"/>
<rect x="410.36" y="653.94" width="5.74" height="5.75" fill="#f18a8a"/>
<rect x="415.10" y="653.94" width="5.74" height="5.75" fill="#fbe1e1"/>
<rect x="419.83" y="653.94" width="5.74" height="5.75" fill="#c8c8e6"/>
<rect x="424.57" y="653.94" width="5.74" height="5.75" fill="#fbe1e1"/>
<rect x="429.30" y="653.94" width="5.74" height="5.75" fill="#ffffff"/>
<rect x="434.04" y="653.94" width="5.74" height="5.75" fill="#ffffff"/>
<rect x="438.77" y="653.94" width="5.74" height="5.75" fill="#fbe1e1"/>
<rect x="443.50" y="653.94" width="5.74" height="5.75" fill="#ffffff"/>
<rect x="448.24" y="653.94" width="5.74" height="5.75" fill="#f18a8a"/>
<rect x="452.98" y="653.94" width="5.74" height="5.75" fill="#fbe1e1"/>
<rect x="457.71" y="653.94" width="5.74" height="5.75" fill="#f18a8a"/>
<rect x="334.60" y="658.69" width="5.74" height="5.75" fill="#f6bcbc"/>
<rect x="339.34" y="658.69" width="5.74" height="5.75" fill="#f6bcbc"/>
<rect x="344.07" y="658.69" width="5.74" height="5.75" fill="#f18a8a"/>
<rect x="348.81" y="658.69" width="5.74" height="5.75" fill="#f18a8a"/>
<rect x="353.54" y="658.69" width="5.74" height="5.75" fill="#f18a8a"/>
<rect x="358.28" y="658.69" width="5.74" height="5.75" fill="#f6bcbc"/>
<rect x="363.01" y="658.69" width="5.74" height="5.75" fill="#f6bcbc"/>
<rect x="367.75" y="658.69" width="5.74" height="5.75" fill="#f6bcbc"/>
<rect x="372.48" y="658.69" width="5.74" height="5.75" fill="#f6bcbc"/>
<rect x="377.22" y="658.69" width="5.74" height="5.75" fill="#f6bcbc"/>
<rect x="381.95" y="658.69" width="5.74" height="5.75" fill="#f6bcbc"/>
<rect x="386.69" y="658.69" width="5.74" height="5.75" fill="#f6bcbc"/>
<rect x="391.42" y="658.69" width="5.74" height="5.75" fill="#f6bcbc"/>
<rect x="396.16" y="658.69" width="5.74" height="5.75" fill="#f18a8a"/>
<rect x="400.89" y="658.69" width="5.74" height="5.75" fill="#fbe1e1"/>
<rect x="405.62" y="658.69" width="5.74" height="5.75" fill="#c8c8e6"/>
<rect x="410.36" y="658.69" width="5.74" height="5.75" fill="#fbe1e1"/>
<rect x="415.10" y="658.69" width="5.74" height="5.75" fill="#fbe1e1"/>
<rect x="419.83" y="658.69" width="5.74" height="5.75" fill="#c8c8e6"/>
<rect x="424.57" y="658.69" width="5.74" height="5.75" fill="#fbe1e1"/>
<rect x="429.30" y="658.69" width="5.74" height="5.75" fill="#ffffff"/>
<rect x="434.04" y="658.69" width="5.74" height="5.75" fill="#fbe1e1"/>
<rect x="438.77" y="658.69" width="5.74" height="5.75" fill="#fbe1e1"/>
<rect x="443.50" y="658.69" width="5.74" height="5.75" fill="#f18a8a"/>
<rect x="448.24" y="658.69" width="5.74" height="5.75" fill="#e8323a"/>
<rect x="452.98" y="658.69" width="5.74" height="5.75" fill="#f18a8a"/>
<rect x="457.71" y="658.69" width="5.74" height="5.75" fill="#f18a8a"/>
<rect x="334.60" y="663.43" width="5.74" height="5.75" fill="#f6bcbc"/>
<rect x="339.34" y="663.43" width="5.74" height="5.75" fill="#f18a8a"/>
<rect x="344.07" y="663.43" width="5.74" height="5.75" fill="#f18a8a"/>
<rect x="348.81" y="663.43" width="5.74" height="5.75" fill="#f6bcbc"/>
<rect x="353.54" y="663.43" width="5.74" height="5.75" fill="#f6bcbc"/>
<rect x="358.28" y="663.43" width="5.74" height="5.75" fill="#f18a8a"/>
<rect x="363.01" y="663.43" width="5.74" height="5.75" fill="#f18a8a"/>
<rect x="367.75" y="663.43" width="5.74" height="5.75" fill="#f6bcbc"/>
<rect x="372.48" y="663.43" width="5.74" height="5.75" fill="#f6bcbc"/>
<rect x="377.22" y="663.43" width="5.74" height="5.75" fill="#f6bcbc"/>
<rect x="381.95" y="663.43" width="5.74" height="5.75" fill="#f6bcbc"/>
<rect x="386.69" y="663.43" width="5.74" height="5.75" fill="#f6bcbc"/>
<rect x="391.42" y="663.43" width="5.74" height="5.75" fill="#f6bcbc"/>
<rect x="396.16" y="663.43" width="5.74" height="5.75" fill="#f18a8a"/>
<rect x="400.89" y="663.43" width="5.74" height="5.75" fill="#f6bcbc"/>
<rect x="405.62" y="663.43" width="5.74" height="5.75" fill="#fbe1e1"/>
<rect x="410.36" y="663.43" width="5.74" height="5.75" fill="#f18a8a"/>
<rect x="415.10" y="663.43" width="5.74" height="5.75" fill="#f18a8a"/>
<rect x="419.83" y="663.43" width="5.74" height="5.75" fill="#ffffff"/>
<rect x="424.57" y="663.43" width="5.74" height="5.75" fill="#f6bcbc"/>
<rect x="429.30" y="663.43" width="5.74" height="5.75" fill="#fbe1e1"/>
<rect x="434.04" y="663.43" width="5.74" height="5.75" fill="#ffffff"/>
<rect x="438.77" y="663.43" width="5.74" height="5.75" fill="#f18a8a"/>
<rect x="443.50" y="663.43" width="5.74" height="5.75" fill="#ffffff"/>
<rect x="448.24" y="663.43" width="5.74" height="5.75" fill="#f18a8a"/>
<rect x="452.98" y="663.43" width="5.74" height="5.75" fill="#f6bcbc"/>
<rect x="457.71" y="663.43" width="5.74" height="5.75" fill="#f18a8a"/>
<rect x="334.60" y="668.18" width="5.74" height="5.75" fill="#fbe1e1"/>
<rect x="339.34" y="668.18" width="5.74" height="5.75" fill="#fbe1e1"/>
<rect x="344.07" y="668.18" width="5.74" height="5.75" fill="#f6bcbc"/>
<rect x="348.81" y="668.18" width="5.74" height="5.75" fill="#fbe1e1"/>
<rect x="353.54" y="668.18" width="5.74" height="5.75" fill="#fbe1e1"/>
<rect x="358.28" y="668.18" width="5.74" height="5.75" fill="#f18a8a"/>
<rect x="363.01" y="668.18" width="5.74" height="5.75" fill="#f6bcbc"/>
<rect x="367.75" y="668.18" width="5.74" height="5.75" fill="#fbe1e1"/>
<rect x="372.48" y="668.18" width="5.74" height="5.75" fill="#f6bcbc"/>
<rect x="377.22" y="668.18" width="5.74" height="5.75" fill="#f6bcbc"/>
<rect x="381.95" y="668.18" width="5.74" height="5.75" fill="#f6bcbc"/>
<rect x="386.69" y="668.18" width="5.74" height="5.75" fill="#fbe1e1"/>
<rect x="391.42" y="668.18" width="5.74" height="5.75" fill="#f6bcbc"/>
<rect x="396.16" y="668.18" width="5.74" height="5.75" fill="#f18a8a"/>
<rect x="400.89" y="668.18" width="5.74" height="5.75" fill="#fbe1e1"/>
<rect x="405.62" y="668.18" width="5.74" height="5.75" fill="#fbe1e1"/>
<rect x="410.36" y="668.18" width="5.74" height="5.75" fill="#fbe1e1"/>
<rect x="415.10" y="668.18" width="5.74" height="5.75" fill="#f18a8a"/>
<rect x="419.83" y="668.18" width="5.74" height="5.75" fill="#fbe1e1"/>
<rect x="424.57" y="668.18" width="5.74" height="5.75" fill="#f18a8a"/>
<rect x="429.30" y="668.18" width="5.74" height="5.75" fill="#f6bcbc"/>
<rect x="434.04" y="668.18" width="5.74" height="5.75" fill="#f18a8a"/>
<rect x="438.77" y="668.18" width="5.74" height="5.75" fill="#e8323a"/>
<rect x="443.50" y="668.18" width="5.74" height="5.75" fill="#f18a8a"/>
<rect x="448.24" y="668.18" width="5.74" height="5.75" fill="#ffffff"/>
<rect x="452.98" y="668.18" width="5.74" height="5.75" fill="#f6bcbc"/>
<rect x="457.71" y="668.18" width="5.74" height="5.75" fill="#f18a8a"/>
<rect x="334.60" y="672.92" width="5.74" height="5.75" fill="#fbe1e1"/>
<rect x="339.34" y="672.92" width="5.74" height="5.75" fill="#f6bcbc"/>
<rect x="344.07" y="672.92" width="5.74" height="5.75" fill="#f18a8a"/>
<rect x="348.81" y="672.92" width="5.74" height="5.75" fill="#f18a8a"/>
<rect x="353.54" y="672.92" width="5.74" height="5.75" fill="#f18a8a"/>
<rect x="358.28" y="672.92" width="5.74" height="5.75" fill="#f18a8a"/>
<rect x="363.01" y="672.92" width="5.74" height="5.75" fill="#e8323a"/>
<rect x="367.75" y="672.92" width="5.74" height="5.75" fill="#f6bcbc"/>
<rect x="372.48" y="672.92" width="5.74" height="5.75" fill="#f18a8a"/>
<rect x="377.22" y="672.92" width="5.74" height="5.75" fill="#f6bcbc"/>
<rect x="381.95" y="672.92" width="5.74" height="5.75" fill="#f6bcbc"/>
<rect x="386.69" y="672.92" width="5.74" height="5.75" fill="#f6bcbc"/>
<rect x="391.42" y="672.92" width="5.74" height="5.75" fill="#f6bcbc"/>
<rect x="396.16" y="672.92" width="5.74" height="5.75" fill="#f18a8a"/>
<rect x="400.89" y="672.92" width="5.74" height="5.75" fill="#f6bcbc"/>
<rect x="405.62" y="672.92" width="5.74" height="5.75" fill="#f18a8a"/>
<rect x="410.36" y="672.92" width="5.74" height="5.75" fill="#f18a8a"/>
<rect x="415.10" y="672.92" width="5.74" height="5.75" fill="#f18a8a"/>
<rect x="419.83" y="672.92" width="5.74" height="5.75" fill="#f6bcbc"/>
<rect x="424.57" y="672.92" width="5.74" height="5.75" fill="#f6bcbc"/>
<rect x="429.30" y="672.92" width="5.74" height="5.75" fill="#f6bcbc"/>
<rect x="434.04" y="672.92" width="5.74" height="5.75" fill="#fbe1e1"/>
<rect x="438.77" y="672.92" width="5.74" height="5.75" fill="#f18a8a"/>
<rect x="443.50" y="672.92" width="5.74" height="5.75" fill="#fbe1e1"/>
<rect x="448.24" y="672.92" width="5.74" height="5.75" fill="#f6bcbc"/>
<rect x="452.98" y="672.92" width="5.74" height="5.75" fill="#ffffff"/>
<rect x="457.71" y="672.92" width="5.74" height="5.75" fill="#f18a8a"/>
<rect x="334.60" y="677.67" width="5.74" height="5.75" fill="#fbe1e1"/>
<rect x="339.34" y="677.67" width="5.74" height="5.75" fill="#fbe1e1"/>
<rect x="344.07" y="677.67" width="5.74" height="5.75" fill="#f6bcbc"/>
<rect x="348.81" y="677.67" width="5.74" height="5.75" fill="#f6bcbc"/>
<rect x="353.54" y="677.67" width="5.74" height="5.75" fill="#f6bcbc"/>
<rect x="358.28" y="677.67" width="5.74" height="5.75" fill="#f6bcbc"/>
<rect x="363.01" y="677.67" width="5.74" height="5.75" fill="#f6bcbc"/>
<rect x="367.75" y="677.67" width="5.74" height="5.75" fill="#f6bcbc"/>
<rect x="372.48" y="677.67" width="5.74" height="5.75" fill="#f6bcbc"/>
<rect x="377.22" y="677.67" width="5.74" height="5.75" fill="#f6bcbc"/>
<rect x="381.95" y="677.67" width="5.74" height="5.75" fill="#fbe1e1"/>
<rect x="386.69" y="677.67" width="5.74" height="5.75" fill="#fbe1e1"/>
<rect x="391.42" y="677.67" width="5.74" height="5.75" fill="#f6bcbc"/>
<rect x="396.16" y="677.67" width="5.74" height="5.75" fill="#f6bcbc"/>
<rect x="400.89" y="677.67" width="5.74" height="5.75" fill="#fbe1e1"/>
<rect x="405.62" y="677.67" width="5.74" height="5.75" fill="#ffffff"/>
<rect x="410.36" y="677.67" width="5.74" height="5.75" fill="#f6bcbc"/>
<rect x="415.10" y="677.67" width="5.74" height="5.75" fill="#f6bcbc"/>
<rect x="419.83" y="677.67" width="5.74" height="5.75" fill="#f6bcbc"/>
<rect x="424.57" y="677.67" width="5.74" height="5.75" fill="#f6bcbc"/>
<rect x="429.30" y="677.67" width="5.74" height="5.75" fill="#f6bcbc"/>
<rect x="434.04" y="677.67" width="5.74" height="5.75" fill="#f6bcbc"/>
<rect x="438.77" y="677.67" width="5.74" height="5.75" fill="#f18a8a"/>
<rect x="443.50" y="677.67" width="5.74" height="5.75" fill="#f18a8a"/>
<rect x="448.24" y="677.67" width="5.74" height="5.75" fill="#f18a8a"/>
<rect x="452.98" y="677.67" width="5.74" height="5.75" fill="#f18a8a"/>
<rect x="457.71" y="677.67" width="5.74" height="5.75" fill="#ffffff"/>
</g>
<rect x="334.60" y="554.30" width="127.85" height="128.12" fill="none" stroke="#666" stroke-width="0.7"/>
<linearGradient id="cbn" x1="0" y1="0" x2="0" y2="1"><stop offset="0" stop-color="#1b1b4f"/><stop offset="0.16666666666666666" stop-color="#2b3f9c"/><stop offset="0.3333333333333333" stop-color="#8a90c8"/><stop offset="0.5" stop-color="#ffffff"/><stop offset="0.6666666666666666" stop-color="#e32028"/><stop offset="0.8333333333333334" stop-color="#a11a1f"/><stop offset="1" stop-color="#6b1015"/></linearGradient>
<rect x="466.60" y="554.30" width="8.60" height="128.30" fill="url(#cbn)" stroke="#555" stroke-width="0.8"/>
<text x="478.20" y="556.10" font-size="6.4" fill="#3a3a3a">0.3</text>
<text x="478.20" y="577.49" font-size="6.4" fill="#3a3a3a">0.2</text>
<line x1="473.20" y1="575.68" x2="475.20" y2="575.68" stroke="#333" stroke-width="0.7"/>
<text x="478.20" y="598.87" font-size="6.4" fill="#3a3a3a">0.1</text>
<line x1="473.20" y1="597.07" x2="475.20" y2="597.07" stroke="#333" stroke-width="0.7"/>
<text x="478.20" y="620.25" font-size="6.4" fill="#3a3a3a">0</text>
<line x1="473.20" y1="618.45" x2="475.20" y2="618.45" stroke="#333" stroke-width="0.7"/>
<text x="478.20" y="641.64" font-size="6.4" fill="#3a3a3a">−0.1</text>
<line x1="473.20" y1="639.83" x2="475.20" y2="639.83" stroke="#333" stroke-width="0.7"/>
<text x="478.20" y="663.02" font-size="6.4" fill="#3a3a3a">−0.2</text>
<line x1="473.20" y1="661.22" x2="475.20" y2="661.22" stroke="#333" stroke-width="0.7"/>
<text x="478.20" y="684.40" font-size="6.4" fill="#3a3a3a">−0.3</text>
<text x="500.51" y="621.66" font-size="7.8" text-anchor="middle" fill="#3a3a3a" textLength="118.10" lengthAdjust="spacingAndGlyphs" transform="rotate(90 500.51 618.85)">log<tspan font-size="4.5" dy="1.7">2</tspan><tspan dy="-1.7">fc of overall inter-TAD distance</tspan></text>
<text x="331.00" y="577.70" font-size="6.8" text-anchor="end" fill="#3a3a3a">5</text>
<line x1="334.60" y1="575.65" x2="338.40" y2="575.65" stroke="#333" stroke-width="0.8"/>
<text x="355.91" y="691.95" font-size="6.8" text-anchor="middle" fill="#3a3a3a">5</text>
<line x1="355.91" y1="678.62" x2="355.91" y2="682.41" stroke="#333" stroke-width="0.8"/>
<text x="331.00" y="601.43" font-size="6.8" text-anchor="end" fill="#3a3a3a">10</text>
<line x1="334.60" y1="599.38" x2="338.40" y2="599.38" stroke="#333" stroke-width="0.8"/>
<text x="379.58" y="691.95" font-size="6.8" text-anchor="middle" fill="#3a3a3a">10</text>
<line x1="379.58" y1="678.62" x2="379.58" y2="682.41" stroke="#333" stroke-width="0.8"/>
<text x="331.00" y="625.15" font-size="6.8" text-anchor="end" fill="#3a3a3a">15</text>
<line x1="334.60" y1="623.10" x2="338.40" y2="623.10" stroke="#333" stroke-width="0.8"/>
<text x="403.26" y="691.95" font-size="6.8" text-anchor="middle" fill="#3a3a3a">15</text>
<line x1="403.26" y1="678.62" x2="403.26" y2="682.41" stroke="#333" stroke-width="0.8"/>
<text x="331.00" y="648.88" font-size="6.8" text-anchor="end" fill="#3a3a3a">20</text>
<line x1="334.60" y1="646.83" x2="338.40" y2="646.83" stroke="#333" stroke-width="0.8"/>
<text x="426.93" y="691.95" font-size="6.8" text-anchor="middle" fill="#3a3a3a">20</text>
<line x1="426.93" y1="678.62" x2="426.93" y2="682.41" stroke="#333" stroke-width="0.8"/>
<text x="331.00" y="672.60" font-size="6.8" text-anchor="end" fill="#3a3a3a">25</text>
<line x1="334.60" y1="670.55" x2="338.40" y2="670.55" stroke="#333" stroke-width="0.8"/>
<text x="450.61" y="691.95" font-size="6.8" text-anchor="middle" fill="#3a3a3a">25</text>
<line x1="450.61" y1="678.62" x2="450.61" y2="682.41" stroke="#333" stroke-width="0.8"/>
<text x="315.81" y="620.94" font-size="7.2" text-anchor="middle" fill="#3a3a3a" textLength="22.70" lengthAdjust="spacingAndGlyphs" transform="rotate(-90 315.81 618.35)">TAD ID</text>
<text x="398.90" y="705.34" font-size="7.2" text-anchor="middle" fill="#3a3a3a" textLength="22.20" lengthAdjust="spacingAndGlyphs">TAD ID</text>
<text x="531.50" y="540.40" font-size="12" font-weight="bold" fill="#000" stroke="#000" stroke-width="0.3" style="fill:#000">o</text>
<line x1="561.20" y1="548.40" x2="561.20" y2="682.70" stroke="#6a6a6a" stroke-width="0.8"/>
<line x1="557.70" y1="548.40" x2="561.20" y2="548.40" stroke="#6a6a6a" stroke-width="0.8"/>
<text x="554.10" y="550.10" font-size="6.4" text-anchor="end" fill="#484848">1.8</text>
<line x1="557.70" y1="575.26" x2="561.20" y2="575.26" stroke="#6a6a6a" stroke-width="0.8"/>
<text x="554.10" y="576.96" font-size="6.4" text-anchor="end" fill="#484848">1.6</text>
<line x1="557.70" y1="602.12" x2="561.20" y2="602.12" stroke="#6a6a6a" stroke-width="0.8"/>
<text x="554.10" y="603.82" font-size="6.4" text-anchor="end" fill="#484848">1.4</text>
<line x1="557.70" y1="628.98" x2="561.20" y2="628.98" stroke="#6a6a6a" stroke-width="0.8"/>
<text x="554.10" y="630.68" font-size="6.4" text-anchor="end" fill="#484848">1.2</text>
<line x1="557.70" y1="655.84" x2="561.20" y2="655.84" stroke="#6a6a6a" stroke-width="0.8"/>
<text x="554.10" y="657.54" font-size="6.4" text-anchor="end" fill="#484848">1.0</text>
<line x1="557.70" y1="682.70" x2="561.20" y2="682.70" stroke="#6a6a6a" stroke-width="0.8"/>
<text x="554.10" y="684.40" font-size="6.4" text-anchor="end" fill="#484848">0.8</text>
<line x1="561.20" y1="682.70" x2="651.40" y2="682.70" stroke="#6a6a6a" stroke-width="0.8"/>
<line x1="586.80" y1="682.70" x2="586.80" y2="686.10" stroke="#6a6a6a" stroke-width="0.8"/>
<line x1="625.30" y1="682.70" x2="625.30" y2="686.10" stroke="#6a6a6a" stroke-width="0.8"/>
<line x1="587.10" y1="561.80" x2="587.10" y2="573.50" stroke="#999" stroke-width="0.8"/>
<line x1="587.10" y1="624.40" x2="587.10" y2="666.80" stroke="#999" stroke-width="0.8"/>
<line x1="581.20" y1="561.80" x2="593.00" y2="561.80" stroke="#999" stroke-width="0.8"/>
<line x1="581.20" y1="666.80" x2="593.00" y2="666.80" stroke="#999" stroke-width="0.8"/>
<rect x="574.30" y="573.50" width="25.60" height="50.90" fill="#fff" stroke="#555" stroke-width="0.8"/>
<line x1="574.30" y1="595.40" x2="599.90" y2="595.40" stroke="#555" stroke-width="0.8"/>
<line x1="625.25" y1="570.30" x2="625.25" y2="581.10" stroke="#555" stroke-width="0.8"/>
<line x1="625.25" y1="634.40" x2="625.25" y2="673.60" stroke="#555" stroke-width="0.8"/>
<line x1="619.35" y1="570.30" x2="631.15" y2="570.30" stroke="#555" stroke-width="0.8"/>
<line x1="619.35" y1="673.60" x2="631.15" y2="673.60" stroke="#555" stroke-width="0.8"/>
<rect x="612.40" y="581.10" width="25.70" height="53.30" fill="#f7941d" stroke="#555" stroke-width="0.8"/>
<line x1="612.40" y1="602.50" x2="638.10" y2="602.50" stroke="#444" stroke-width="0.8"/>
<text x="586.80" y="696.12" font-size="7" text-anchor="middle" fill="#3a3a3a" textLength="19.50" lengthAdjust="spacingAndGlyphs">sgCtrl</text>
<text x="625.30" y="696.12" font-size="7" text-anchor="middle" fill="#3a3a3a" textLength="33.00" lengthAdjust="spacingAndGlyphs">sgZNF114</text>
<text x="587.40" y="556.37" font-size="6.3" fill="#3a3a3a" textLength="45.00" lengthAdjust="spacingAndGlyphs"><tspan font-style="italic">P</tspan> = 1.0 × 10<tspan font-size="4.03" dy="-3.47">−50</tspan></text>
<text x="534.79" y="618.71" font-size="7.8" text-anchor="middle" fill="#3a3a3a" textLength="84.00" lengthAdjust="spacingAndGlyphs" transform="rotate(-90 534.79 615.90)">Overall inter-TAD dis/μm</text>
</svg></body></html>
